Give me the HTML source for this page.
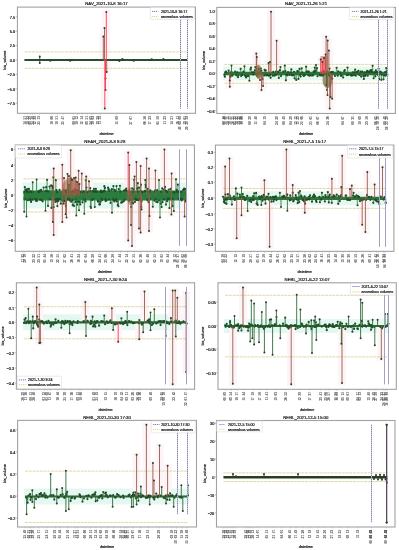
<!DOCTYPE html>
<html><head><meta charset="utf-8"><style>
html,body{margin:0;padding:0;background:#fff;width:399px;height:550px;overflow:hidden}
svg text{font-family:"Liberation Sans", sans-serif}
svg{will-change:transform}
.t{fill:#111;stroke:#111;stroke-width:0.18}
.k{font-size:3.0px;font-weight:bold;fill:#5a5a5a;stroke:#5a5a5a;stroke-width:0.05}
</style></head><body>
<svg xmlns="http://www.w3.org/2000/svg" width="399" height="550" viewBox="0 0 399 550" style="display:block">
<rect width="399" height="550" fill="#fff"/>
<rect x="102.3" y="10" width="8" height="52" fill="#fdf4f7"/>
<rect x="100.5" y="26" width="8" height="36" fill="#fdf4f7"/>
<rect x="99.3" y="34.5" width="8" height="27.5" fill="#fdf4f7"/>
<rect x="102.7" y="58" width="8" height="16" fill="#fdf4f7"/>
<rect x="101.5" y="58" width="8" height="22.4" fill="#fdf4f7"/>
<rect x="101.5" y="58" width="8" height="34" fill="#fdf4f7"/>
<rect x="100.8" y="58" width="8" height="52.5" fill="#fdf4f7"/>
<rect x="66.5" y="58" width="8" height="4" fill="#fdf4f7"/>
<line x1="24.5" y1="51.9" x2="188" y2="51.9" stroke="#e0d8a6" stroke-width="1" stroke-dasharray="3,0.7"/>
<line x1="24.5" y1="68.3" x2="188" y2="68.3" stroke="#e0d8a6" stroke-width="1" stroke-dasharray="3,0.7"/>
<line x1="24.5" y1="60" x2="188" y2="60" stroke="#2a4d2c" stroke-width="2.2"/>
<polyline points="24.5,59.59 24.89,60.12 25.28,59.59 25.67,60.18 26.06,59.92 26.45,60.02 26.84,59.89 27.23,60.18 27.62,60.07 28.01,60.15 28.4,60.17 28.79,59.96 29.18,60.38 29.57,59.73 29.96,60.02 30.35,60.02 30.74,59.85 31.13,59.93 31.52,60.02 31.91,60.27 32.3,60.22 32.69,60.23 33.08,59.91 33.47,59.58 33.87,59.74 34.26,59.84 34.65,59.81 35.04,60.22 35.43,60.28 35.82,59.77 36.21,60.33 36.6,59.79 36.99,59.67 37.38,60.01 37.77,60.1 38.16,59.89 38.55,60.06 38.94,60.06 39.33,59.87 39.72,60.32 40.11,59.8 40.5,59.91 40.89,60.11 41.28,60.29 41.67,59.55 42.06,60.37 42.45,59.73 42.84,59.75 43.23,59.95 43.62,59.86 44.01,60.16 44.4,60.05 44.79,60.23 45.18,60.28 45.57,60.24 45.96,59.92 46.35,59.85 46.74,60.23 47.13,60 47.52,60.14 47.91,60.31 48.3,59.86 48.69,59.97 49.08,60.39 49.47,59.85 49.86,60.13 50.25,60.72 50.64,59.7 51.03,60.1 51.42,60.01 51.82,59.66 52.21,59.65 52.6,59.88 52.99,59.76 53.38,60.05 53.77,59.99 54.16,60.04 54.55,59.87 54.94,59.86 55.33,59.61 55.72,59.8 56.11,60.18 56.5,60.17 56.89,59.74 57.28,59.91 57.67,59.9 58.06,60.16 58.45,60.14 58.84,60.04 59.23,60.25 59.62,60.07 60.01,59.92 60.4,60.14 60.79,60.02 61.18,59.92 61.57,59.92 61.96,60.27 62.35,60.33 62.74,60.39 63.13,59.87 63.52,60.38 63.91,60.29 64.3,60.38 64.69,59.78 65.08,59.97 65.47,59.57 65.86,60.3 66.25,60.03 66.64,59.94 67.03,59.94 67.42,60.02 67.81,60.07 68.2,59.95 68.59,59.97 68.98,60.04 69.37,59.62 69.76,60.08 70.16,60.73 70.55,60.09 70.94,59.91 71.33,60.28 71.72,59.74 72.11,60.19 72.5,60.12 72.89,60.36 73.28,59.84 73.67,60.06 74.06,60.19 74.45,60 74.84,59.96 75.23,59.98 75.62,59.52 76.01,60.03 76.4,60 76.79,59.88 77.18,60.11 77.57,60.04 77.96,60.2 78.35,60 78.74,60.06 79.13,60.17 79.52,60.33 79.91,60.17 80.3,60.3 80.69,59.75 81.08,59.97 81.47,60.29 81.86,60.07 82.25,59.65 82.64,60.45 83.03,59.64 83.42,59.82 83.81,59.75 84.2,60.5 84.59,60.05 84.98,59.66 85.37,60.14 85.76,60.1 86.15,59.65 86.54,59.69 86.93,60.21 87.32,59.93 87.71,59.62 88.11,60.06 88.5,59.5 88.89,59.97 89.28,60.25 89.67,59.97 90.06,60.29 90.45,59.89 90.84,60.36 91.23,60.26 91.62,59.8 92.01,60.03 92.4,60.05 92.79,59.95 93.18,60.04 93.57,60.1 93.96,59.79 94.35,59.77 94.74,60.3 95.13,59.98 95.52,60.14 95.91,60.29 96.3,59.99 96.69,59.62 97.08,60.26 97.47,60 97.86,59.96 98.25,60.16 98.64,59.5 99.03,59.91 99.42,59.84 99.81,59.81 100.2,60.27 100.59,60.23 100.98,60.13 101.37,59.96 101.76,60.02 102.15,60.28 102.54,59.75 102.93,59.96 103.32,59.95 103.71,59.89 104.1,60.41 104.49,60.08 104.88,59.96 105.27,60.03 105.66,59.97 106.05,60.3 106.45,60.38 106.84,59.83 107.23,59.88 107.62,60.16 108.01,59.84 108.4,60.14 108.79,60.02 109.18,59.61 109.57,59.35 109.96,60.27 110.35,59.98 110.74,60.03 111.13,59.86 111.52,60.1 111.91,59.92 112.3,59.71 112.69,60.01 113.08,59.56 113.47,60.23 113.86,59.52 114.25,60.36 114.64,59.72 115.03,59.73 115.42,59.86 115.81,59.64 116.2,59.54 116.59,59.9 116.98,60.25 117.37,60.01 117.76,60.14 118.15,59.91 118.54,60.12 118.93,60.12 119.32,60.94 119.71,59.9 120.1,60.31 120.49,59.77 120.88,60.38 121.27,59.8 121.66,60.02 122.05,59.8 122.44,59.21 122.83,59.91 123.22,60.18 123.61,59.56 124,59.76 124.39,59.84 124.79,60.03 125.18,59.74 125.57,59.91 125.96,59.82 126.35,60.14 126.74,59.72 127.13,59.85 127.52,60.1 127.91,59.46 128.3,59.63 128.69,59.82 129.08,59.69 129.47,59.91 129.86,60.43 130.25,60.31 130.64,60.13 131.03,59.84 131.42,60 131.81,59.84 132.2,60.33 132.59,60.13 132.98,59.6 133.37,59.87 133.76,60.68 134.15,60.23 134.54,59.91 134.93,59.83 135.32,59.74 135.71,60.19 136.1,60 136.49,60 136.88,60.27 137.27,59.82 137.66,59.94 138.05,59.94 138.44,60.19 138.83,59.65 139.22,59.98 139.61,59.49 140,60.33 140.39,59.95 140.78,59.96 141.17,60.06 141.56,59.94 141.95,59.5 142.34,59.98 142.74,59.68 143.13,59.73 143.52,59.91 143.91,60.36 144.3,60.08 144.69,59.6 145.08,59.85 145.47,59.97 145.86,59.7 146.25,60.15 146.64,60.04 147.03,60.16 147.42,59.86 147.81,60.13 148.2,59.8 148.59,59.88 148.98,60.04 149.37,60.07 149.76,59.87 150.15,59.7 150.54,60.15 150.93,60.22 151.32,60.1 151.71,59.27 152.1,59.81 152.49,59.78 152.88,59.97 153.27,60.22 153.66,59.81 154.05,59.99 154.44,60.23 154.83,60.36 155.22,60.08 155.61,59.82 156,59.91 156.39,59.89 156.78,59.88 157.17,60.08 157.56,59.88 157.95,59.93 158.34,59.74 158.73,60.25 159.12,59.5 159.51,59.72 159.9,59.91 160.29,59.79 160.68,59.83 161.08,59.76 161.47,59.41 161.86,60.05 162.25,59.85 162.64,59.82 163.03,59.92 163.42,59.21 163.81,59.95 164.2,60.22 164.59,59.82 164.98,60.13 165.37,60.09 165.76,60.17 166.15,60.07 166.54,59.88 166.93,59.72 167.32,59.92 167.71,60.4 168.1,59.65 168.49,59.94 168.88,60.12 169.27,60.21 169.66,59.84 170.05,60.3 170.44,59.9 170.83,60.19 171.22,59.76 171.61,60.08 172,60.46 172.39,60.2 172.78,59.36 173.17,60.06 173.56,60.28 173.95,59.86 174.34,59.92 174.73,59.64 175.12,60.09 175.51,59.64 175.9,60.19 176.29,60.2 176.68,59.69 177.07,60.12 177.46,59.98 177.85,60.21 178.24,59.37 178.63,59.63 179.03,60.27 179.42,60.21 179.81,59.55 180.2,60.1 180.59,60.61 180.98,60.2 181.37,60.54 181.76,60.28 182.15,59.84 182.54,59.72 182.93,60.17 183.32,60.11 183.71,59.68 184.1,59.99 184.49,60.37 184.88,60.01 185.27,60.08 185.66,60.21 186.05,60.11 186.44,60.25 186.83,60.07 187.22,60.16 187.61,59.94 188,60.18" fill="none" stroke="#2a4d2c" stroke-width="0.5" stroke-linejoin="round"/>
<circle cx="50.25" cy="60.72" r="1.1" fill="#1f4d26"/>
<circle cx="70.16" cy="60.73" r="1.1" fill="#1f4d26"/>
<circle cx="119.32" cy="60.94" r="1.1" fill="#1f4d26"/>
<circle cx="122.44" cy="59.21" r="1.1" fill="#1f4d26"/>
<circle cx="133.76" cy="60.68" r="1.1" fill="#1f4d26"/>
<circle cx="151.71" cy="59.27" r="1.1" fill="#1f4d26"/>
<circle cx="163.42" cy="59.21" r="1.1" fill="#1f4d26"/>
<line x1="106.3" y1="60" x2="106.3" y2="12" stroke="#ff3b52" stroke-width="0.9"/>
<circle cx="106.3" cy="12" r="1.0" fill="#2b3d2b"/>
<line x1="104.5" y1="60" x2="104.5" y2="28" stroke="#9a5a48" stroke-width="0.9"/>
<circle cx="104.5" cy="28" r="1.0" fill="#2b3d2b"/>
<line x1="103.3" y1="60" x2="103.3" y2="36.5" stroke="#9a5a48" stroke-width="0.9"/>
<circle cx="103.3" cy="36.5" r="1.0" fill="#2b3d2b"/>
<line x1="106.7" y1="60" x2="106.7" y2="72" stroke="#9a5a48" stroke-width="0.9"/>
<circle cx="106.7" cy="72" r="1.0" fill="#2b3d2b"/>
<line x1="105.5" y1="60" x2="105.5" y2="78.4" stroke="#ff3b52" stroke-width="0.9"/>
<circle cx="105.5" cy="78.4" r="1.0" fill="#2b3d2b"/>
<line x1="105.5" y1="60" x2="105.5" y2="90" stroke="#ff3b52" stroke-width="0.9"/>
<circle cx="105.5" cy="90" r="1.0" fill="#2b3d2b"/>
<line x1="104.8" y1="60" x2="104.8" y2="108.5" stroke="#ff3b52" stroke-width="0.9"/>
<circle cx="104.8" cy="108.5" r="1.0" fill="#2b3d2b"/>
<line x1="39.75" y1="60" x2="39.75" y2="56.5" stroke="#2a4d2c" stroke-width="0.9"/>
<circle cx="39.75" cy="56.5" r="1.0" fill="#2b3d2b"/>
<line x1="39.75" y1="60" x2="39.75" y2="63.1" stroke="#2a4d2c" stroke-width="0.9"/>
<circle cx="39.75" cy="63.1" r="1.0" fill="#2b3d2b"/>
<line x1="70.5" y1="60" x2="70.5" y2="60" stroke="#ff3b52" stroke-width="0.9"/>
<circle cx="70.5" cy="60" r="1.0" fill="#2b3d2b"/>
<line x1="180.5" y1="12" x2="180.5" y2="108.5" stroke="#c8c8da" stroke-width="1"/>
<line x1="180.5" y1="12" x2="180.5" y2="108.5" stroke="#7c7ca8" stroke-width="1" stroke-dasharray="1,1"/>
<line x1="187.5" y1="12" x2="187.5" y2="108.5" stroke="#c8c8da" stroke-width="1"/>
<line x1="187.5" y1="12" x2="187.5" y2="108.5" stroke="#7c7ca8" stroke-width="1" stroke-dasharray="1,1"/>
<rect x="17.45" y="7.1" width="178.05" height="106.2" fill="none" stroke="#a2a2a2" stroke-width="1.1"/>
<rect x="150.4" y="7.5" width="44" height="11.8" fill="#fff" fill-opacity="0.85" stroke="#dcdcdc" stroke-width="0.6" rx="0.6"/>
<line x1="151.9" y1="11.4" x2="158.3" y2="11.4" stroke="#6668b4" stroke-width="0.9" stroke-dasharray="1.2,0.8"/>
<line x1="151.9" y1="16.5" x2="158.3" y2="16.5" stroke="#dccf78" stroke-width="0.9" stroke-dasharray="1.2,0.8"/>
<text x="160.9" y="12.7" class="t" font-size="3.6">2021-10-8 16:17</text>
<text x="160.9" y="17.8" class="t" font-size="3.58">anomalous volumes</text>
<text x="106.47" y="4.85" class="t" font-size="4.3" text-anchor="middle">NAV_2021-10-8 16:17</text>
<line x1="15.65" y1="16.75" x2="17.45" y2="16.75" stroke="#a2a2a2" stroke-width="0.7"/>
<text x="15.25" y="18.65" class="t" font-size="3.9" text-anchor="end">7.5</text>
<line x1="15.65" y1="31.25" x2="17.45" y2="31.25" stroke="#a2a2a2" stroke-width="0.7"/>
<text x="15.25" y="33.15" class="t" font-size="3.9" text-anchor="end">5.0</text>
<line x1="15.65" y1="45.5" x2="17.45" y2="45.5" stroke="#a2a2a2" stroke-width="0.7"/>
<text x="15.25" y="47.4" class="t" font-size="3.9" text-anchor="end">2.5</text>
<line x1="15.65" y1="60" x2="17.45" y2="60" stroke="#a2a2a2" stroke-width="0.7"/>
<text x="15.25" y="61.9" class="t" font-size="3.9" text-anchor="end">0.0</text>
<line x1="15.65" y1="74.4" x2="17.45" y2="74.4" stroke="#a2a2a2" stroke-width="0.7"/>
<text x="15.25" y="76.3" class="t" font-size="3.9" text-anchor="end">−2.5</text>
<line x1="15.65" y1="88.8" x2="17.45" y2="88.8" stroke="#a2a2a2" stroke-width="0.7"/>
<text x="15.25" y="90.7" class="t" font-size="3.9" text-anchor="end">−5.0</text>
<line x1="15.65" y1="103.25" x2="17.45" y2="103.25" stroke="#a2a2a2" stroke-width="0.7"/>
<text x="15.25" y="105.15" class="t" font-size="3.9" text-anchor="end">−7.5</text>
<text x="0" y="0" class="t" font-size="3.75" text-anchor="middle" transform="translate(5.9,60.2) rotate(-90)">bis_volume</text>
<line x1="25" y1="113.3" x2="25" y2="114.7" stroke="#a2a2a2" stroke-width="0.5"/>
<text class="k" transform="translate(25.95,116.1) rotate(-90)" text-anchor="end">51</text>
<text class="k" transform="translate(25.95,121.2) rotate(-90)" text-anchor="end">14</text>
<line x1="27.6" y1="113.3" x2="27.6" y2="114.7" stroke="#a2a2a2" stroke-width="0.5"/>
<text class="k" transform="translate(28.55,116.1) rotate(-90)" text-anchor="end">33</text>
<text class="k" transform="translate(28.55,121.2) rotate(-90)" text-anchor="end">18</text>
<line x1="30.1" y1="113.3" x2="30.1" y2="114.7" stroke="#a2a2a2" stroke-width="0.5"/>
<text class="k" transform="translate(31.05,116.1) rotate(-90)" text-anchor="end">29</text>
<text class="k" transform="translate(31.05,121.2) rotate(-90)" text-anchor="end">08</text>
<line x1="32.6" y1="113.3" x2="32.6" y2="114.7" stroke="#a2a2a2" stroke-width="0.5"/>
<text class="k" transform="translate(33.55,116.1) rotate(-90)" text-anchor="end">40</text>
<text class="k" transform="translate(33.55,121.2) rotate(-90)" text-anchor="end">24</text>
<line x1="34.8" y1="113.3" x2="34.8" y2="114.7" stroke="#a2a2a2" stroke-width="0.5"/>
<text class="k" transform="translate(35.75,116.1) rotate(-90)" text-anchor="end">44</text>
<text class="k" transform="translate(35.75,121.2) rotate(-90)" text-anchor="end">12</text>
<line x1="39" y1="113.3" x2="39" y2="114.7" stroke="#a2a2a2" stroke-width="0.5"/>
<text class="k" transform="translate(39.95,116.1) rotate(-90)" text-anchor="end">13</text>
<text class="k" transform="translate(39.95,121.2) rotate(-90)" text-anchor="end">25</text>
<line x1="51.6" y1="113.3" x2="51.6" y2="114.7" stroke="#a2a2a2" stroke-width="0.5"/>
<text class="k" transform="translate(52.55,116.1) rotate(-90)" text-anchor="end">06</text>
<text class="k" transform="translate(52.55,121.2) rotate(-90)" text-anchor="end">10</text>
<line x1="57.3" y1="113.3" x2="57.3" y2="114.7" stroke="#a2a2a2" stroke-width="0.5"/>
<text class="k" transform="translate(58.25,116.1) rotate(-90)" text-anchor="end">51</text>
<text class="k" transform="translate(58.25,121.2) rotate(-90)" text-anchor="end">18</text>
<line x1="63.2" y1="113.3" x2="63.2" y2="114.7" stroke="#a2a2a2" stroke-width="0.5"/>
<text class="k" transform="translate(64.15,116.1) rotate(-90)" text-anchor="end">47</text>
<text class="k" transform="translate(64.15,121.2) rotate(-90)" text-anchor="end">25</text>
<line x1="73.6" y1="113.3" x2="73.6" y2="114.7" stroke="#a2a2a2" stroke-width="0.5"/>
<text class="k" transform="translate(74.55,116.1) rotate(-90)" text-anchor="end">05</text>
<text class="k" transform="translate(74.55,121.2) rotate(-90)" text-anchor="end">00</text>
<line x1="77.4" y1="113.3" x2="77.4" y2="114.7" stroke="#a2a2a2" stroke-width="0.5"/>
<text class="k" transform="translate(78.35,116.1) rotate(-90)" text-anchor="end">12</text>
<text class="k" transform="translate(78.35,121.2) rotate(-90)" text-anchor="end">10</text>
<line x1="82.4" y1="113.3" x2="82.4" y2="114.7" stroke="#a2a2a2" stroke-width="0.5"/>
<text class="k" transform="translate(83.35,116.1) rotate(-90)" text-anchor="end">14</text>
<text class="k" transform="translate(83.35,121.2) rotate(-90)" text-anchor="end">12</text>
<line x1="87.4" y1="113.3" x2="87.4" y2="114.7" stroke="#a2a2a2" stroke-width="0.5"/>
<text class="k" transform="translate(88.35,116.1) rotate(-90)" text-anchor="end">51</text>
<text class="k" transform="translate(88.35,121.2) rotate(-90)" text-anchor="end">09</text>
<line x1="91.4" y1="113.3" x2="91.4" y2="114.7" stroke="#a2a2a2" stroke-width="0.5"/>
<text class="k" transform="translate(92.35,116.1) rotate(-90)" text-anchor="end">03</text>
<text class="k" transform="translate(92.35,121.2) rotate(-90)" text-anchor="end">24</text>
<line x1="93" y1="113.3" x2="93" y2="114.7" stroke="#a2a2a2" stroke-width="0.5"/>
<text class="k" transform="translate(93.95,116.1) rotate(-90)" text-anchor="end">04</text>
<text class="k" transform="translate(93.95,121.2) rotate(-90)" text-anchor="end">10</text>
<line x1="98" y1="113.3" x2="98" y2="114.7" stroke="#a2a2a2" stroke-width="0.5"/>
<text class="k" transform="translate(98.95,116.1) rotate(-90)" text-anchor="end">28</text>
<text class="k" transform="translate(98.95,121.2) rotate(-90)" text-anchor="end">19</text>
<line x1="100.3" y1="113.3" x2="100.3" y2="114.7" stroke="#a2a2a2" stroke-width="0.5"/>
<text class="k" transform="translate(101.25,116.1) rotate(-90)" text-anchor="end">19</text>
<text class="k" transform="translate(101.25,121.2) rotate(-90)" text-anchor="end">11</text>
<line x1="116.9" y1="113.3" x2="116.9" y2="114.7" stroke="#a2a2a2" stroke-width="0.5"/>
<text class="k" transform="translate(117.85,116.1) rotate(-90)" text-anchor="end">08</text>
<text class="k" transform="translate(117.85,121.2) rotate(-90)" text-anchor="end">15</text>
<line x1="131.5" y1="113.3" x2="131.5" y2="114.7" stroke="#a2a2a2" stroke-width="0.5"/>
<text class="k" transform="translate(132.45,116.1) rotate(-90)" text-anchor="end">07</text>
<text class="k" transform="translate(132.45,121.2) rotate(-90)" text-anchor="end">27</text>
<line x1="145.3" y1="113.3" x2="145.3" y2="114.7" stroke="#a2a2a2" stroke-width="0.5"/>
<text class="k" transform="translate(146.25,116.1) rotate(-90)" text-anchor="end">56</text>
<text class="k" transform="translate(146.25,121.2) rotate(-90)" text-anchor="end">06</text>
<line x1="150.3" y1="113.3" x2="150.3" y2="114.7" stroke="#a2a2a2" stroke-width="0.5"/>
<text class="k" transform="translate(151.25,116.1) rotate(-90)" text-anchor="end">23</text>
<text class="k" transform="translate(151.25,121.2) rotate(-90)" text-anchor="end">17</text>
<line x1="157.8" y1="113.3" x2="157.8" y2="114.7" stroke="#a2a2a2" stroke-width="0.5"/>
<text class="k" transform="translate(158.75,116.1) rotate(-90)" text-anchor="end">58</text>
<text class="k" transform="translate(158.75,121.2) rotate(-90)" text-anchor="end">05</text>
<line x1="165" y1="113.3" x2="165" y2="114.7" stroke="#a2a2a2" stroke-width="0.5"/>
<text class="k" transform="translate(165.95,116.1) rotate(-90)" text-anchor="end">23</text>
<text class="k" transform="translate(165.95,121.2) rotate(-90)" text-anchor="end">11</text>
<line x1="171.8" y1="113.3" x2="171.8" y2="114.7" stroke="#a2a2a2" stroke-width="0.5"/>
<text class="k" transform="translate(172.75,116.1) rotate(-90)" text-anchor="end">21</text>
<text class="k" transform="translate(172.75,121.2) rotate(-90)" text-anchor="end">14</text>
<line x1="178" y1="113.3" x2="178" y2="114.7" stroke="#a2a2a2" stroke-width="0.5"/>
<text class="k" transform="translate(178.95,116.1) rotate(-90)" text-anchor="end">11</text>
<text class="k" transform="translate(178.95,121.2) rotate(-90)" text-anchor="end">16</text>
<line x1="185" y1="113.3" x2="185" y2="114.7" stroke="#a2a2a2" stroke-width="0.5"/>
<text class="k" transform="translate(185.95,116.1) rotate(-90)" text-anchor="end">05</text>
<text class="k" transform="translate(185.95,121.2) rotate(-90)" text-anchor="end">19</text>
<line x1="180.5" y1="113.3" x2="180.5" y2="114.7" stroke="#a2a2a2" stroke-width="0.5"/>
<text class="k" transform="translate(181.45,116.1) rotate(-90)" text-anchor="end">00</text>
<text class="k" transform="translate(181.45,121.2) rotate(-90)" text-anchor="end">04</text>
<text class="k" transform="translate(181.45,126.5) rotate(-90)" text-anchor="end">49</text>
<line x1="186.9" y1="113.3" x2="186.9" y2="114.7" stroke="#a2a2a2" stroke-width="0.5"/>
<text class="k" transform="translate(187.85,116.1) rotate(-90)" text-anchor="end">54</text>
<text class="k" transform="translate(187.85,121.2) rotate(-90)" text-anchor="end">28</text>
<text class="k" transform="translate(187.85,126.5) rotate(-90)" text-anchor="end">29</text>
<text x="106.47" y="134.7" class="t" font-size="3.7" text-anchor="middle">datetime</text>
<rect x="223.3" y="66.5" width="165" height="14" fill="#e4f7f1"/>
<rect x="267" y="9.8" width="8" height="65.7" fill="#fdf4f7"/>
<rect x="272.6" y="38.7" width="8" height="36.8" fill="#fdf4f7"/>
<rect x="252.3" y="51.5" width="8" height="24" fill="#fdf4f7"/>
<rect x="252.8" y="55" width="8" height="20.5" fill="#fdf4f7"/>
<rect x="225.8" y="71.5" width="8" height="17.2" fill="#fdf4f7"/>
<rect x="225.8" y="71.5" width="8" height="11" fill="#fdf4f7"/>
<rect x="256" y="71.5" width="8" height="10.5" fill="#fdf4f7"/>
<rect x="257.5" y="71.5" width="8" height="20.5" fill="#fdf4f7"/>
<rect x="259" y="71.5" width="8" height="16.5" fill="#fdf4f7"/>
<rect x="264.5" y="61" width="8" height="14.5" fill="#fdf4f7"/>
<rect x="266" y="60" width="8" height="15.5" fill="#fdf4f7"/>
<rect x="316.7" y="57.4" width="8" height="18.1" fill="#fdf4f7"/>
<rect x="318.5" y="60" width="8" height="15.5" fill="#fdf4f7"/>
<rect x="320" y="56" width="8" height="19.5" fill="#fdf4f7"/>
<rect x="322.1" y="34.8" width="8" height="40.7" fill="#fdf4f7"/>
<rect x="323.7" y="38.6" width="8" height="36.9" fill="#fdf4f7"/>
<rect x="324.9" y="48.4" width="8" height="27.1" fill="#fdf4f7"/>
<rect x="321.6" y="52.5" width="8" height="23" fill="#fdf4f7"/>
<rect x="325.7" y="71.5" width="8" height="39.1" fill="#fdf4f7"/>
<rect x="328.1" y="71.5" width="8" height="29.3" fill="#fdf4f7"/>
<rect x="326.5" y="71.5" width="8" height="27.6" fill="#fdf4f7"/>
<rect x="323.5" y="71.5" width="8" height="25.5" fill="#fdf4f7"/>
<line x1="224.3" y1="64.4" x2="387.3" y2="64.4" stroke="#e0d8a6" stroke-width="1" stroke-dasharray="3,0.7"/>
<line x1="224.3" y1="83.2" x2="387.3" y2="83.2" stroke="#e0d8a6" stroke-width="1" stroke-dasharray="3,0.7"/>
<line x1="224.3" y1="73.5" x2="387.3" y2="73.5" stroke="#2e7438" stroke-width="3.4"/>
<polyline points="224.3,74.65 224.85,76.67 225.39,72.28 225.94,71.48 226.48,72.67 227.03,72.66 227.57,74.01 228.12,74.03 228.66,70.53 229.21,73.7 229.75,74.43 230.3,76.98 230.84,75.78 231.39,71.74 231.93,72.5 232.48,75.54 233.02,73.31 233.57,73.16 234.11,73.35 234.66,73.73 235.2,71.7 235.75,72.73 236.29,75.28 236.84,73.8 237.38,72.27 237.93,77.25 238.47,75.59 239.02,72.71 239.56,73.44 240.11,73.16 240.65,68.85 241.2,76.09 241.74,74.99 242.29,74.88 242.84,73.69 243.38,71.7 243.93,73.3 244.47,66.34 245.02,75.59 245.56,76.01 246.11,77.41 246.65,74.18 247.2,76.07 247.74,73.87 248.29,75.88 248.83,72.51 249.38,80.76 249.92,72.63 250.47,69.44 251.01,67.66 251.56,74.4 252.1,72.37 252.65,73.57 253.19,74.54 253.74,72.36 254.28,73.24 254.83,70.39 255.37,67 255.92,73.73 256.46,74.74 257.01,71.71 257.55,76.23 258.1,72.62 258.64,68.86 259.19,72.85 259.73,73.29 260.28,71.01 260.83,68.55 261.37,70.76 261.92,74.3 262.46,79.07 263.01,73.25 263.55,73.26 264.1,75.53 264.64,69.86 265.19,74.31 265.73,70.33 266.28,75.46 266.82,74.84 267.37,75.19 267.91,72.55 268.46,72.54 269,75.8 269.55,72.61 270.09,74.74 270.64,77.79 271.18,73.67 271.73,74.41 272.27,73.75 272.82,75.71 273.36,71.86 273.91,72.5 274.45,75.64 275,73.7 275.54,74.86 276.09,71.51 276.63,74.57 277.18,73.03 277.72,72.18 278.27,71.69 278.82,78.02 279.36,73.95 279.91,70.19 280.45,66.99 281,76.11 281.54,73.89 282.09,73.22 282.63,74.41 283.18,71.68 283.72,73.23 284.27,73.6 284.81,65.54 285.36,71.04 285.9,80.33 286.45,74.68 286.99,75.16 287.54,75.13 288.08,72.04 288.63,73.92 289.17,72.59 289.72,74.89 290.26,73.07 290.81,72.28 291.35,69.45 291.9,75.17 292.44,72.82 292.99,75.32 293.53,75.23 294.08,71.74 294.62,78.33 295.17,73.93 295.71,73.81 296.26,79.93 296.81,73.29 297.35,71.19 297.9,71.36 298.44,78.9 298.99,73.12 299.53,68.92 300.08,74.82 300.62,76.61 301.17,72.84 301.71,68.23 302.26,72.48 302.8,73.09 303.35,75.28 303.89,75.88 304.44,72.62 304.98,74.95 305.53,73.74 306.07,66.66 306.62,71.68 307.16,73.88 307.71,71.72 308.25,75.2 308.8,71.61 309.34,75.56 309.89,72.94 310.43,75.51 310.98,74.22 311.52,73.32 312.07,75.56 312.61,73.11 313.16,75.14 313.7,71.51 314.25,71.72 314.79,67.58 315.34,71.18 315.89,70.6 316.43,73.5 316.98,68.13 317.52,76.25 318.07,74.38 318.61,73.95 319.16,72.64 319.7,75.27 320.25,74.62 320.79,75.25 321.34,75.44 321.88,72.63 322.43,71.9 322.97,75.69 323.52,70.96 324.06,72.24 324.61,74.25 325.15,73.38 325.7,74.12 326.24,73.61 326.79,74.19 327.33,71.66 327.88,73.65 328.42,75.05 328.97,75.35 329.51,68.51 330.06,76.67 330.6,76.8 331.15,72.16 331.69,72.31 332.24,78.84 332.78,71.92 333.33,73.7 333.88,74.49 334.42,74.3 334.97,76 335.51,72.76 336.06,73.57 336.6,67.77 337.15,73.56 337.69,75.67 338.24,71.44 338.78,73.21 339.33,73.15 339.87,74.52 340.42,72.32 340.96,75.65 341.51,75.66 342.05,73.13 342.6,74.4 343.14,77.48 343.69,72.54 344.23,71.14 344.78,70.05 345.32,74.32 345.87,73.88 346.41,72.6 346.96,75.15 347.5,67.58 348.05,73.18 348.59,74.74 349.14,73.69 349.68,72.49 350.23,74.2 350.77,74.91 351.32,75.57 351.87,74.46 352.41,75.49 352.96,72.26 353.5,72.82 354.05,75 354.59,72.36 355.14,69.67 355.68,75.76 356.23,73.57 356.77,72.18 357.32,71.86 357.86,73.54 358.41,70.77 358.95,73.33 359.5,74.9 360.04,73.13 360.59,71.63 361.13,76.62 361.68,73.56 362.22,71.52 362.77,73.06 363.31,75.93 363.86,78.9 364.4,72.32 364.95,75.93 365.49,75.17 366.04,74.15 366.58,71.96 367.13,70.75 367.67,75.77 368.22,71.72 368.76,71.97 369.31,72.17 369.86,73.38 370.4,70.25 370.95,71.28 371.49,70.05 372.04,72.03 372.58,65.8 373.13,74.44 373.67,78.23 374.22,72.46 374.76,72.37 375.31,76.35 375.85,70.29 376.4,72.2 376.94,71.94 377.49,73.27 378.03,74.82 378.58,68.83 379.12,79.16 379.67,74.22 380.21,71.62 380.76,72.12 381.3,79.82 381.85,74.61 382.39,72.55 382.94,72.61 383.48,79.28 384.03,75.55 384.57,73.13 385.12,72.17 385.66,75.57 386.21,67.98 386.75,71.49 387.3,74.67" fill="none" stroke="#2e7438" stroke-width="0.5" stroke-linejoin="round"/>
<circle cx="224.3" cy="74.65" r="1.1" fill="#1f4d26"/>
<circle cx="224.85" cy="76.67" r="1.1" fill="#1f4d26"/>
<circle cx="225.39" cy="72.28" r="1.1" fill="#1f4d26"/>
<circle cx="225.94" cy="71.48" r="1.1" fill="#1f4d26"/>
<circle cx="228.66" cy="70.53" r="1.1" fill="#1f4d26"/>
<circle cx="230.3" cy="76.98" r="1.1" fill="#1f4d26"/>
<circle cx="230.84" cy="75.78" r="1.1" fill="#1f4d26"/>
<circle cx="231.39" cy="71.74" r="1.1" fill="#1f4d26"/>
<circle cx="232.48" cy="75.54" r="1.1" fill="#1f4d26"/>
<circle cx="235.2" cy="71.7" r="1.1" fill="#1f4d26"/>
<circle cx="236.29" cy="75.28" r="1.1" fill="#1f4d26"/>
<circle cx="237.38" cy="72.27" r="1.1" fill="#1f4d26"/>
<circle cx="237.93" cy="77.25" r="1.1" fill="#1f4d26"/>
<circle cx="238.47" cy="75.59" r="1.1" fill="#1f4d26"/>
<circle cx="240.65" cy="68.85" r="1.1" fill="#1f4d26"/>
<circle cx="241.2" cy="76.09" r="1.1" fill="#1f4d26"/>
<circle cx="241.74" cy="74.99" r="1.1" fill="#1f4d26"/>
<circle cx="242.29" cy="74.88" r="1.1" fill="#1f4d26"/>
<circle cx="243.38" cy="71.7" r="1.1" fill="#1f4d26"/>
<circle cx="244.47" cy="66.34" r="1.1" fill="#1f4d26"/>
<circle cx="245.02" cy="75.59" r="1.1" fill="#1f4d26"/>
<circle cx="245.56" cy="76.01" r="1.1" fill="#1f4d26"/>
<circle cx="246.11" cy="77.41" r="1.1" fill="#1f4d26"/>
<circle cx="247.2" cy="76.07" r="1.1" fill="#1f4d26"/>
<circle cx="248.29" cy="75.88" r="1.1" fill="#1f4d26"/>
<circle cx="249.38" cy="80.76" r="1.1" fill="#1f4d26"/>
<circle cx="250.47" cy="69.44" r="1.1" fill="#1f4d26"/>
<circle cx="251.01" cy="67.66" r="1.1" fill="#1f4d26"/>
<circle cx="252.1" cy="72.37" r="1.1" fill="#1f4d26"/>
<circle cx="253.19" cy="74.54" r="1.1" fill="#1f4d26"/>
<circle cx="253.74" cy="72.36" r="1.1" fill="#1f4d26"/>
<circle cx="254.83" cy="70.39" r="1.1" fill="#1f4d26"/>
<circle cx="255.37" cy="67" r="1.1" fill="#1f4d26"/>
<circle cx="256.46" cy="74.74" r="1.1" fill="#1f4d26"/>
<circle cx="257.01" cy="71.71" r="1.1" fill="#1f4d26"/>
<circle cx="257.55" cy="76.23" r="1.1" fill="#1f4d26"/>
<circle cx="258.64" cy="68.86" r="1.1" fill="#1f4d26"/>
<circle cx="260.28" cy="71.01" r="1.1" fill="#1f4d26"/>
<circle cx="260.83" cy="68.55" r="1.1" fill="#1f4d26"/>
<circle cx="261.37" cy="70.76" r="1.1" fill="#1f4d26"/>
<circle cx="262.46" cy="79.07" r="1.1" fill="#1f4d26"/>
<circle cx="264.1" cy="75.53" r="1.1" fill="#1f4d26"/>
<circle cx="264.64" cy="69.86" r="1.1" fill="#1f4d26"/>
<circle cx="265.73" cy="70.33" r="1.1" fill="#1f4d26"/>
<circle cx="266.28" cy="75.46" r="1.1" fill="#1f4d26"/>
<circle cx="266.82" cy="74.84" r="1.1" fill="#1f4d26"/>
<circle cx="267.37" cy="75.19" r="1.1" fill="#1f4d26"/>
<circle cx="269" cy="75.8" r="1.1" fill="#1f4d26"/>
<circle cx="270.09" cy="74.74" r="1.1" fill="#1f4d26"/>
<circle cx="270.64" cy="77.79" r="1.1" fill="#1f4d26"/>
<circle cx="272.82" cy="75.71" r="1.1" fill="#1f4d26"/>
<circle cx="273.36" cy="71.86" r="1.1" fill="#1f4d26"/>
<circle cx="274.45" cy="75.64" r="1.1" fill="#1f4d26"/>
<circle cx="275.54" cy="74.86" r="1.1" fill="#1f4d26"/>
<circle cx="276.09" cy="71.51" r="1.1" fill="#1f4d26"/>
<circle cx="276.63" cy="74.57" r="1.1" fill="#1f4d26"/>
<circle cx="277.72" cy="72.18" r="1.1" fill="#1f4d26"/>
<circle cx="278.27" cy="71.69" r="1.1" fill="#1f4d26"/>
<circle cx="278.82" cy="78.02" r="1.1" fill="#1f4d26"/>
<circle cx="279.91" cy="70.19" r="1.1" fill="#1f4d26"/>
<circle cx="280.45" cy="66.99" r="1.1" fill="#1f4d26"/>
<circle cx="281" cy="76.11" r="1.1" fill="#1f4d26"/>
<circle cx="283.18" cy="71.68" r="1.1" fill="#1f4d26"/>
<circle cx="284.81" cy="65.54" r="1.1" fill="#1f4d26"/>
<circle cx="285.36" cy="71.04" r="1.1" fill="#1f4d26"/>
<circle cx="285.9" cy="80.33" r="1.1" fill="#1f4d26"/>
<circle cx="286.45" cy="74.68" r="1.1" fill="#1f4d26"/>
<circle cx="286.99" cy="75.16" r="1.1" fill="#1f4d26"/>
<circle cx="287.54" cy="75.13" r="1.1" fill="#1f4d26"/>
<circle cx="288.08" cy="72.04" r="1.1" fill="#1f4d26"/>
<circle cx="289.72" cy="74.89" r="1.1" fill="#1f4d26"/>
<circle cx="290.81" cy="72.28" r="1.1" fill="#1f4d26"/>
<circle cx="291.35" cy="69.45" r="1.1" fill="#1f4d26"/>
<circle cx="291.9" cy="75.17" r="1.1" fill="#1f4d26"/>
<circle cx="292.99" cy="75.32" r="1.1" fill="#1f4d26"/>
<circle cx="293.53" cy="75.23" r="1.1" fill="#1f4d26"/>
<circle cx="294.08" cy="71.74" r="1.1" fill="#1f4d26"/>
<circle cx="294.62" cy="78.33" r="1.1" fill="#1f4d26"/>
<circle cx="296.26" cy="79.93" r="1.1" fill="#1f4d26"/>
<circle cx="297.35" cy="71.19" r="1.1" fill="#1f4d26"/>
<circle cx="297.9" cy="71.36" r="1.1" fill="#1f4d26"/>
<circle cx="298.44" cy="78.9" r="1.1" fill="#1f4d26"/>
<circle cx="299.53" cy="68.92" r="1.1" fill="#1f4d26"/>
<circle cx="300.08" cy="74.82" r="1.1" fill="#1f4d26"/>
<circle cx="300.62" cy="76.61" r="1.1" fill="#1f4d26"/>
<circle cx="301.71" cy="68.23" r="1.1" fill="#1f4d26"/>
<circle cx="302.26" cy="72.48" r="1.1" fill="#1f4d26"/>
<circle cx="303.35" cy="75.28" r="1.1" fill="#1f4d26"/>
<circle cx="303.89" cy="75.88" r="1.1" fill="#1f4d26"/>
<circle cx="304.98" cy="74.95" r="1.1" fill="#1f4d26"/>
<circle cx="306.07" cy="66.66" r="1.1" fill="#1f4d26"/>
<circle cx="306.62" cy="71.68" r="1.1" fill="#1f4d26"/>
<circle cx="307.71" cy="71.72" r="1.1" fill="#1f4d26"/>
<circle cx="308.25" cy="75.2" r="1.1" fill="#1f4d26"/>
<circle cx="308.8" cy="71.61" r="1.1" fill="#1f4d26"/>
<circle cx="309.34" cy="75.56" r="1.1" fill="#1f4d26"/>
<circle cx="310.43" cy="75.51" r="1.1" fill="#1f4d26"/>
<circle cx="312.07" cy="75.56" r="1.1" fill="#1f4d26"/>
<circle cx="313.16" cy="75.14" r="1.1" fill="#1f4d26"/>
<circle cx="313.7" cy="71.51" r="1.1" fill="#1f4d26"/>
<circle cx="314.25" cy="71.72" r="1.1" fill="#1f4d26"/>
<circle cx="314.79" cy="67.58" r="1.1" fill="#1f4d26"/>
<circle cx="315.34" cy="71.18" r="1.1" fill="#1f4d26"/>
<circle cx="315.89" cy="70.6" r="1.1" fill="#1f4d26"/>
<circle cx="316.98" cy="68.13" r="1.1" fill="#1f4d26"/>
<circle cx="317.52" cy="76.25" r="1.1" fill="#1f4d26"/>
<circle cx="319.7" cy="75.27" r="1.1" fill="#1f4d26"/>
<circle cx="320.25" cy="74.62" r="1.1" fill="#1f4d26"/>
<circle cx="320.79" cy="75.25" r="1.1" fill="#1f4d26"/>
<circle cx="321.34" cy="75.44" r="1.1" fill="#1f4d26"/>
<circle cx="322.43" cy="71.9" r="1.1" fill="#1f4d26"/>
<circle cx="322.97" cy="75.69" r="1.1" fill="#1f4d26"/>
<circle cx="323.52" cy="70.96" r="1.1" fill="#1f4d26"/>
<circle cx="324.06" cy="72.24" r="1.1" fill="#1f4d26"/>
<circle cx="327.33" cy="71.66" r="1.1" fill="#1f4d26"/>
<circle cx="328.42" cy="75.05" r="1.1" fill="#1f4d26"/>
<circle cx="328.97" cy="75.35" r="1.1" fill="#1f4d26"/>
<circle cx="329.51" cy="68.51" r="1.1" fill="#1f4d26"/>
<circle cx="330.06" cy="76.67" r="1.1" fill="#1f4d26"/>
<circle cx="330.6" cy="76.8" r="1.1" fill="#1f4d26"/>
<circle cx="331.15" cy="72.16" r="1.1" fill="#1f4d26"/>
<circle cx="331.69" cy="72.31" r="1.1" fill="#1f4d26"/>
<circle cx="332.24" cy="78.84" r="1.1" fill="#1f4d26"/>
<circle cx="332.78" cy="71.92" r="1.1" fill="#1f4d26"/>
<circle cx="334.97" cy="76" r="1.1" fill="#1f4d26"/>
<circle cx="336.6" cy="67.77" r="1.1" fill="#1f4d26"/>
<circle cx="337.69" cy="75.67" r="1.1" fill="#1f4d26"/>
<circle cx="338.24" cy="71.44" r="1.1" fill="#1f4d26"/>
<circle cx="340.42" cy="72.32" r="1.1" fill="#1f4d26"/>
<circle cx="340.96" cy="75.65" r="1.1" fill="#1f4d26"/>
<circle cx="341.51" cy="75.66" r="1.1" fill="#1f4d26"/>
<circle cx="343.14" cy="77.48" r="1.1" fill="#1f4d26"/>
<circle cx="344.23" cy="71.14" r="1.1" fill="#1f4d26"/>
<circle cx="344.78" cy="70.05" r="1.1" fill="#1f4d26"/>
<circle cx="346.96" cy="75.15" r="1.1" fill="#1f4d26"/>
<circle cx="347.5" cy="67.58" r="1.1" fill="#1f4d26"/>
<circle cx="348.59" cy="74.74" r="1.1" fill="#1f4d26"/>
<circle cx="350.77" cy="74.91" r="1.1" fill="#1f4d26"/>
<circle cx="351.32" cy="75.57" r="1.1" fill="#1f4d26"/>
<circle cx="352.41" cy="75.49" r="1.1" fill="#1f4d26"/>
<circle cx="352.96" cy="72.26" r="1.1" fill="#1f4d26"/>
<circle cx="354.05" cy="75" r="1.1" fill="#1f4d26"/>
<circle cx="354.59" cy="72.36" r="1.1" fill="#1f4d26"/>
<circle cx="355.14" cy="69.67" r="1.1" fill="#1f4d26"/>
<circle cx="355.68" cy="75.76" r="1.1" fill="#1f4d26"/>
<circle cx="356.77" cy="72.18" r="1.1" fill="#1f4d26"/>
<circle cx="357.32" cy="71.86" r="1.1" fill="#1f4d26"/>
<circle cx="358.41" cy="70.77" r="1.1" fill="#1f4d26"/>
<circle cx="359.5" cy="74.9" r="1.1" fill="#1f4d26"/>
<circle cx="360.59" cy="71.63" r="1.1" fill="#1f4d26"/>
<circle cx="361.13" cy="76.62" r="1.1" fill="#1f4d26"/>
<circle cx="362.22" cy="71.52" r="1.1" fill="#1f4d26"/>
<circle cx="363.31" cy="75.93" r="1.1" fill="#1f4d26"/>
<circle cx="363.86" cy="78.9" r="1.1" fill="#1f4d26"/>
<circle cx="364.4" cy="72.32" r="1.1" fill="#1f4d26"/>
<circle cx="364.95" cy="75.93" r="1.1" fill="#1f4d26"/>
<circle cx="365.49" cy="75.17" r="1.1" fill="#1f4d26"/>
<circle cx="366.58" cy="71.96" r="1.1" fill="#1f4d26"/>
<circle cx="367.13" cy="70.75" r="1.1" fill="#1f4d26"/>
<circle cx="367.67" cy="75.77" r="1.1" fill="#1f4d26"/>
<circle cx="368.22" cy="71.72" r="1.1" fill="#1f4d26"/>
<circle cx="368.76" cy="71.97" r="1.1" fill="#1f4d26"/>
<circle cx="369.31" cy="72.17" r="1.1" fill="#1f4d26"/>
<circle cx="370.4" cy="70.25" r="1.1" fill="#1f4d26"/>
<circle cx="370.95" cy="71.28" r="1.1" fill="#1f4d26"/>
<circle cx="371.49" cy="70.05" r="1.1" fill="#1f4d26"/>
<circle cx="372.04" cy="72.03" r="1.1" fill="#1f4d26"/>
<circle cx="372.58" cy="65.8" r="1.1" fill="#1f4d26"/>
<circle cx="373.67" cy="78.23" r="1.1" fill="#1f4d26"/>
<circle cx="374.22" cy="72.46" r="1.1" fill="#1f4d26"/>
<circle cx="374.76" cy="72.37" r="1.1" fill="#1f4d26"/>
<circle cx="375.31" cy="76.35" r="1.1" fill="#1f4d26"/>
<circle cx="375.85" cy="70.29" r="1.1" fill="#1f4d26"/>
<circle cx="376.4" cy="72.2" r="1.1" fill="#1f4d26"/>
<circle cx="376.94" cy="71.94" r="1.1" fill="#1f4d26"/>
<circle cx="378.03" cy="74.82" r="1.1" fill="#1f4d26"/>
<circle cx="378.58" cy="68.83" r="1.1" fill="#1f4d26"/>
<circle cx="379.12" cy="79.16" r="1.1" fill="#1f4d26"/>
<circle cx="380.21" cy="71.62" r="1.1" fill="#1f4d26"/>
<circle cx="380.76" cy="72.12" r="1.1" fill="#1f4d26"/>
<circle cx="381.3" cy="79.82" r="1.1" fill="#1f4d26"/>
<circle cx="381.85" cy="74.61" r="1.1" fill="#1f4d26"/>
<circle cx="383.48" cy="79.28" r="1.1" fill="#1f4d26"/>
<circle cx="384.03" cy="75.55" r="1.1" fill="#1f4d26"/>
<circle cx="385.12" cy="72.17" r="1.1" fill="#1f4d26"/>
<circle cx="385.66" cy="75.57" r="1.1" fill="#1f4d26"/>
<circle cx="386.21" cy="67.98" r="1.1" fill="#1f4d26"/>
<circle cx="386.75" cy="71.49" r="1.1" fill="#1f4d26"/>
<circle cx="387.3" cy="74.67" r="1.1" fill="#1f4d26"/>
<ellipse cx="258.5" cy="72" rx="3.2" ry="7" fill="#7a6a3a" fill-opacity="0.75"/>
<ellipse cx="327.5" cy="80" rx="5" ry="8" fill="#6a5a30" fill-opacity="0.65"/>
<rect x="320.5" y="56" width="7" height="17" fill="#e05050" fill-opacity="0.55"/>
<line x1="271" y1="73.5" x2="271" y2="11.8" stroke="#9a5a48" stroke-width="0.9"/>
<circle cx="271" cy="11.8" r="1.0" fill="#2b3d2b"/>
<line x1="276.6" y1="73.5" x2="276.6" y2="40.7" stroke="#9a5a48" stroke-width="0.9"/>
<circle cx="276.6" cy="40.7" r="1.0" fill="#2b3d2b"/>
<line x1="256.3" y1="73.5" x2="256.3" y2="53.5" stroke="#9a5a48" stroke-width="0.9"/>
<circle cx="256.3" cy="53.5" r="1.0" fill="#2b3d2b"/>
<line x1="256.8" y1="73.5" x2="256.8" y2="57" stroke="#9a5a48" stroke-width="0.9"/>
<circle cx="256.8" cy="57" r="1.0" fill="#2b3d2b"/>
<line x1="229.8" y1="73.5" x2="229.8" y2="86.7" stroke="#9a5a48" stroke-width="0.9"/>
<circle cx="229.8" cy="86.7" r="1.0" fill="#2b3d2b"/>
<line x1="229.8" y1="73.5" x2="229.8" y2="80.5" stroke="#9a5a48" stroke-width="0.9"/>
<circle cx="229.8" cy="80.5" r="1.0" fill="#2b3d2b"/>
<line x1="231.5" y1="73.5" x2="231.5" y2="65.5" stroke="#2e7438" stroke-width="0.9"/>
<circle cx="231.5" cy="65.5" r="1.0" fill="#2b3d2b"/>
<line x1="260" y1="73.5" x2="260" y2="80" stroke="#9a5a48" stroke-width="0.9"/>
<circle cx="260" cy="80" r="1.0" fill="#2b3d2b"/>
<line x1="261.5" y1="73.5" x2="261.5" y2="90" stroke="#9a5a48" stroke-width="0.9"/>
<circle cx="261.5" cy="90" r="1.0" fill="#2b3d2b"/>
<line x1="263" y1="73.5" x2="263" y2="86" stroke="#9a5a48" stroke-width="0.9"/>
<circle cx="263" cy="86" r="1.0" fill="#2b3d2b"/>
<line x1="268.5" y1="73.5" x2="268.5" y2="63" stroke="#9a5a48" stroke-width="0.9"/>
<circle cx="268.5" cy="63" r="1.0" fill="#2b3d2b"/>
<line x1="270" y1="73.5" x2="270" y2="62" stroke="#9a5a48" stroke-width="0.9"/>
<circle cx="270" cy="62" r="1.0" fill="#2b3d2b"/>
<line x1="320.7" y1="73.5" x2="320.7" y2="59.4" stroke="#ff3b52" stroke-width="0.9"/>
<circle cx="320.7" cy="59.4" r="1.0" fill="#2b3d2b"/>
<line x1="322.5" y1="73.5" x2="322.5" y2="62" stroke="#ff3b52" stroke-width="0.9"/>
<circle cx="322.5" cy="62" r="1.0" fill="#2b3d2b"/>
<line x1="324" y1="73.5" x2="324" y2="58" stroke="#ff3b52" stroke-width="0.9"/>
<circle cx="324" cy="58" r="1.0" fill="#2b3d2b"/>
<line x1="326.1" y1="73.5" x2="326.1" y2="36.8" stroke="#9a5a48" stroke-width="0.9"/>
<circle cx="326.1" cy="36.8" r="1.0" fill="#2b3d2b"/>
<line x1="327.7" y1="73.5" x2="327.7" y2="40.6" stroke="#9a5a48" stroke-width="0.9"/>
<circle cx="327.7" cy="40.6" r="1.0" fill="#2b3d2b"/>
<line x1="328.9" y1="73.5" x2="328.9" y2="50.4" stroke="#9a5a48" stroke-width="0.9"/>
<circle cx="328.9" cy="50.4" r="1.0" fill="#2b3d2b"/>
<line x1="325.6" y1="73.5" x2="325.6" y2="54.5" stroke="#9a5a48" stroke-width="0.9"/>
<circle cx="325.6" cy="54.5" r="1.0" fill="#2b3d2b"/>
<line x1="329.7" y1="73.5" x2="329.7" y2="108.6" stroke="#9a5a48" stroke-width="0.9"/>
<circle cx="329.7" cy="108.6" r="1.0" fill="#2b3d2b"/>
<line x1="332.1" y1="73.5" x2="332.1" y2="98.8" stroke="#9a5a48" stroke-width="0.9"/>
<circle cx="332.1" cy="98.8" r="1.0" fill="#2b3d2b"/>
<line x1="330.5" y1="73.5" x2="330.5" y2="97.1" stroke="#9a5a48" stroke-width="0.9"/>
<circle cx="330.5" cy="97.1" r="1.0" fill="#2b3d2b"/>
<line x1="326.5" y1="73.5" x2="326.5" y2="85" stroke="#2e7438" stroke-width="0.9"/>
<circle cx="326.5" cy="85" r="1.0" fill="#2b3d2b"/>
<line x1="327" y1="73.5" x2="327" y2="90" stroke="#2e7438" stroke-width="0.9"/>
<circle cx="327" cy="90" r="1.0" fill="#2b3d2b"/>
<line x1="327.5" y1="73.5" x2="327.5" y2="95" stroke="#9a5a48" stroke-width="0.9"/>
<circle cx="327.5" cy="95" r="1.0" fill="#2b3d2b"/>
<line x1="316" y1="73.5" x2="316" y2="65" stroke="#2e7438" stroke-width="0.9"/>
<circle cx="316" cy="65" r="1.0" fill="#2b3d2b"/>
<line x1="378.5" y1="11.8" x2="378.5" y2="108.6" stroke="#c8c8da" stroke-width="1"/>
<line x1="378.5" y1="11.8" x2="378.5" y2="108.6" stroke="#7c7ca8" stroke-width="1" stroke-dasharray="1,1"/>
<line x1="387.5" y1="11.8" x2="387.5" y2="108.6" stroke="#c8c8da" stroke-width="1"/>
<line x1="387.5" y1="11.8" x2="387.5" y2="108.6" stroke="#7c7ca8" stroke-width="1" stroke-dasharray="1,1"/>
<rect x="216.8" y="7.4" width="178.6" height="106.05" fill="none" stroke="#a2a2a2" stroke-width="1.1"/>
<rect x="349.3" y="7.6" width="44.3" height="12" fill="#fff" fill-opacity="0.85" stroke="#dcdcdc" stroke-width="0.6" rx="0.6"/>
<line x1="351.8" y1="11.4" x2="358.5" y2="11.4" stroke="#6668b4" stroke-width="0.9" stroke-dasharray="1.2,0.8"/>
<line x1="351.8" y1="16.5" x2="358.5" y2="16.5" stroke="#dccf78" stroke-width="0.9" stroke-dasharray="1.2,0.8"/>
<text x="360.6" y="12.7" class="t" font-size="3.6">2021-11-26 1:21</text>
<text x="360.6" y="17.8" class="t" font-size="3.58">anomalous volumes</text>
<text x="306.1" y="4.85" class="t" font-size="4.3" text-anchor="middle">NAV_2021-11-26 1:21</text>
<line x1="215" y1="11" x2="216.8" y2="11" stroke="#a2a2a2" stroke-width="0.7"/>
<text x="214.6" y="12.9" class="t" font-size="3.9" text-anchor="end">1.0</text>
<line x1="215" y1="23.45" x2="216.8" y2="23.45" stroke="#a2a2a2" stroke-width="0.7"/>
<text x="214.6" y="25.35" class="t" font-size="3.9" text-anchor="end">0.8</text>
<line x1="215" y1="35.9" x2="216.8" y2="35.9" stroke="#a2a2a2" stroke-width="0.7"/>
<text x="214.6" y="37.8" class="t" font-size="3.9" text-anchor="end">0.6</text>
<line x1="215" y1="48.35" x2="216.8" y2="48.35" stroke="#a2a2a2" stroke-width="0.7"/>
<text x="214.6" y="50.25" class="t" font-size="3.9" text-anchor="end">0.4</text>
<line x1="215" y1="60.8" x2="216.8" y2="60.8" stroke="#a2a2a2" stroke-width="0.7"/>
<text x="214.6" y="62.7" class="t" font-size="3.9" text-anchor="end">0.2</text>
<line x1="215" y1="73.25" x2="216.8" y2="73.25" stroke="#a2a2a2" stroke-width="0.7"/>
<text x="214.6" y="75.15" class="t" font-size="3.9" text-anchor="end">0.0</text>
<line x1="215" y1="85.7" x2="216.8" y2="85.7" stroke="#a2a2a2" stroke-width="0.7"/>
<text x="214.6" y="87.6" class="t" font-size="3.9" text-anchor="end">−0.2</text>
<line x1="215" y1="98.15" x2="216.8" y2="98.15" stroke="#a2a2a2" stroke-width="0.7"/>
<text x="214.6" y="100.05" class="t" font-size="3.9" text-anchor="end">−0.4</text>
<line x1="215" y1="110.6" x2="216.8" y2="110.6" stroke="#a2a2a2" stroke-width="0.7"/>
<text x="214.6" y="112.5" class="t" font-size="3.9" text-anchor="end">−0.6</text>
<text x="0" y="0" class="t" font-size="3.75" text-anchor="middle" transform="translate(205.3,60.43) rotate(-90)">bis_volume</text>
<line x1="224" y1="113.45" x2="224" y2="114.85" stroke="#a2a2a2" stroke-width="0.5"/>
<text class="k" transform="translate(224.95,116.25) rotate(-90)" text-anchor="end">40</text>
<text class="k" transform="translate(224.95,121.35) rotate(-90)" text-anchor="end">09</text>
<line x1="225.5" y1="113.45" x2="225.5" y2="114.85" stroke="#a2a2a2" stroke-width="0.5"/>
<text class="k" transform="translate(226.45,116.25) rotate(-90)" text-anchor="end">40</text>
<text class="k" transform="translate(226.45,121.35) rotate(-90)" text-anchor="end">11</text>
<line x1="228.5" y1="113.45" x2="228.5" y2="114.85" stroke="#a2a2a2" stroke-width="0.5"/>
<text class="k" transform="translate(229.45,116.25) rotate(-90)" text-anchor="end">15</text>
<text class="k" transform="translate(229.45,121.35) rotate(-90)" text-anchor="end">20</text>
<line x1="230" y1="113.45" x2="230" y2="114.85" stroke="#a2a2a2" stroke-width="0.5"/>
<text class="k" transform="translate(230.95,116.25) rotate(-90)" text-anchor="end">51</text>
<text class="k" transform="translate(230.95,121.35) rotate(-90)" text-anchor="end">10</text>
<line x1="233" y1="113.45" x2="233" y2="114.85" stroke="#a2a2a2" stroke-width="0.5"/>
<text class="k" transform="translate(233.95,116.25) rotate(-90)" text-anchor="end">21</text>
<text class="k" transform="translate(233.95,121.35) rotate(-90)" text-anchor="end">16</text>
<line x1="234.9" y1="113.45" x2="234.9" y2="114.85" stroke="#a2a2a2" stroke-width="0.5"/>
<text class="k" transform="translate(235.85,116.25) rotate(-90)" text-anchor="end">23</text>
<text class="k" transform="translate(235.85,121.35) rotate(-90)" text-anchor="end">05</text>
<line x1="236.8" y1="113.45" x2="236.8" y2="114.85" stroke="#a2a2a2" stroke-width="0.5"/>
<text class="k" transform="translate(237.75,116.25) rotate(-90)" text-anchor="end">45</text>
<text class="k" transform="translate(237.75,121.35) rotate(-90)" text-anchor="end">10</text>
<line x1="238.7" y1="113.45" x2="238.7" y2="114.85" stroke="#a2a2a2" stroke-width="0.5"/>
<text class="k" transform="translate(239.65,116.25) rotate(-90)" text-anchor="end">22</text>
<text class="k" transform="translate(239.65,121.35) rotate(-90)" text-anchor="end">14</text>
<line x1="240.6" y1="113.45" x2="240.6" y2="114.85" stroke="#a2a2a2" stroke-width="0.5"/>
<text class="k" transform="translate(241.55,116.25) rotate(-90)" text-anchor="end">46</text>
<text class="k" transform="translate(241.55,121.35) rotate(-90)" text-anchor="end">14</text>
<line x1="242.4" y1="113.45" x2="242.4" y2="114.85" stroke="#a2a2a2" stroke-width="0.5"/>
<text class="k" transform="translate(243.35,116.25) rotate(-90)" text-anchor="end">00</text>
<text class="k" transform="translate(243.35,121.35) rotate(-90)" text-anchor="end">11</text>
<line x1="249.8" y1="113.45" x2="249.8" y2="114.85" stroke="#a2a2a2" stroke-width="0.5"/>
<text class="k" transform="translate(250.75,116.25) rotate(-90)" text-anchor="end">29</text>
<text class="k" transform="translate(250.75,121.35) rotate(-90)" text-anchor="end">00</text>
<line x1="256.2" y1="113.45" x2="256.2" y2="114.85" stroke="#a2a2a2" stroke-width="0.5"/>
<text class="k" transform="translate(257.15,116.25) rotate(-90)" text-anchor="end">48</text>
<text class="k" transform="translate(257.15,121.35) rotate(-90)" text-anchor="end">11</text>
<line x1="264.8" y1="113.45" x2="264.8" y2="114.85" stroke="#a2a2a2" stroke-width="0.5"/>
<text class="k" transform="translate(265.75,116.25) rotate(-90)" text-anchor="end">13</text>
<text class="k" transform="translate(265.75,121.35) rotate(-90)" text-anchor="end">04</text>
<line x1="276.8" y1="113.45" x2="276.8" y2="114.85" stroke="#a2a2a2" stroke-width="0.5"/>
<text class="k" transform="translate(277.75,116.25) rotate(-90)" text-anchor="end">29</text>
<text class="k" transform="translate(277.75,121.35) rotate(-90)" text-anchor="end">24</text>
<line x1="284.4" y1="113.45" x2="284.4" y2="114.85" stroke="#a2a2a2" stroke-width="0.5"/>
<text class="k" transform="translate(285.35,116.25) rotate(-90)" text-anchor="end">43</text>
<text class="k" transform="translate(285.35,121.35) rotate(-90)" text-anchor="end">00</text>
<line x1="291.1" y1="113.45" x2="291.1" y2="114.85" stroke="#a2a2a2" stroke-width="0.5"/>
<text class="k" transform="translate(292.05,116.25) rotate(-90)" text-anchor="end">29</text>
<text class="k" transform="translate(292.05,121.35) rotate(-90)" text-anchor="end">04</text>
<line x1="295.9" y1="113.45" x2="295.9" y2="114.85" stroke="#a2a2a2" stroke-width="0.5"/>
<text class="k" transform="translate(296.85,116.25) rotate(-90)" text-anchor="end">12</text>
<text class="k" transform="translate(296.85,121.35) rotate(-90)" text-anchor="end">12</text>
<line x1="298.4" y1="113.45" x2="298.4" y2="114.85" stroke="#a2a2a2" stroke-width="0.5"/>
<text class="k" transform="translate(299.35,116.25) rotate(-90)" text-anchor="end">23</text>
<text class="k" transform="translate(299.35,121.35) rotate(-90)" text-anchor="end">11</text>
<line x1="302.1" y1="113.45" x2="302.1" y2="114.85" stroke="#a2a2a2" stroke-width="0.5"/>
<text class="k" transform="translate(303.05,116.25) rotate(-90)" text-anchor="end">06</text>
<text class="k" transform="translate(303.05,121.35) rotate(-90)" text-anchor="end">25</text>
<line x1="311.5" y1="113.45" x2="311.5" y2="114.85" stroke="#a2a2a2" stroke-width="0.5"/>
<text class="k" transform="translate(312.45,116.25) rotate(-90)" text-anchor="end">01</text>
<text class="k" transform="translate(312.45,121.35) rotate(-90)" text-anchor="end">21</text>
<line x1="317.8" y1="113.45" x2="317.8" y2="114.85" stroke="#a2a2a2" stroke-width="0.5"/>
<text class="k" transform="translate(318.75,116.25) rotate(-90)" text-anchor="end">07</text>
<text class="k" transform="translate(318.75,121.35) rotate(-90)" text-anchor="end">06</text>
<line x1="327.8" y1="113.45" x2="327.8" y2="114.85" stroke="#a2a2a2" stroke-width="0.5"/>
<text class="k" transform="translate(328.75,116.25) rotate(-90)" text-anchor="end">36</text>
<text class="k" transform="translate(328.75,121.35) rotate(-90)" text-anchor="end">24</text>
<line x1="342.9" y1="113.45" x2="342.9" y2="114.85" stroke="#a2a2a2" stroke-width="0.5"/>
<text class="k" transform="translate(343.85,116.25) rotate(-90)" text-anchor="end">07</text>
<text class="k" transform="translate(343.85,121.35) rotate(-90)" text-anchor="end">04</text>
<line x1="353.4" y1="113.45" x2="353.4" y2="114.85" stroke="#a2a2a2" stroke-width="0.5"/>
<text class="k" transform="translate(354.35,116.25) rotate(-90)" text-anchor="end">31</text>
<text class="k" transform="translate(354.35,121.35) rotate(-90)" text-anchor="end">08</text>
<line x1="360" y1="113.45" x2="360" y2="114.85" stroke="#a2a2a2" stroke-width="0.5"/>
<text class="k" transform="translate(360.95,116.25) rotate(-90)" text-anchor="end">09</text>
<text class="k" transform="translate(360.95,121.35) rotate(-90)" text-anchor="end">18</text>
<line x1="367.2" y1="113.45" x2="367.2" y2="114.85" stroke="#a2a2a2" stroke-width="0.5"/>
<text class="k" transform="translate(368.15,116.25) rotate(-90)" text-anchor="end">50</text>
<text class="k" transform="translate(368.15,121.35) rotate(-90)" text-anchor="end">23</text>
<line x1="376.2" y1="113.45" x2="376.2" y2="114.85" stroke="#a2a2a2" stroke-width="0.5"/>
<text class="k" transform="translate(377.15,116.25) rotate(-90)" text-anchor="end">02</text>
<text class="k" transform="translate(377.15,121.35) rotate(-90)" text-anchor="end">06</text>
<line x1="384.8" y1="113.45" x2="384.8" y2="114.85" stroke="#a2a2a2" stroke-width="0.5"/>
<text class="k" transform="translate(385.75,116.25) rotate(-90)" text-anchor="end">49</text>
<text class="k" transform="translate(385.75,121.35) rotate(-90)" text-anchor="end">00</text>
<line x1="378" y1="113.45" x2="378" y2="114.85" stroke="#a2a2a2" stroke-width="0.5"/>
<text class="k" transform="translate(378.95,116.25) rotate(-90)" text-anchor="end">59</text>
<text class="k" transform="translate(378.95,121.35) rotate(-90)" text-anchor="end">10</text>
<text class="k" transform="translate(378.95,126.65) rotate(-90)" text-anchor="end">24</text>
<line x1="386.9" y1="113.45" x2="386.9" y2="114.85" stroke="#a2a2a2" stroke-width="0.5"/>
<text class="k" transform="translate(387.85,116.25) rotate(-90)" text-anchor="end">29</text>
<text class="k" transform="translate(387.85,121.35) rotate(-90)" text-anchor="end">25</text>
<text class="k" transform="translate(387.85,126.65) rotate(-90)" text-anchor="end">38</text>
<text x="306.1" y="134.85" class="t" font-size="3.7" text-anchor="middle">datetime</text>
<rect x="22.6" y="182.5" width="164.4" height="26" fill="#e4f7f1"/>
<rect x="49.7" y="193.5" width="8" height="43.5" fill="#fdf4f7"/>
<rect x="49.7" y="166.5" width="8" height="31" fill="#fdf4f7"/>
<rect x="48.8" y="193.5" width="8" height="30.4" fill="#fdf4f7"/>
<rect x="58.3" y="162.7" width="8" height="34.8" fill="#fdf4f7"/>
<rect x="58.3" y="193.5" width="8" height="30.4" fill="#fdf4f7"/>
<rect x="66.7" y="148.2" width="8" height="49.3" fill="#fdf4f7"/>
<rect x="61.6" y="193.5" width="8" height="22.8" fill="#fdf4f7"/>
<rect x="62.5" y="193.5" width="8" height="26" fill="#fdf4f7"/>
<rect x="63.5" y="172" width="8" height="25.5" fill="#fdf4f7"/>
<rect x="60" y="176" width="8" height="21.5" fill="#fdf4f7"/>
<rect x="65" y="174" width="8" height="23.5" fill="#fdf4f7"/>
<rect x="68" y="178" width="8" height="19.5" fill="#fdf4f7"/>
<rect x="70" y="176" width="8" height="21.5" fill="#fdf4f7"/>
<rect x="73" y="180" width="8" height="17.5" fill="#fdf4f7"/>
<rect x="75.5" y="182" width="8" height="15.5" fill="#fdf4f7"/>
<rect x="74.6" y="168.8" width="8" height="28.7" fill="#fdf4f7"/>
<rect x="77.8" y="171.6" width="8" height="25.9" fill="#fdf4f7"/>
<rect x="71.7" y="175.4" width="8" height="22.1" fill="#fdf4f7"/>
<rect x="82.2" y="174.5" width="8" height="23" fill="#fdf4f7"/>
<rect x="85" y="179.3" width="8" height="18.2" fill="#fdf4f7"/>
<rect x="124.2" y="150.6" width="8" height="46.9" fill="#fdf4f7"/>
<rect x="124.2" y="193.5" width="8" height="48.9" fill="#fdf4f7"/>
<rect x="125.4" y="163" width="8" height="34.5" fill="#fdf4f7"/>
<rect x="132.4" y="160" width="8" height="37.5" fill="#fdf4f7"/>
<rect x="136.6" y="164" width="8" height="33.5" fill="#fdf4f7"/>
<rect x="142.6" y="156.6" width="8" height="40.9" fill="#fdf4f7"/>
<rect x="145" y="166.6" width="8" height="30.9" fill="#fdf4f7"/>
<rect x="151.4" y="168.6" width="8" height="28.9" fill="#fdf4f7"/>
<rect x="160.4" y="147.6" width="8" height="49.9" fill="#fdf4f7"/>
<rect x="167.6" y="171.6" width="8" height="25.9" fill="#fdf4f7"/>
<rect x="130.6" y="174.6" width="8" height="22.9" fill="#fdf4f7"/>
<rect x="128" y="193.5" width="8" height="54.5" fill="#fdf4f7"/>
<rect x="127" y="193.5" width="8" height="33.5" fill="#fdf4f7"/>
<rect x="135" y="193.5" width="8" height="37.1" fill="#fdf4f7"/>
<rect x="136.6" y="193.5" width="8" height="41.1" fill="#fdf4f7"/>
<rect x="145" y="193.5" width="8" height="39.5" fill="#fdf4f7"/>
<rect x="145.5" y="193.5" width="8" height="24.5" fill="#fdf4f7"/>
<rect x="167.4" y="193.5" width="8" height="23.1" fill="#fdf4f7"/>
<rect x="137.6" y="193.5" width="8" height="17.9" fill="#fdf4f7"/>
<rect x="180.6" y="193.5" width="8" height="25.1" fill="#fdf4f7"/>
<line x1="23.6" y1="178.9" x2="186" y2="178.9" stroke="#e0d8a6" stroke-width="1" stroke-dasharray="3,0.7"/>
<line x1="23.6" y1="212" x2="186" y2="212" stroke="#e0d8a6" stroke-width="1" stroke-dasharray="3,0.7"/>
<line x1="23.6" y1="195.5" x2="186" y2="195.5" stroke="#2b7d3e" stroke-width="10"/>
<polyline points="23.6,192.68 23.91,194.12 24.23,191.98 24.54,198.63 24.85,187.03 25.16,194.61 25.48,195.2 25.79,189.49 26.1,199 26.42,190.67 26.73,191.11 27.04,195.48 27.35,189.17 27.67,192.19 27.98,200.17 28.29,197.17 28.61,195.45 28.92,188.92 29.23,196.65 29.55,197.51 29.86,191.54 30.17,198.75 30.48,200.36 30.8,191.42 31.11,201.89 31.42,194.3 31.74,194.12 32.05,192.41 32.36,199.59 32.67,193.08 32.99,192.12 33.3,194.91 33.61,196.12 33.93,196.66 34.24,193.55 34.55,197.23 34.86,196.35 35.18,199.11 35.49,192.54 35.8,197.26 36.12,200.88 36.43,198.49 36.74,199.27 37.06,200.73 37.37,193.32 37.68,197.87 37.99,195.33 38.31,191.34 38.62,197.32 38.93,192.18 39.25,195.72 39.56,198.21 39.87,190.51 40.18,199.64 40.5,195.09 40.81,195.65 41.12,189.78 41.44,191.24 41.75,200.19 42.06,193.28 42.37,194.61 42.69,201.34 43,197.54 43.31,196.31 43.63,187.48 43.94,198.04 44.25,198.49 44.56,193.93 44.88,193.04 45.19,196.85 45.5,191.13 45.82,194.13 46.13,187.12 46.44,197.01 46.76,195.75 47.07,179.85 47.38,191.19 47.69,192.6 48.01,205.92 48.32,191.5 48.63,194.19 48.95,195.04 49.26,195.55 49.57,186.53 49.88,199.03 50.2,196.37 50.51,197.99 50.82,193.28 51.14,185.42 51.45,207.94 51.76,196.33 52.07,197.07 52.39,186.01 52.7,196.27 53.01,187.94 53.33,177.25 53.64,207.22 53.95,195.28 54.27,196.64 54.58,195.13 54.89,192.67 55.2,199.74 55.52,201.91 55.83,180.14 56.14,198.9 56.46,190.21 56.77,201.15 57.08,192.16 57.39,206.08 57.71,198.94 58.02,194.98 58.33,201.04 58.65,199.29 58.96,196.07 59.27,198.22 59.58,189.84 59.9,199.1 60.21,194.87 60.52,195.64 60.84,203.72 61.15,195.84 61.46,195.06 61.77,195.03 62.09,196.72 62.4,200.64 62.71,197.48 63.03,196.07 63.34,192.98 63.65,203.68 63.97,189.89 64.28,190.28 64.59,201.16 64.9,195.14 65.22,191.51 65.53,192.24 65.84,205.98 66.16,190.44 66.47,195.46 66.78,199.38 67.09,197.26 67.41,199.44 67.72,189.64 68.03,189.81 68.35,190.2 68.66,187.66 68.97,184.88 69.28,198.72 69.6,200.46 69.91,192.02 70.22,193.03 70.54,193.76 70.85,178.28 71.16,201.7 71.48,194.38 71.79,198.13 72.1,192.85 72.41,200.05 72.73,205.15 73.04,190.92 73.35,192.11 73.67,196.08 73.98,206 74.29,197.58 74.6,188.99 74.92,191.9 75.23,192.83 75.54,202.01 75.86,190.29 76.17,199.11 76.48,201.95 76.79,198.41 77.11,204.7 77.42,195.54 77.73,189.9 78.05,201.68 78.36,184.55 78.67,191.45 78.98,210.25 79.3,191.87 79.61,202.02 79.92,192.82 80.24,204.46 80.55,193.23 80.86,191.94 81.18,193.02 81.49,197.44 81.8,198.39 82.11,192.2 82.43,202.34 82.74,192.12 83.05,194.26 83.37,196.54 83.68,191.39 83.99,199.15 84.3,199.98 84.62,199.41 84.93,199.64 85.24,193.92 85.56,201.48 85.87,180.23 86.18,195.52 86.49,187.48 86.81,192.46 87.12,196.05 87.43,197.57 87.75,196.59 88.06,196.13 88.37,193.22 88.69,195.8 89,191.51 89.31,196.79 89.62,194.72 89.94,191.15 90.25,188.06 90.56,206.55 90.88,196.03 91.19,199.48 91.5,193.96 91.81,199.87 92.13,199.87 92.44,194.78 92.75,190.83 93.07,195.07 93.38,191.72 93.69,198.77 94,188.85 94.32,196.94 94.63,191.6 94.94,198.46 95.26,193.81 95.57,191.11 95.88,188.78 96.19,191.9 96.51,197.17 96.82,192.74 97.13,191.6 97.45,195.44 97.76,200.79 98.07,201.75 98.39,195.32 98.7,192.75 99.01,196.29 99.32,204.46 99.64,197.91 99.95,204.45 100.26,192.01 100.58,201.86 100.89,190.64 101.2,196.12 101.51,198.8 101.83,192.04 102.14,200.04 102.45,191.8 102.77,194.54 103.08,196.44 103.39,191.21 103.7,194.92 104.02,190.93 104.33,186.15 104.64,191.26 104.96,187.89 105.27,199.01 105.58,200.88 105.9,197.82 106.21,195.46 106.52,200.41 106.83,195.24 107.15,196.9 107.46,194.92 107.77,197.9 108.09,187.68 108.4,196.61 108.71,189.17 109.02,199.55 109.34,191.07 109.65,197.44 109.96,193.48 110.28,195.75 110.59,202.9 110.9,195.49 111.21,196.43 111.53,189.78 111.84,189.13 112.15,193.8 112.47,192.88 112.78,199.48 113.09,198.95 113.41,186.06 113.72,193.7 114.03,200.3 114.34,201.49 114.66,189.74 114.97,197.06 115.28,191.07 115.6,200.22 115.91,195.84 116.22,199.16 116.53,186.03 116.85,201.5 117.16,195.84 117.47,192.56 117.79,204.9 118.1,197.99 118.41,206.24 118.72,188.99 119.04,194.98 119.35,196.45 119.66,194.67 119.98,185.77 120.29,191.65 120.6,195.7 120.91,195.23 121.23,202.63 121.54,196.72 121.85,194.8 122.17,195.05 122.48,202.08 122.79,193.07 123.11,194.38 123.42,196.18 123.73,201.26 124.04,190.72 124.36,194.26 124.67,199.71 124.98,195.34 125.3,189.73 125.61,193.69 125.92,194.59 126.23,188.57 126.55,190.65 126.86,197.91 127.17,194.02 127.49,192.76 127.8,196 128.11,194.14 128.42,195.46 128.74,194.64 129.05,200.64 129.36,191.63 129.68,197.53 129.99,196.12 130.3,194.15 130.62,195.99 130.93,197.03 131.24,207.08 131.55,197.34 131.87,199.35 132.18,188.24 132.49,202.92 132.81,192.02 133.12,203.5 133.43,193.88 133.74,189.52 134.06,179.76 134.37,197.39 134.68,196.73 135,202.01 135.31,198.21 135.62,198.79 135.93,195.79 136.25,199.88 136.56,197.47 136.87,200.01 137.19,188.47 137.5,191.8 137.81,183.17 138.12,199.99 138.44,200.21 138.75,197.77 139.06,187.6 139.38,198.89 139.69,198.7 140,196.43 140.32,194.01 140.63,191.07 140.94,184.71 141.25,206.88 141.57,201.14 141.88,192.82 142.19,196.85 142.51,192.2 142.82,193.8 143.13,197.84 143.44,196.01 143.76,192.71 144.07,195.54 144.38,194 144.7,191.18 145.01,191.26 145.32,180.11 145.63,184.73 145.95,186.93 146.26,193.36 146.57,191.5 146.89,193.4 147.2,199.9 147.51,195.72 147.83,188.84 148.14,197.06 148.45,202.07 148.76,194.37 149.08,193.09 149.39,198.74 149.7,191.87 150.02,198.84 150.33,190.23 150.64,196.79 150.95,196.09 151.27,198.35 151.58,198 151.89,197.83 152.21,195.95 152.52,193.06 152.83,206.76 153.14,196.49 153.46,197.32 153.77,193.54 154.08,197.13 154.4,200.55 154.71,195.96 155.02,191.73 155.33,190.39 155.65,199.11 155.96,196.15 156.27,201.86 156.59,193.1 156.9,193.53 157.21,190.01 157.53,202.22 157.84,193.18 158.15,196.29 158.46,197.86 158.78,196.19 159.09,200.38 159.4,197.55 159.72,197.52 160.03,197.08 160.34,195.26 160.65,203.7 160.97,191.66 161.28,197.85 161.59,207.08 161.91,196.71 162.22,188.4 162.53,202.05 162.84,195.74 163.16,197.38 163.47,195.2 163.78,189.6 164.1,199.44 164.41,197.72 164.72,194.45 165.04,186.95 165.35,190.57 165.66,194.43 165.97,204.6 166.29,196.24 166.6,191.09 166.91,192.03 167.23,201.14 167.54,199.15 167.85,198.72 168.16,192.93 168.48,195.36 168.79,189.51 169.1,198.67 169.42,208.11 169.73,193.02 170.04,194.45 170.35,193.36 170.67,188.76 170.98,193.92 171.29,193.33 171.61,197.98 171.92,195.93 172.23,196.06 172.54,206.13 172.86,198.89 173.17,193.02 173.48,192.29 173.8,210.99 174.11,196.76 174.42,192.45 174.74,195.21 175.05,196.99 175.36,195.31 175.67,196.05 175.99,179.3 176.3,197.6 176.61,189.83 176.93,191.28 177.24,195.28 177.55,192.05 177.86,184.67 178.18,191.58 178.49,197.06 178.8,198.9 179.12,194.81 179.43,195.35 179.74,196.38 180.05,193.01 180.37,195.5 180.68,198.89 180.99,198.75 181.31,191.87 181.62,200.4 181.93,199.36 182.25,197.7 182.56,193.79 182.87,196.47 183.18,189.81 183.5,196.35 183.81,192.97 184.12,188.62 184.44,195.17 184.75,189.45 185.06,189.11 185.37,201.5 185.69,200.54 186,197.29" fill="none" stroke="#2b7d3e" stroke-width="0.5" stroke-linejoin="round"/>
<circle cx="24.23" cy="191.98" r="1.1" fill="#1f4d26"/>
<circle cx="24.54" cy="198.63" r="1.1" fill="#1f4d26"/>
<circle cx="24.85" cy="187.03" r="1.1" fill="#1f4d26"/>
<circle cx="25.79" cy="189.49" r="1.1" fill="#1f4d26"/>
<circle cx="26.1" cy="199" r="1.1" fill="#1f4d26"/>
<circle cx="26.42" cy="190.67" r="1.1" fill="#1f4d26"/>
<circle cx="26.73" cy="191.11" r="1.1" fill="#1f4d26"/>
<circle cx="27.35" cy="189.17" r="1.1" fill="#1f4d26"/>
<circle cx="27.67" cy="192.19" r="1.1" fill="#1f4d26"/>
<circle cx="27.98" cy="200.17" r="1.1" fill="#1f4d26"/>
<circle cx="28.92" cy="188.92" r="1.1" fill="#1f4d26"/>
<circle cx="29.86" cy="191.54" r="1.1" fill="#1f4d26"/>
<circle cx="30.17" cy="198.75" r="1.1" fill="#1f4d26"/>
<circle cx="30.48" cy="200.36" r="1.1" fill="#1f4d26"/>
<circle cx="30.8" cy="191.42" r="1.1" fill="#1f4d26"/>
<circle cx="31.11" cy="201.89" r="1.1" fill="#1f4d26"/>
<circle cx="32.05" cy="192.41" r="1.1" fill="#1f4d26"/>
<circle cx="32.36" cy="199.59" r="1.1" fill="#1f4d26"/>
<circle cx="32.99" cy="192.12" r="1.1" fill="#1f4d26"/>
<circle cx="35.18" cy="199.11" r="1.1" fill="#1f4d26"/>
<circle cx="36.12" cy="200.88" r="1.1" fill="#1f4d26"/>
<circle cx="36.74" cy="199.27" r="1.1" fill="#1f4d26"/>
<circle cx="37.06" cy="200.73" r="1.1" fill="#1f4d26"/>
<circle cx="38.31" cy="191.34" r="1.1" fill="#1f4d26"/>
<circle cx="38.93" cy="192.18" r="1.1" fill="#1f4d26"/>
<circle cx="39.87" cy="190.51" r="1.1" fill="#1f4d26"/>
<circle cx="40.18" cy="199.64" r="1.1" fill="#1f4d26"/>
<circle cx="41.12" cy="189.78" r="1.1" fill="#1f4d26"/>
<circle cx="41.44" cy="191.24" r="1.1" fill="#1f4d26"/>
<circle cx="41.75" cy="200.19" r="1.1" fill="#1f4d26"/>
<circle cx="42.69" cy="201.34" r="1.1" fill="#1f4d26"/>
<circle cx="43.63" cy="187.48" r="1.1" fill="#1f4d26"/>
<circle cx="45.5" cy="191.13" r="1.1" fill="#1f4d26"/>
<circle cx="46.13" cy="187.12" r="1.1" fill="#1f4d26"/>
<circle cx="47.07" cy="179.85" r="1.1" fill="#1f4d26"/>
<circle cx="47.38" cy="191.19" r="1.1" fill="#1f4d26"/>
<circle cx="48.01" cy="205.92" r="1.1" fill="#1f4d26"/>
<circle cx="48.32" cy="191.5" r="1.1" fill="#1f4d26"/>
<circle cx="49.57" cy="186.53" r="1.1" fill="#1f4d26"/>
<circle cx="49.88" cy="199.03" r="1.1" fill="#1f4d26"/>
<circle cx="51.14" cy="185.42" r="1.1" fill="#1f4d26"/>
<circle cx="51.45" cy="207.94" r="1.1" fill="#1f4d26"/>
<circle cx="52.39" cy="186.01" r="1.1" fill="#1f4d26"/>
<circle cx="53.01" cy="187.94" r="1.1" fill="#1f4d26"/>
<circle cx="53.33" cy="177.25" r="1.1" fill="#1f4d26"/>
<circle cx="53.64" cy="207.22" r="1.1" fill="#1f4d26"/>
<circle cx="55.2" cy="199.74" r="1.1" fill="#1f4d26"/>
<circle cx="55.52" cy="201.91" r="1.1" fill="#1f4d26"/>
<circle cx="55.83" cy="180.14" r="1.1" fill="#1f4d26"/>
<circle cx="56.14" cy="198.9" r="1.1" fill="#1f4d26"/>
<circle cx="56.46" cy="190.21" r="1.1" fill="#1f4d26"/>
<circle cx="56.77" cy="201.15" r="1.1" fill="#1f4d26"/>
<circle cx="57.08" cy="192.16" r="1.1" fill="#1f4d26"/>
<circle cx="57.39" cy="206.08" r="1.1" fill="#1f4d26"/>
<circle cx="57.71" cy="198.94" r="1.1" fill="#1f4d26"/>
<circle cx="58.33" cy="201.04" r="1.1" fill="#1f4d26"/>
<circle cx="58.65" cy="199.29" r="1.1" fill="#1f4d26"/>
<circle cx="59.58" cy="189.84" r="1.1" fill="#1f4d26"/>
<circle cx="59.9" cy="199.1" r="1.1" fill="#1f4d26"/>
<circle cx="60.84" cy="203.72" r="1.1" fill="#1f4d26"/>
<circle cx="62.4" cy="200.64" r="1.1" fill="#1f4d26"/>
<circle cx="63.65" cy="203.68" r="1.1" fill="#1f4d26"/>
<circle cx="63.97" cy="189.89" r="1.1" fill="#1f4d26"/>
<circle cx="64.28" cy="190.28" r="1.1" fill="#1f4d26"/>
<circle cx="64.59" cy="201.16" r="1.1" fill="#1f4d26"/>
<circle cx="65.22" cy="191.51" r="1.1" fill="#1f4d26"/>
<circle cx="65.53" cy="192.24" r="1.1" fill="#1f4d26"/>
<circle cx="65.84" cy="205.98" r="1.1" fill="#1f4d26"/>
<circle cx="66.16" cy="190.44" r="1.1" fill="#1f4d26"/>
<circle cx="66.78" cy="199.38" r="1.1" fill="#1f4d26"/>
<circle cx="67.41" cy="199.44" r="1.1" fill="#1f4d26"/>
<circle cx="67.72" cy="189.64" r="1.1" fill="#1f4d26"/>
<circle cx="68.03" cy="189.81" r="1.1" fill="#1f4d26"/>
<circle cx="68.35" cy="190.2" r="1.1" fill="#1f4d26"/>
<circle cx="68.66" cy="187.66" r="1.1" fill="#1f4d26"/>
<circle cx="68.97" cy="184.88" r="1.1" fill="#1f4d26"/>
<circle cx="69.28" cy="198.72" r="1.1" fill="#1f4d26"/>
<circle cx="69.6" cy="200.46" r="1.1" fill="#1f4d26"/>
<circle cx="69.91" cy="192.02" r="1.1" fill="#1f4d26"/>
<circle cx="70.85" cy="178.28" r="1.1" fill="#1f4d26"/>
<circle cx="71.16" cy="201.7" r="1.1" fill="#1f4d26"/>
<circle cx="72.41" cy="200.05" r="1.1" fill="#1f4d26"/>
<circle cx="72.73" cy="205.15" r="1.1" fill="#1f4d26"/>
<circle cx="73.04" cy="190.92" r="1.1" fill="#1f4d26"/>
<circle cx="73.35" cy="192.11" r="1.1" fill="#1f4d26"/>
<circle cx="73.98" cy="206" r="1.1" fill="#1f4d26"/>
<circle cx="74.6" cy="188.99" r="1.1" fill="#1f4d26"/>
<circle cx="74.92" cy="191.9" r="1.1" fill="#1f4d26"/>
<circle cx="75.54" cy="202.01" r="1.1" fill="#1f4d26"/>
<circle cx="75.86" cy="190.29" r="1.1" fill="#1f4d26"/>
<circle cx="76.17" cy="199.11" r="1.1" fill="#1f4d26"/>
<circle cx="76.48" cy="201.95" r="1.1" fill="#1f4d26"/>
<circle cx="77.11" cy="204.7" r="1.1" fill="#1f4d26"/>
<circle cx="77.73" cy="189.9" r="1.1" fill="#1f4d26"/>
<circle cx="78.05" cy="201.68" r="1.1" fill="#1f4d26"/>
<circle cx="78.36" cy="184.55" r="1.1" fill="#1f4d26"/>
<circle cx="78.67" cy="191.45" r="1.1" fill="#1f4d26"/>
<circle cx="78.98" cy="210.25" r="1.1" fill="#1f4d26"/>
<circle cx="79.3" cy="191.87" r="1.1" fill="#1f4d26"/>
<circle cx="79.61" cy="202.02" r="1.1" fill="#1f4d26"/>
<circle cx="80.24" cy="204.46" r="1.1" fill="#1f4d26"/>
<circle cx="80.86" cy="191.94" r="1.1" fill="#1f4d26"/>
<circle cx="82.11" cy="192.2" r="1.1" fill="#1f4d26"/>
<circle cx="82.43" cy="202.34" r="1.1" fill="#1f4d26"/>
<circle cx="82.74" cy="192.12" r="1.1" fill="#1f4d26"/>
<circle cx="83.68" cy="191.39" r="1.1" fill="#1f4d26"/>
<circle cx="83.99" cy="199.15" r="1.1" fill="#1f4d26"/>
<circle cx="84.3" cy="199.98" r="1.1" fill="#1f4d26"/>
<circle cx="84.62" cy="199.41" r="1.1" fill="#1f4d26"/>
<circle cx="84.93" cy="199.64" r="1.1" fill="#1f4d26"/>
<circle cx="85.56" cy="201.48" r="1.1" fill="#1f4d26"/>
<circle cx="85.87" cy="180.23" r="1.1" fill="#1f4d26"/>
<circle cx="86.49" cy="187.48" r="1.1" fill="#1f4d26"/>
<circle cx="86.81" cy="192.46" r="1.1" fill="#1f4d26"/>
<circle cx="89" cy="191.51" r="1.1" fill="#1f4d26"/>
<circle cx="89.94" cy="191.15" r="1.1" fill="#1f4d26"/>
<circle cx="90.25" cy="188.06" r="1.1" fill="#1f4d26"/>
<circle cx="90.56" cy="206.55" r="1.1" fill="#1f4d26"/>
<circle cx="91.19" cy="199.48" r="1.1" fill="#1f4d26"/>
<circle cx="91.81" cy="199.87" r="1.1" fill="#1f4d26"/>
<circle cx="92.13" cy="199.87" r="1.1" fill="#1f4d26"/>
<circle cx="92.75" cy="190.83" r="1.1" fill="#1f4d26"/>
<circle cx="93.38" cy="191.72" r="1.1" fill="#1f4d26"/>
<circle cx="93.69" cy="198.77" r="1.1" fill="#1f4d26"/>
<circle cx="94" cy="188.85" r="1.1" fill="#1f4d26"/>
<circle cx="94.63" cy="191.6" r="1.1" fill="#1f4d26"/>
<circle cx="95.57" cy="191.11" r="1.1" fill="#1f4d26"/>
<circle cx="95.88" cy="188.78" r="1.1" fill="#1f4d26"/>
<circle cx="96.19" cy="191.9" r="1.1" fill="#1f4d26"/>
<circle cx="97.13" cy="191.6" r="1.1" fill="#1f4d26"/>
<circle cx="97.76" cy="200.79" r="1.1" fill="#1f4d26"/>
<circle cx="98.07" cy="201.75" r="1.1" fill="#1f4d26"/>
<circle cx="99.32" cy="204.46" r="1.1" fill="#1f4d26"/>
<circle cx="99.95" cy="204.45" r="1.1" fill="#1f4d26"/>
<circle cx="100.26" cy="192.01" r="1.1" fill="#1f4d26"/>
<circle cx="100.58" cy="201.86" r="1.1" fill="#1f4d26"/>
<circle cx="100.89" cy="190.64" r="1.1" fill="#1f4d26"/>
<circle cx="101.51" cy="198.8" r="1.1" fill="#1f4d26"/>
<circle cx="101.83" cy="192.04" r="1.1" fill="#1f4d26"/>
<circle cx="102.14" cy="200.04" r="1.1" fill="#1f4d26"/>
<circle cx="102.45" cy="191.8" r="1.1" fill="#1f4d26"/>
<circle cx="103.39" cy="191.21" r="1.1" fill="#1f4d26"/>
<circle cx="104.02" cy="190.93" r="1.1" fill="#1f4d26"/>
<circle cx="104.33" cy="186.15" r="1.1" fill="#1f4d26"/>
<circle cx="104.64" cy="191.26" r="1.1" fill="#1f4d26"/>
<circle cx="104.96" cy="187.89" r="1.1" fill="#1f4d26"/>
<circle cx="105.27" cy="199.01" r="1.1" fill="#1f4d26"/>
<circle cx="105.58" cy="200.88" r="1.1" fill="#1f4d26"/>
<circle cx="106.52" cy="200.41" r="1.1" fill="#1f4d26"/>
<circle cx="108.09" cy="187.68" r="1.1" fill="#1f4d26"/>
<circle cx="108.71" cy="189.17" r="1.1" fill="#1f4d26"/>
<circle cx="109.02" cy="199.55" r="1.1" fill="#1f4d26"/>
<circle cx="109.34" cy="191.07" r="1.1" fill="#1f4d26"/>
<circle cx="110.59" cy="202.9" r="1.1" fill="#1f4d26"/>
<circle cx="111.53" cy="189.78" r="1.1" fill="#1f4d26"/>
<circle cx="111.84" cy="189.13" r="1.1" fill="#1f4d26"/>
<circle cx="112.78" cy="199.48" r="1.1" fill="#1f4d26"/>
<circle cx="113.09" cy="198.95" r="1.1" fill="#1f4d26"/>
<circle cx="113.41" cy="186.06" r="1.1" fill="#1f4d26"/>
<circle cx="114.03" cy="200.3" r="1.1" fill="#1f4d26"/>
<circle cx="114.34" cy="201.49" r="1.1" fill="#1f4d26"/>
<circle cx="114.66" cy="189.74" r="1.1" fill="#1f4d26"/>
<circle cx="115.28" cy="191.07" r="1.1" fill="#1f4d26"/>
<circle cx="115.6" cy="200.22" r="1.1" fill="#1f4d26"/>
<circle cx="116.22" cy="199.16" r="1.1" fill="#1f4d26"/>
<circle cx="116.53" cy="186.03" r="1.1" fill="#1f4d26"/>
<circle cx="116.85" cy="201.5" r="1.1" fill="#1f4d26"/>
<circle cx="117.79" cy="204.9" r="1.1" fill="#1f4d26"/>
<circle cx="118.41" cy="206.24" r="1.1" fill="#1f4d26"/>
<circle cx="118.72" cy="188.99" r="1.1" fill="#1f4d26"/>
<circle cx="119.98" cy="185.77" r="1.1" fill="#1f4d26"/>
<circle cx="120.29" cy="191.65" r="1.1" fill="#1f4d26"/>
<circle cx="121.23" cy="202.63" r="1.1" fill="#1f4d26"/>
<circle cx="122.48" cy="202.08" r="1.1" fill="#1f4d26"/>
<circle cx="123.73" cy="201.26" r="1.1" fill="#1f4d26"/>
<circle cx="124.04" cy="190.72" r="1.1" fill="#1f4d26"/>
<circle cx="124.67" cy="199.71" r="1.1" fill="#1f4d26"/>
<circle cx="125.3" cy="189.73" r="1.1" fill="#1f4d26"/>
<circle cx="126.23" cy="188.57" r="1.1" fill="#1f4d26"/>
<circle cx="126.55" cy="190.65" r="1.1" fill="#1f4d26"/>
<circle cx="129.05" cy="200.64" r="1.1" fill="#1f4d26"/>
<circle cx="129.36" cy="191.63" r="1.1" fill="#1f4d26"/>
<circle cx="131.24" cy="207.08" r="1.1" fill="#1f4d26"/>
<circle cx="131.87" cy="199.35" r="1.1" fill="#1f4d26"/>
<circle cx="132.18" cy="188.24" r="1.1" fill="#1f4d26"/>
<circle cx="132.49" cy="202.92" r="1.1" fill="#1f4d26"/>
<circle cx="132.81" cy="192.02" r="1.1" fill="#1f4d26"/>
<circle cx="133.12" cy="203.5" r="1.1" fill="#1f4d26"/>
<circle cx="133.74" cy="189.52" r="1.1" fill="#1f4d26"/>
<circle cx="134.06" cy="179.76" r="1.1" fill="#1f4d26"/>
<circle cx="135" cy="202.01" r="1.1" fill="#1f4d26"/>
<circle cx="135.62" cy="198.79" r="1.1" fill="#1f4d26"/>
<circle cx="136.25" cy="199.88" r="1.1" fill="#1f4d26"/>
<circle cx="136.87" cy="200.01" r="1.1" fill="#1f4d26"/>
<circle cx="137.19" cy="188.47" r="1.1" fill="#1f4d26"/>
<circle cx="137.5" cy="191.8" r="1.1" fill="#1f4d26"/>
<circle cx="137.81" cy="183.17" r="1.1" fill="#1f4d26"/>
<circle cx="138.12" cy="199.99" r="1.1" fill="#1f4d26"/>
<circle cx="138.44" cy="200.21" r="1.1" fill="#1f4d26"/>
<circle cx="139.06" cy="187.6" r="1.1" fill="#1f4d26"/>
<circle cx="139.38" cy="198.89" r="1.1" fill="#1f4d26"/>
<circle cx="139.69" cy="198.7" r="1.1" fill="#1f4d26"/>
<circle cx="140.63" cy="191.07" r="1.1" fill="#1f4d26"/>
<circle cx="140.94" cy="184.71" r="1.1" fill="#1f4d26"/>
<circle cx="141.25" cy="206.88" r="1.1" fill="#1f4d26"/>
<circle cx="141.57" cy="201.14" r="1.1" fill="#1f4d26"/>
<circle cx="142.51" cy="192.2" r="1.1" fill="#1f4d26"/>
<circle cx="144.7" cy="191.18" r="1.1" fill="#1f4d26"/>
<circle cx="145.01" cy="191.26" r="1.1" fill="#1f4d26"/>
<circle cx="145.32" cy="180.11" r="1.1" fill="#1f4d26"/>
<circle cx="145.63" cy="184.73" r="1.1" fill="#1f4d26"/>
<circle cx="145.95" cy="186.93" r="1.1" fill="#1f4d26"/>
<circle cx="146.57" cy="191.5" r="1.1" fill="#1f4d26"/>
<circle cx="147.2" cy="199.9" r="1.1" fill="#1f4d26"/>
<circle cx="147.83" cy="188.84" r="1.1" fill="#1f4d26"/>
<circle cx="148.45" cy="202.07" r="1.1" fill="#1f4d26"/>
<circle cx="149.39" cy="198.74" r="1.1" fill="#1f4d26"/>
<circle cx="149.7" cy="191.87" r="1.1" fill="#1f4d26"/>
<circle cx="150.02" cy="198.84" r="1.1" fill="#1f4d26"/>
<circle cx="150.33" cy="190.23" r="1.1" fill="#1f4d26"/>
<circle cx="152.83" cy="206.76" r="1.1" fill="#1f4d26"/>
<circle cx="154.4" cy="200.55" r="1.1" fill="#1f4d26"/>
<circle cx="155.02" cy="191.73" r="1.1" fill="#1f4d26"/>
<circle cx="155.33" cy="190.39" r="1.1" fill="#1f4d26"/>
<circle cx="155.65" cy="199.11" r="1.1" fill="#1f4d26"/>
<circle cx="156.27" cy="201.86" r="1.1" fill="#1f4d26"/>
<circle cx="157.21" cy="190.01" r="1.1" fill="#1f4d26"/>
<circle cx="157.53" cy="202.22" r="1.1" fill="#1f4d26"/>
<circle cx="159.09" cy="200.38" r="1.1" fill="#1f4d26"/>
<circle cx="160.65" cy="203.7" r="1.1" fill="#1f4d26"/>
<circle cx="160.97" cy="191.66" r="1.1" fill="#1f4d26"/>
<circle cx="161.59" cy="207.08" r="1.1" fill="#1f4d26"/>
<circle cx="162.22" cy="188.4" r="1.1" fill="#1f4d26"/>
<circle cx="162.53" cy="202.05" r="1.1" fill="#1f4d26"/>
<circle cx="163.78" cy="189.6" r="1.1" fill="#1f4d26"/>
<circle cx="164.1" cy="199.44" r="1.1" fill="#1f4d26"/>
<circle cx="165.04" cy="186.95" r="1.1" fill="#1f4d26"/>
<circle cx="165.35" cy="190.57" r="1.1" fill="#1f4d26"/>
<circle cx="165.97" cy="204.6" r="1.1" fill="#1f4d26"/>
<circle cx="166.6" cy="191.09" r="1.1" fill="#1f4d26"/>
<circle cx="166.91" cy="192.03" r="1.1" fill="#1f4d26"/>
<circle cx="167.23" cy="201.14" r="1.1" fill="#1f4d26"/>
<circle cx="167.54" cy="199.15" r="1.1" fill="#1f4d26"/>
<circle cx="167.85" cy="198.72" r="1.1" fill="#1f4d26"/>
<circle cx="168.79" cy="189.51" r="1.1" fill="#1f4d26"/>
<circle cx="169.1" cy="198.67" r="1.1" fill="#1f4d26"/>
<circle cx="169.42" cy="208.11" r="1.1" fill="#1f4d26"/>
<circle cx="170.67" cy="188.76" r="1.1" fill="#1f4d26"/>
<circle cx="172.54" cy="206.13" r="1.1" fill="#1f4d26"/>
<circle cx="172.86" cy="198.89" r="1.1" fill="#1f4d26"/>
<circle cx="173.48" cy="192.29" r="1.1" fill="#1f4d26"/>
<circle cx="173.8" cy="210.99" r="1.1" fill="#1f4d26"/>
<circle cx="174.42" cy="192.45" r="1.1" fill="#1f4d26"/>
<circle cx="175.99" cy="179.3" r="1.1" fill="#1f4d26"/>
<circle cx="176.61" cy="189.83" r="1.1" fill="#1f4d26"/>
<circle cx="176.93" cy="191.28" r="1.1" fill="#1f4d26"/>
<circle cx="177.55" cy="192.05" r="1.1" fill="#1f4d26"/>
<circle cx="177.86" cy="184.67" r="1.1" fill="#1f4d26"/>
<circle cx="178.18" cy="191.58" r="1.1" fill="#1f4d26"/>
<circle cx="178.8" cy="198.9" r="1.1" fill="#1f4d26"/>
<circle cx="180.68" cy="198.89" r="1.1" fill="#1f4d26"/>
<circle cx="180.99" cy="198.75" r="1.1" fill="#1f4d26"/>
<circle cx="181.31" cy="191.87" r="1.1" fill="#1f4d26"/>
<circle cx="181.62" cy="200.4" r="1.1" fill="#1f4d26"/>
<circle cx="181.93" cy="199.36" r="1.1" fill="#1f4d26"/>
<circle cx="183.18" cy="189.81" r="1.1" fill="#1f4d26"/>
<circle cx="184.12" cy="188.62" r="1.1" fill="#1f4d26"/>
<circle cx="184.75" cy="189.45" r="1.1" fill="#1f4d26"/>
<circle cx="185.06" cy="189.11" r="1.1" fill="#1f4d26"/>
<circle cx="185.37" cy="201.5" r="1.1" fill="#1f4d26"/>
<circle cx="185.69" cy="200.54" r="1.1" fill="#1f4d26"/>
<ellipse cx="71" cy="188" rx="9" ry="10" fill="#7a6a40" fill-opacity="0.6"/>
<ellipse cx="130" cy="196" rx="3" ry="9" fill="#7a6a40" fill-opacity="0.5"/>
<line x1="24.2" y1="195.5" x2="24.2" y2="211.8" stroke="#2b7d3e" stroke-width="0.9"/>
<circle cx="24.2" cy="211.8" r="1.0" fill="#2b3d2b"/>
<line x1="26.5" y1="195.5" x2="26.5" y2="216.6" stroke="#2b7d3e" stroke-width="0.9"/>
<circle cx="26.5" cy="216.6" r="1.0" fill="#2b3d2b"/>
<line x1="32.7" y1="195.5" x2="32.7" y2="182.2" stroke="#2b7d3e" stroke-width="0.9"/>
<circle cx="32.7" cy="182.2" r="1.0" fill="#2b3d2b"/>
<line x1="36.6" y1="195.5" x2="36.6" y2="179.4" stroke="#2b7d3e" stroke-width="0.9"/>
<circle cx="36.6" cy="179.4" r="1.0" fill="#2b3d2b"/>
<line x1="45.5" y1="195.5" x2="45.5" y2="210.8" stroke="#2b7d3e" stroke-width="0.9"/>
<circle cx="45.5" cy="210.8" r="1.0" fill="#2b3d2b"/>
<line x1="53.7" y1="195.5" x2="53.7" y2="235" stroke="#9a5a48" stroke-width="0.9"/>
<circle cx="53.7" cy="235" r="1.0" fill="#2b3d2b"/>
<line x1="53.7" y1="195.5" x2="53.7" y2="168.5" stroke="#9a5a48" stroke-width="0.9"/>
<circle cx="53.7" cy="168.5" r="1.0" fill="#2b3d2b"/>
<line x1="52.8" y1="195.5" x2="52.8" y2="221.9" stroke="#9a5a48" stroke-width="0.9"/>
<circle cx="52.8" cy="221.9" r="1.0" fill="#2b3d2b"/>
<line x1="62.3" y1="195.5" x2="62.3" y2="164.7" stroke="#9a5a48" stroke-width="0.9"/>
<circle cx="62.3" cy="164.7" r="1.0" fill="#2b3d2b"/>
<line x1="62.3" y1="195.5" x2="62.3" y2="221.9" stroke="#9a5a48" stroke-width="0.9"/>
<circle cx="62.3" cy="221.9" r="1.0" fill="#2b3d2b"/>
<line x1="70.7" y1="195.5" x2="70.7" y2="150.2" stroke="#9a5a48" stroke-width="0.9"/>
<circle cx="70.7" cy="150.2" r="1.0" fill="#2b3d2b"/>
<line x1="65.6" y1="195.5" x2="65.6" y2="214.3" stroke="#9a5a48" stroke-width="0.9"/>
<circle cx="65.6" cy="214.3" r="1.0" fill="#2b3d2b"/>
<line x1="66.5" y1="195.5" x2="66.5" y2="217.5" stroke="#9a5a48" stroke-width="0.9"/>
<circle cx="66.5" cy="217.5" r="1.0" fill="#2b3d2b"/>
<line x1="67.5" y1="195.5" x2="67.5" y2="174" stroke="#9a5a48" stroke-width="0.9"/>
<circle cx="67.5" cy="174" r="1.0" fill="#2b3d2b"/>
<line x1="64" y1="195.5" x2="64" y2="178" stroke="#ff3b52" stroke-width="0.9"/>
<circle cx="64" cy="178" r="1.0" fill="#2b3d2b"/>
<line x1="69" y1="195.5" x2="69" y2="176" stroke="#9a5a48" stroke-width="0.9"/>
<circle cx="69" cy="176" r="1.0" fill="#2b3d2b"/>
<line x1="72" y1="195.5" x2="72" y2="180" stroke="#9a5a48" stroke-width="0.9"/>
<circle cx="72" cy="180" r="1.0" fill="#2b3d2b"/>
<line x1="74" y1="195.5" x2="74" y2="178" stroke="#ff3b52" stroke-width="0.9"/>
<circle cx="74" cy="178" r="1.0" fill="#2b3d2b"/>
<line x1="77" y1="195.5" x2="77" y2="182" stroke="#9a5a48" stroke-width="0.9"/>
<circle cx="77" cy="182" r="1.0" fill="#2b3d2b"/>
<line x1="79.5" y1="195.5" x2="79.5" y2="184" stroke="#9a5a48" stroke-width="0.9"/>
<circle cx="79.5" cy="184" r="1.0" fill="#2b3d2b"/>
<line x1="78.6" y1="195.5" x2="78.6" y2="170.8" stroke="#9a5a48" stroke-width="0.9"/>
<circle cx="78.6" cy="170.8" r="1.0" fill="#2b3d2b"/>
<line x1="81.8" y1="195.5" x2="81.8" y2="173.6" stroke="#9a5a48" stroke-width="0.9"/>
<circle cx="81.8" cy="173.6" r="1.0" fill="#2b3d2b"/>
<line x1="75.7" y1="195.5" x2="75.7" y2="177.4" stroke="#9a5a48" stroke-width="0.9"/>
<circle cx="75.7" cy="177.4" r="1.0" fill="#2b3d2b"/>
<line x1="86.2" y1="195.5" x2="86.2" y2="176.5" stroke="#9a5a48" stroke-width="0.9"/>
<circle cx="86.2" cy="176.5" r="1.0" fill="#2b3d2b"/>
<line x1="89" y1="195.5" x2="89" y2="181.3" stroke="#9a5a48" stroke-width="0.9"/>
<circle cx="89" cy="181.3" r="1.0" fill="#2b3d2b"/>
<line x1="76.3" y1="195.5" x2="76.3" y2="215.6" stroke="#2b7d3e" stroke-width="0.9"/>
<circle cx="76.3" cy="215.6" r="1.0" fill="#2b3d2b"/>
<line x1="84.3" y1="195.5" x2="84.3" y2="213.7" stroke="#2b7d3e" stroke-width="0.9"/>
<circle cx="84.3" cy="213.7" r="1.0" fill="#2b3d2b"/>
<line x1="91" y1="195.5" x2="91" y2="208" stroke="#2b7d3e" stroke-width="0.9"/>
<circle cx="91" cy="208" r="1.0" fill="#2b3d2b"/>
<line x1="94.8" y1="195.5" x2="94.8" y2="207" stroke="#2b7d3e" stroke-width="0.9"/>
<circle cx="94.8" cy="207" r="1.0" fill="#2b3d2b"/>
<line x1="112" y1="195.5" x2="112" y2="212.7" stroke="#2b7d3e" stroke-width="0.9"/>
<circle cx="112" cy="212.7" r="1.0" fill="#2b3d2b"/>
<line x1="128.2" y1="195.5" x2="128.2" y2="152.6" stroke="#ff3b52" stroke-width="0.9"/>
<circle cx="128.2" cy="152.6" r="1.0" fill="#2b3d2b"/>
<line x1="128.2" y1="195.5" x2="128.2" y2="240.4" stroke="#9a5a48" stroke-width="0.9"/>
<circle cx="128.2" cy="240.4" r="1.0" fill="#2b3d2b"/>
<line x1="129.4" y1="195.5" x2="129.4" y2="165" stroke="#9a5a48" stroke-width="0.9"/>
<circle cx="129.4" cy="165" r="1.0" fill="#2b3d2b"/>
<line x1="136.4" y1="195.5" x2="136.4" y2="162" stroke="#9a5a48" stroke-width="0.9"/>
<circle cx="136.4" cy="162" r="1.0" fill="#2b3d2b"/>
<line x1="140.6" y1="195.5" x2="140.6" y2="166" stroke="#9a5a48" stroke-width="0.9"/>
<circle cx="140.6" cy="166" r="1.0" fill="#2b3d2b"/>
<line x1="146.6" y1="195.5" x2="146.6" y2="158.6" stroke="#9a5a48" stroke-width="0.9"/>
<circle cx="146.6" cy="158.6" r="1.0" fill="#2b3d2b"/>
<line x1="149" y1="195.5" x2="149" y2="168.6" stroke="#9a5a48" stroke-width="0.9"/>
<circle cx="149" cy="168.6" r="1.0" fill="#2b3d2b"/>
<line x1="155.4" y1="195.5" x2="155.4" y2="170.6" stroke="#9a5a48" stroke-width="0.9"/>
<circle cx="155.4" cy="170.6" r="1.0" fill="#2b3d2b"/>
<line x1="164.4" y1="195.5" x2="164.4" y2="149.6" stroke="#9a5a48" stroke-width="0.9"/>
<circle cx="164.4" cy="149.6" r="1.0" fill="#2b3d2b"/>
<line x1="171.6" y1="195.5" x2="171.6" y2="173.6" stroke="#9a5a48" stroke-width="0.9"/>
<circle cx="171.6" cy="173.6" r="1.0" fill="#2b3d2b"/>
<line x1="134.6" y1="195.5" x2="134.6" y2="176.6" stroke="#9a5a48" stroke-width="0.9"/>
<circle cx="134.6" cy="176.6" r="1.0" fill="#2b3d2b"/>
<line x1="159" y1="195.5" x2="159" y2="180" stroke="#2b7d3e" stroke-width="0.9"/>
<circle cx="159" cy="180" r="1.0" fill="#2b3d2b"/>
<line x1="132" y1="195.5" x2="132" y2="246" stroke="#9a5a48" stroke-width="0.9"/>
<circle cx="132" cy="246" r="1.0" fill="#2b3d2b"/>
<line x1="131" y1="195.5" x2="131" y2="225" stroke="#9a5a48" stroke-width="0.9"/>
<circle cx="131" cy="225" r="1.0" fill="#2b3d2b"/>
<line x1="139" y1="195.5" x2="139" y2="228.6" stroke="#9a5a48" stroke-width="0.9"/>
<circle cx="139" cy="228.6" r="1.0" fill="#2b3d2b"/>
<line x1="140.6" y1="195.5" x2="140.6" y2="232.6" stroke="#9a5a48" stroke-width="0.9"/>
<circle cx="140.6" cy="232.6" r="1.0" fill="#2b3d2b"/>
<line x1="149" y1="195.5" x2="149" y2="231" stroke="#9a5a48" stroke-width="0.9"/>
<circle cx="149" cy="231" r="1.0" fill="#2b3d2b"/>
<line x1="149.5" y1="195.5" x2="149.5" y2="216" stroke="#9a5a48" stroke-width="0.9"/>
<circle cx="149.5" cy="216" r="1.0" fill="#2b3d2b"/>
<line x1="160" y1="195.5" x2="160" y2="217.4" stroke="#2b7d3e" stroke-width="0.9"/>
<circle cx="160" cy="217.4" r="1.0" fill="#2b3d2b"/>
<line x1="171.4" y1="195.5" x2="171.4" y2="214.6" stroke="#9a5a48" stroke-width="0.9"/>
<circle cx="171.4" cy="214.6" r="1.0" fill="#2b3d2b"/>
<line x1="141.6" y1="195.5" x2="141.6" y2="209.4" stroke="#9a5a48" stroke-width="0.9"/>
<circle cx="141.6" cy="209.4" r="1.0" fill="#2b3d2b"/>
<line x1="184.6" y1="195.5" x2="184.6" y2="216.6" stroke="#9a5a48" stroke-width="0.9"/>
<circle cx="184.6" cy="216.6" r="1.0" fill="#2b3d2b"/>
<line x1="179.5" y1="149.6" x2="179.5" y2="246" stroke="#c8c8da" stroke-width="1"/>
<line x1="179.5" y1="149.6" x2="179.5" y2="246" stroke="#7c7ca8" stroke-width="1" stroke-dasharray="1,1"/>
<line x1="186.5" y1="149.6" x2="186.5" y2="246" stroke="#c8c8da" stroke-width="1"/>
<line x1="186.5" y1="149.6" x2="186.5" y2="246" stroke="#7c7ca8" stroke-width="1" stroke-dasharray="1,1"/>
<rect x="15.25" y="145" width="179.2" height="106.3" fill="none" stroke="#a2a2a2" stroke-width="1.1"/>
<rect x="15.5" y="145.3" width="45.9" height="12.7" fill="#fff" fill-opacity="0.85" stroke="#dcdcdc" stroke-width="0.6" rx="0.6"/>
<line x1="18.1" y1="148.8" x2="24.9" y2="148.8" stroke="#6668b4" stroke-width="0.9" stroke-dasharray="1.2,0.8"/>
<line x1="18.1" y1="153.9" x2="24.9" y2="153.9" stroke="#dccf78" stroke-width="0.9" stroke-dasharray="1.2,0.8"/>
<text x="27.6" y="150.1" class="t" font-size="3.6">2021-8-8 8:28</text>
<text x="27.6" y="155.2" class="t" font-size="3.58">anomalous volumes</text>
<text x="104.85" y="142.85" class="t" font-size="4.3" text-anchor="middle">NEAR_2021-8-8 8:28</text>
<line x1="13.45" y1="149.4" x2="15.25" y2="149.4" stroke="#a2a2a2" stroke-width="0.7"/>
<text x="13.05" y="151.3" class="t" font-size="3.9" text-anchor="end">6</text>
<line x1="13.45" y1="165.1" x2="15.25" y2="165.1" stroke="#a2a2a2" stroke-width="0.7"/>
<text x="13.05" y="167" class="t" font-size="3.9" text-anchor="end">4</text>
<line x1="13.45" y1="180" x2="15.25" y2="180" stroke="#a2a2a2" stroke-width="0.7"/>
<text x="13.05" y="181.9" class="t" font-size="3.9" text-anchor="end">2</text>
<line x1="13.45" y1="194.8" x2="15.25" y2="194.8" stroke="#a2a2a2" stroke-width="0.7"/>
<text x="13.05" y="196.7" class="t" font-size="3.9" text-anchor="end">0</text>
<line x1="13.45" y1="209.9" x2="15.25" y2="209.9" stroke="#a2a2a2" stroke-width="0.7"/>
<text x="13.05" y="211.8" class="t" font-size="3.9" text-anchor="end">−2</text>
<line x1="13.45" y1="225.2" x2="15.25" y2="225.2" stroke="#a2a2a2" stroke-width="0.7"/>
<text x="13.05" y="227.1" class="t" font-size="3.9" text-anchor="end">−4</text>
<line x1="13.45" y1="240.5" x2="15.25" y2="240.5" stroke="#a2a2a2" stroke-width="0.7"/>
<text x="13.05" y="242.4" class="t" font-size="3.9" text-anchor="end">−6</text>
<text x="0" y="0" class="t" font-size="3.75" text-anchor="middle" transform="translate(7.3,198.15) rotate(-90)">bis_volume</text>
<line x1="23" y1="251.3" x2="23" y2="252.7" stroke="#a2a2a2" stroke-width="0.5"/>
<text class="k" transform="translate(23.95,254.1) rotate(-90)" text-anchor="end">32</text>
<text class="k" transform="translate(23.95,259.2) rotate(-90)" text-anchor="end">11</text>
<line x1="24.6" y1="251.3" x2="24.6" y2="252.7" stroke="#a2a2a2" stroke-width="0.5"/>
<text class="k" transform="translate(25.55,254.1) rotate(-90)" text-anchor="end">10</text>
<text class="k" transform="translate(25.55,259.2) rotate(-90)" text-anchor="end">20</text>
<line x1="33.7" y1="251.3" x2="33.7" y2="252.7" stroke="#a2a2a2" stroke-width="0.5"/>
<text class="k" transform="translate(34.65,254.1) rotate(-90)" text-anchor="end">22</text>
<text class="k" transform="translate(34.65,259.2) rotate(-90)" text-anchor="end">23</text>
<line x1="39.3" y1="251.3" x2="39.3" y2="252.7" stroke="#a2a2a2" stroke-width="0.5"/>
<text class="k" transform="translate(40.25,254.1) rotate(-90)" text-anchor="end">51</text>
<text class="k" transform="translate(40.25,259.2) rotate(-90)" text-anchor="end">23</text>
<line x1="44.6" y1="251.3" x2="44.6" y2="252.7" stroke="#a2a2a2" stroke-width="0.5"/>
<text class="k" transform="translate(45.55,254.1) rotate(-90)" text-anchor="end">44</text>
<text class="k" transform="translate(45.55,259.2) rotate(-90)" text-anchor="end">05</text>
<line x1="51.6" y1="251.3" x2="51.6" y2="252.7" stroke="#a2a2a2" stroke-width="0.5"/>
<text class="k" transform="translate(52.55,254.1) rotate(-90)" text-anchor="end">56</text>
<text class="k" transform="translate(52.55,259.2) rotate(-90)" text-anchor="end">13</text>
<line x1="58.4" y1="251.3" x2="58.4" y2="252.7" stroke="#a2a2a2" stroke-width="0.5"/>
<text class="k" transform="translate(59.35,254.1) rotate(-90)" text-anchor="end">55</text>
<text class="k" transform="translate(59.35,259.2) rotate(-90)" text-anchor="end">22</text>
<line x1="65" y1="251.3" x2="65" y2="252.7" stroke="#a2a2a2" stroke-width="0.5"/>
<text class="k" transform="translate(65.95,254.1) rotate(-90)" text-anchor="end">02</text>
<text class="k" transform="translate(65.95,259.2) rotate(-90)" text-anchor="end">27</text>
<line x1="72.5" y1="251.3" x2="72.5" y2="252.7" stroke="#a2a2a2" stroke-width="0.5"/>
<text class="k" transform="translate(73.45,254.1) rotate(-90)" text-anchor="end">41</text>
<text class="k" transform="translate(73.45,259.2) rotate(-90)" text-anchor="end">26</text>
<line x1="79.2" y1="251.3" x2="79.2" y2="252.7" stroke="#a2a2a2" stroke-width="0.5"/>
<text class="k" transform="translate(80.15,254.1) rotate(-90)" text-anchor="end">24</text>
<text class="k" transform="translate(80.15,259.2) rotate(-90)" text-anchor="end">16</text>
<line x1="86" y1="251.3" x2="86" y2="252.7" stroke="#a2a2a2" stroke-width="0.5"/>
<text class="k" transform="translate(86.95,254.1) rotate(-90)" text-anchor="end">04</text>
<text class="k" transform="translate(86.95,259.2) rotate(-90)" text-anchor="end">07</text>
<line x1="92.9" y1="251.3" x2="92.9" y2="252.7" stroke="#a2a2a2" stroke-width="0.5"/>
<text class="k" transform="translate(93.85,254.1) rotate(-90)" text-anchor="end">20</text>
<text class="k" transform="translate(93.85,259.2) rotate(-90)" text-anchor="end">06</text>
<line x1="99.6" y1="251.3" x2="99.6" y2="252.7" stroke="#a2a2a2" stroke-width="0.5"/>
<text class="k" transform="translate(100.55,254.1) rotate(-90)" text-anchor="end">41</text>
<text class="k" transform="translate(100.55,259.2) rotate(-90)" text-anchor="end">24</text>
<line x1="106.4" y1="251.3" x2="106.4" y2="252.7" stroke="#a2a2a2" stroke-width="0.5"/>
<text class="k" transform="translate(107.35,254.1) rotate(-90)" text-anchor="end">06</text>
<text class="k" transform="translate(107.35,259.2) rotate(-90)" text-anchor="end">21</text>
<line x1="113" y1="251.3" x2="113" y2="252.7" stroke="#a2a2a2" stroke-width="0.5"/>
<text class="k" transform="translate(113.95,254.1) rotate(-90)" text-anchor="end">20</text>
<text class="k" transform="translate(113.95,259.2) rotate(-90)" text-anchor="end">24</text>
<line x1="120.5" y1="251.3" x2="120.5" y2="252.7" stroke="#a2a2a2" stroke-width="0.5"/>
<text class="k" transform="translate(121.45,254.1) rotate(-90)" text-anchor="end">44</text>
<text class="k" transform="translate(121.45,259.2) rotate(-90)" text-anchor="end">17</text>
<line x1="127.5" y1="251.3" x2="127.5" y2="252.7" stroke="#a2a2a2" stroke-width="0.5"/>
<text class="k" transform="translate(128.45,254.1) rotate(-90)" text-anchor="end">14</text>
<text class="k" transform="translate(128.45,259.2) rotate(-90)" text-anchor="end">22</text>
<line x1="134.3" y1="251.3" x2="134.3" y2="252.7" stroke="#a2a2a2" stroke-width="0.5"/>
<text class="k" transform="translate(135.25,254.1) rotate(-90)" text-anchor="end">55</text>
<text class="k" transform="translate(135.25,259.2) rotate(-90)" text-anchor="end">07</text>
<line x1="140.9" y1="251.3" x2="140.9" y2="252.7" stroke="#a2a2a2" stroke-width="0.5"/>
<text class="k" transform="translate(141.85,254.1) rotate(-90)" text-anchor="end">36</text>
<text class="k" transform="translate(141.85,259.2) rotate(-90)" text-anchor="end">02</text>
<line x1="147.8" y1="251.3" x2="147.8" y2="252.7" stroke="#a2a2a2" stroke-width="0.5"/>
<text class="k" transform="translate(148.75,254.1) rotate(-90)" text-anchor="end">40</text>
<text class="k" transform="translate(148.75,259.2) rotate(-90)" text-anchor="end">01</text>
<line x1="154.7" y1="251.3" x2="154.7" y2="252.7" stroke="#a2a2a2" stroke-width="0.5"/>
<text class="k" transform="translate(155.65,254.1) rotate(-90)" text-anchor="end">55</text>
<text class="k" transform="translate(155.65,259.2) rotate(-90)" text-anchor="end">02</text>
<line x1="161.6" y1="251.3" x2="161.6" y2="252.7" stroke="#a2a2a2" stroke-width="0.5"/>
<text class="k" transform="translate(162.55,254.1) rotate(-90)" text-anchor="end">05</text>
<text class="k" transform="translate(162.55,259.2) rotate(-90)" text-anchor="end">19</text>
<line x1="168.5" y1="251.3" x2="168.5" y2="252.7" stroke="#a2a2a2" stroke-width="0.5"/>
<text class="k" transform="translate(169.45,254.1) rotate(-90)" text-anchor="end">44</text>
<text class="k" transform="translate(169.45,259.2) rotate(-90)" text-anchor="end">05</text>
<line x1="175.5" y1="251.3" x2="175.5" y2="252.7" stroke="#a2a2a2" stroke-width="0.5"/>
<text class="k" transform="translate(176.45,254.1) rotate(-90)" text-anchor="end">12</text>
<text class="k" transform="translate(176.45,259.2) rotate(-90)" text-anchor="end">16</text>
<line x1="182.6" y1="251.3" x2="182.6" y2="252.7" stroke="#a2a2a2" stroke-width="0.5"/>
<text class="k" transform="translate(183.55,254.1) rotate(-90)" text-anchor="end">02</text>
<text class="k" transform="translate(183.55,259.2) rotate(-90)" text-anchor="end">28</text>
<line x1="178.5" y1="251.3" x2="178.5" y2="252.7" stroke="#a2a2a2" stroke-width="0.5"/>
<text class="k" transform="translate(179.45,254.1) rotate(-90)" text-anchor="end">37</text>
<text class="k" transform="translate(179.45,259.2) rotate(-90)" text-anchor="end">01</text>
<text class="k" transform="translate(179.45,264.5) rotate(-90)" text-anchor="end">28</text>
<line x1="185.6" y1="251.3" x2="185.6" y2="252.7" stroke="#a2a2a2" stroke-width="0.5"/>
<text class="k" transform="translate(186.55,254.1) rotate(-90)" text-anchor="end">06</text>
<text class="k" transform="translate(186.55,259.2) rotate(-90)" text-anchor="end">07</text>
<text class="k" transform="translate(186.55,264.5) rotate(-90)" text-anchor="end">08</text>
<text x="104.85" y="272.7" class="t" font-size="3.7" text-anchor="middle">datetime</text>
<rect x="222" y="191.3" width="164.7" height="14" fill="#e4f7f1"/>
<rect x="221.1" y="164.6" width="8" height="35.7" fill="#fdf4f7"/>
<rect x="225.5" y="156.6" width="8" height="43.7" fill="#fdf4f7"/>
<rect x="232.7" y="196.3" width="8" height="44" fill="#fdf4f7"/>
<rect x="237.5" y="196.3" width="8" height="21" fill="#fdf4f7"/>
<rect x="260.4" y="178.2" width="8" height="22.1" fill="#fdf4f7"/>
<rect x="265.6" y="196.3" width="8" height="52.4" fill="#fdf4f7"/>
<rect x="282.4" y="147.4" width="8" height="52.9" fill="#fdf4f7"/>
<rect x="288.7" y="183" width="8" height="17.3" fill="#fdf4f7"/>
<rect x="300.8" y="196.3" width="8" height="18.5" fill="#fdf4f7"/>
<rect x="327.9" y="176.7" width="8" height="23.6" fill="#fdf4f7"/>
<rect x="338.2" y="153.7" width="8" height="46.6" fill="#fdf4f7"/>
<rect x="337.3" y="185" width="8" height="15.3" fill="#fdf4f7"/>
<rect x="347.8" y="183.6" width="8" height="16.7" fill="#fdf4f7"/>
<rect x="346" y="187" width="8" height="13.3" fill="#fdf4f7"/>
<rect x="358.2" y="196.3" width="8" height="30.4" fill="#fdf4f7"/>
<rect x="361.4" y="196.3" width="8" height="37.7" fill="#fdf4f7"/>
<rect x="363.3" y="170" width="8" height="30.3" fill="#fdf4f7"/>
<rect x="370.6" y="182.6" width="8" height="17.7" fill="#fdf4f7"/>
<rect x="378.5" y="165.2" width="8" height="35.1" fill="#fdf4f7"/>
<line x1="223" y1="188.5" x2="385.7" y2="188.5" stroke="#e0d8a6" stroke-width="1" stroke-dasharray="3,0.7"/>
<line x1="223" y1="208.3" x2="385.7" y2="208.3" stroke="#e0d8a6" stroke-width="1" stroke-dasharray="3,0.7"/>
<line x1="223" y1="198.3" x2="385.7" y2="198.3" stroke="#2e7438" stroke-width="3.2"/>
<polyline points="223,196.77 223.49,198.73 223.99,201.9 224.48,200.22 224.98,202.98 225.47,194.41 225.97,199.27 226.46,203.85 226.96,199.53 227.45,198.63 227.95,194.19 228.44,199.18 228.93,198.59 229.43,197.03 229.92,195.61 230.42,199.27 230.91,197.55 231.41,198.66 231.9,204.54 232.4,198.12 232.89,198.08 233.39,197.49 233.88,196.29 234.37,199.4 234.87,199.8 235.36,199.35 235.86,188.4 236.35,198.61 236.85,198.51 237.34,193.63 237.84,197.48 238.33,197.73 238.82,198.3 239.32,197.93 239.81,194.62 240.31,196.68 240.8,197.78 241.3,196.79 241.79,197.71 242.29,197.52 242.78,194.06 243.28,196.79 243.77,199.02 244.26,197.29 244.76,199.96 245.25,197.38 245.75,199.65 246.24,198.58 246.74,197.92 247.23,195.78 247.73,198.52 248.22,198.4 248.72,198.85 249.21,201.01 249.7,197.94 250.2,199.86 250.69,198.25 251.19,201.94 251.68,197.46 252.18,199.87 252.67,199.28 253.17,196.2 253.66,199.91 254.16,193.26 254.65,199.19 255.14,198.62 255.64,197.42 256.13,192.95 256.63,203.54 257.12,198.29 257.62,204.92 258.11,199.05 258.61,198.65 259.1,196.67 259.6,198.38 260.09,199.37 260.58,198.36 261.08,196.99 261.57,196.12 262.07,197.04 262.56,200.68 263.06,197.37 263.55,194.82 264.05,195.31 264.54,196.65 265.03,199.54 265.53,203.56 266.02,198.55 266.52,197.61 267.01,196.65 267.51,198.76 268,198.75 268.5,193.78 268.99,199.65 269.49,197.91 269.98,199.09 270.47,197.13 270.97,198.58 271.46,201.66 271.96,198.05 272.45,198.96 272.95,196.89 273.44,201.44 273.94,199.6 274.43,197.07 274.93,196.9 275.42,197.01 275.91,196.33 276.41,200.06 276.9,198.79 277.4,198.53 277.89,198.36 278.39,198.17 278.88,198.76 279.38,198.01 279.87,192.82 280.37,198.58 280.86,199.1 281.35,197.75 281.85,198.98 282.34,196.66 282.84,197.25 283.33,198.44 283.83,195.81 284.32,196.63 284.82,198.89 285.31,197.68 285.81,197.83 286.3,197.27 286.79,194.71 287.29,194.49 287.78,198.73 288.28,197.89 288.77,197.95 289.27,197.36 289.76,200.33 290.26,195.4 290.75,199.89 291.24,198.29 291.74,197.85 292.23,197.64 292.73,192.71 293.22,201.29 293.72,200.42 294.21,198.45 294.71,198.82 295.2,197.55 295.7,195.1 296.19,197.34 296.68,199.33 297.18,198.05 297.67,203.09 298.17,200.01 298.66,192.68 299.16,202.2 299.65,197.33 300.15,197.53 300.64,197.96 301.14,195.56 301.63,196.85 302.12,197.66 302.62,200.07 303.11,199.43 303.61,199.94 304.1,201.31 304.6,196.43 305.09,203.7 305.59,198.27 306.08,199.8 306.58,198.66 307.07,199.66 307.56,197.41 308.06,199.27 308.55,197.87 309.05,196.77 309.54,199.35 310.04,195.35 310.53,197.7 311.03,197.39 311.52,197.34 312.02,201.63 312.51,198.44 313,196.31 313.5,196.73 313.99,194.69 314.49,199.13 314.98,196.03 315.48,197.76 315.97,200.56 316.47,201.92 316.96,197.37 317.46,198.18 317.95,197.53 318.44,198.25 318.94,198.52 319.43,196.8 319.93,202.24 320.42,197.36 320.92,199.28 321.41,199.41 321.91,192.84 322.4,198.89 322.89,198.55 323.39,196.94 323.88,199.13 324.38,199.18 324.87,201.5 325.37,195.1 325.86,196.71 326.36,198.53 326.85,197.87 327.35,198.29 327.84,192.03 328.33,197.28 328.83,202.43 329.32,196.09 329.82,194.7 330.31,199.14 330.81,197.67 331.3,197.51 331.8,202.87 332.29,197.04 332.79,196.96 333.28,198.45 333.77,195.25 334.27,197.91 334.76,196.28 335.26,197.86 335.75,198.22 336.25,197.71 336.74,194.72 337.24,198.33 337.73,197.64 338.23,203.84 338.72,196.21 339.21,197.82 339.71,201.13 340.2,198.87 340.7,196.25 341.19,195.06 341.69,199.22 342.18,198.36 342.68,197.61 343.17,198.75 343.67,197.94 344.16,198.56 344.65,199.11 345.15,198.95 345.64,195.5 346.14,195.57 346.63,198.51 347.13,199.63 347.62,199.61 348.12,198.75 348.61,199.89 349.1,197.98 349.6,198.11 350.09,200.03 350.59,197.73 351.08,198.86 351.58,198.73 352.07,198.49 352.57,198.52 353.06,195.62 353.56,192.83 354.05,199.22 354.54,196.86 355.04,196.62 355.53,198.99 356.03,197.72 356.52,195.39 357.02,199.18 357.51,205.26 358.01,196 358.5,197.3 359,196.96 359.49,198.76 359.98,201.1 360.48,197.92 360.97,198.94 361.47,199.62 361.96,200.4 362.46,197.77 362.95,199.14 363.45,199.58 363.94,197.52 364.44,197.49 364.93,197.98 365.42,198.39 365.92,200.11 366.41,198.96 366.91,195.09 367.4,197.63 367.9,197.95 368.39,196.99 368.89,196.75 369.38,198.08 369.88,198.97 370.37,199.82 370.86,198.56 371.36,196.8 371.85,198.53 372.35,198.22 372.84,199 373.34,202.8 373.83,198.49 374.33,198.69 374.82,198.26 375.31,199.91 375.81,200.14 376.3,200.59 376.8,201.37 377.29,199 377.79,198.33 378.28,201.88 378.78,198.3 379.27,203.98 379.77,198.34 380.26,198.38 380.75,196.64 381.25,197.94 381.74,197.9 382.24,197.53 382.73,197.72 383.23,197.78 383.72,199.54 384.22,199.21 384.71,197.15 385.21,198.73 385.7,202.78" fill="none" stroke="#2e7438" stroke-width="0.5" stroke-linejoin="round"/>
<circle cx="223" cy="196.77" r="1.1" fill="#1f4d26"/>
<circle cx="223.99" cy="201.9" r="1.1" fill="#1f4d26"/>
<circle cx="224.48" cy="200.22" r="1.1" fill="#1f4d26"/>
<circle cx="224.98" cy="202.98" r="1.1" fill="#1f4d26"/>
<circle cx="225.47" cy="194.41" r="1.1" fill="#1f4d26"/>
<circle cx="225.97" cy="199.27" r="1.1" fill="#1f4d26"/>
<circle cx="226.46" cy="203.85" r="1.1" fill="#1f4d26"/>
<circle cx="226.96" cy="199.53" r="1.1" fill="#1f4d26"/>
<circle cx="227.95" cy="194.19" r="1.1" fill="#1f4d26"/>
<circle cx="229.43" cy="197.03" r="1.1" fill="#1f4d26"/>
<circle cx="229.92" cy="195.61" r="1.1" fill="#1f4d26"/>
<circle cx="230.42" cy="199.27" r="1.1" fill="#1f4d26"/>
<circle cx="231.9" cy="204.54" r="1.1" fill="#1f4d26"/>
<circle cx="233.88" cy="196.29" r="1.1" fill="#1f4d26"/>
<circle cx="234.37" cy="199.4" r="1.1" fill="#1f4d26"/>
<circle cx="234.87" cy="199.8" r="1.1" fill="#1f4d26"/>
<circle cx="235.36" cy="199.35" r="1.1" fill="#1f4d26"/>
<circle cx="235.86" cy="188.4" r="1.1" fill="#1f4d26"/>
<circle cx="237.34" cy="193.63" r="1.1" fill="#1f4d26"/>
<circle cx="239.81" cy="194.62" r="1.1" fill="#1f4d26"/>
<circle cx="240.31" cy="196.68" r="1.1" fill="#1f4d26"/>
<circle cx="241.3" cy="196.79" r="1.1" fill="#1f4d26"/>
<circle cx="242.78" cy="194.06" r="1.1" fill="#1f4d26"/>
<circle cx="243.28" cy="196.79" r="1.1" fill="#1f4d26"/>
<circle cx="244.26" cy="197.29" r="1.1" fill="#1f4d26"/>
<circle cx="244.76" cy="199.96" r="1.1" fill="#1f4d26"/>
<circle cx="245.75" cy="199.65" r="1.1" fill="#1f4d26"/>
<circle cx="247.23" cy="195.78" r="1.1" fill="#1f4d26"/>
<circle cx="249.21" cy="201.01" r="1.1" fill="#1f4d26"/>
<circle cx="250.2" cy="199.86" r="1.1" fill="#1f4d26"/>
<circle cx="251.19" cy="201.94" r="1.1" fill="#1f4d26"/>
<circle cx="252.18" cy="199.87" r="1.1" fill="#1f4d26"/>
<circle cx="252.67" cy="199.28" r="1.1" fill="#1f4d26"/>
<circle cx="253.17" cy="196.2" r="1.1" fill="#1f4d26"/>
<circle cx="253.66" cy="199.91" r="1.1" fill="#1f4d26"/>
<circle cx="254.16" cy="193.26" r="1.1" fill="#1f4d26"/>
<circle cx="256.13" cy="192.95" r="1.1" fill="#1f4d26"/>
<circle cx="256.63" cy="203.54" r="1.1" fill="#1f4d26"/>
<circle cx="257.62" cy="204.92" r="1.1" fill="#1f4d26"/>
<circle cx="259.1" cy="196.67" r="1.1" fill="#1f4d26"/>
<circle cx="260.09" cy="199.37" r="1.1" fill="#1f4d26"/>
<circle cx="261.08" cy="196.99" r="1.1" fill="#1f4d26"/>
<circle cx="261.57" cy="196.12" r="1.1" fill="#1f4d26"/>
<circle cx="262.07" cy="197.04" r="1.1" fill="#1f4d26"/>
<circle cx="262.56" cy="200.68" r="1.1" fill="#1f4d26"/>
<circle cx="263.55" cy="194.82" r="1.1" fill="#1f4d26"/>
<circle cx="264.05" cy="195.31" r="1.1" fill="#1f4d26"/>
<circle cx="264.54" cy="196.65" r="1.1" fill="#1f4d26"/>
<circle cx="265.03" cy="199.54" r="1.1" fill="#1f4d26"/>
<circle cx="265.53" cy="203.56" r="1.1" fill="#1f4d26"/>
<circle cx="267.01" cy="196.65" r="1.1" fill="#1f4d26"/>
<circle cx="268.5" cy="193.78" r="1.1" fill="#1f4d26"/>
<circle cx="268.99" cy="199.65" r="1.1" fill="#1f4d26"/>
<circle cx="270.47" cy="197.13" r="1.1" fill="#1f4d26"/>
<circle cx="271.46" cy="201.66" r="1.1" fill="#1f4d26"/>
<circle cx="272.95" cy="196.89" r="1.1" fill="#1f4d26"/>
<circle cx="273.44" cy="201.44" r="1.1" fill="#1f4d26"/>
<circle cx="273.94" cy="199.6" r="1.1" fill="#1f4d26"/>
<circle cx="274.43" cy="197.07" r="1.1" fill="#1f4d26"/>
<circle cx="274.93" cy="196.9" r="1.1" fill="#1f4d26"/>
<circle cx="275.42" cy="197.01" r="1.1" fill="#1f4d26"/>
<circle cx="275.91" cy="196.33" r="1.1" fill="#1f4d26"/>
<circle cx="276.41" cy="200.06" r="1.1" fill="#1f4d26"/>
<circle cx="279.87" cy="192.82" r="1.1" fill="#1f4d26"/>
<circle cx="282.34" cy="196.66" r="1.1" fill="#1f4d26"/>
<circle cx="282.84" cy="197.25" r="1.1" fill="#1f4d26"/>
<circle cx="283.83" cy="195.81" r="1.1" fill="#1f4d26"/>
<circle cx="284.32" cy="196.63" r="1.1" fill="#1f4d26"/>
<circle cx="286.3" cy="197.27" r="1.1" fill="#1f4d26"/>
<circle cx="286.79" cy="194.71" r="1.1" fill="#1f4d26"/>
<circle cx="287.29" cy="194.49" r="1.1" fill="#1f4d26"/>
<circle cx="289.76" cy="200.33" r="1.1" fill="#1f4d26"/>
<circle cx="290.26" cy="195.4" r="1.1" fill="#1f4d26"/>
<circle cx="290.75" cy="199.89" r="1.1" fill="#1f4d26"/>
<circle cx="292.73" cy="192.71" r="1.1" fill="#1f4d26"/>
<circle cx="293.22" cy="201.29" r="1.1" fill="#1f4d26"/>
<circle cx="293.72" cy="200.42" r="1.1" fill="#1f4d26"/>
<circle cx="295.7" cy="195.1" r="1.1" fill="#1f4d26"/>
<circle cx="296.19" cy="197.34" r="1.1" fill="#1f4d26"/>
<circle cx="296.68" cy="199.33" r="1.1" fill="#1f4d26"/>
<circle cx="297.67" cy="203.09" r="1.1" fill="#1f4d26"/>
<circle cx="298.17" cy="200.01" r="1.1" fill="#1f4d26"/>
<circle cx="298.66" cy="192.68" r="1.1" fill="#1f4d26"/>
<circle cx="299.16" cy="202.2" r="1.1" fill="#1f4d26"/>
<circle cx="299.65" cy="197.33" r="1.1" fill="#1f4d26"/>
<circle cx="301.14" cy="195.56" r="1.1" fill="#1f4d26"/>
<circle cx="301.63" cy="196.85" r="1.1" fill="#1f4d26"/>
<circle cx="302.62" cy="200.07" r="1.1" fill="#1f4d26"/>
<circle cx="303.11" cy="199.43" r="1.1" fill="#1f4d26"/>
<circle cx="303.61" cy="199.94" r="1.1" fill="#1f4d26"/>
<circle cx="304.1" cy="201.31" r="1.1" fill="#1f4d26"/>
<circle cx="304.6" cy="196.43" r="1.1" fill="#1f4d26"/>
<circle cx="305.09" cy="203.7" r="1.1" fill="#1f4d26"/>
<circle cx="306.08" cy="199.8" r="1.1" fill="#1f4d26"/>
<circle cx="307.07" cy="199.66" r="1.1" fill="#1f4d26"/>
<circle cx="308.06" cy="199.27" r="1.1" fill="#1f4d26"/>
<circle cx="309.05" cy="196.77" r="1.1" fill="#1f4d26"/>
<circle cx="309.54" cy="199.35" r="1.1" fill="#1f4d26"/>
<circle cx="310.04" cy="195.35" r="1.1" fill="#1f4d26"/>
<circle cx="312.02" cy="201.63" r="1.1" fill="#1f4d26"/>
<circle cx="313" cy="196.31" r="1.1" fill="#1f4d26"/>
<circle cx="313.5" cy="196.73" r="1.1" fill="#1f4d26"/>
<circle cx="313.99" cy="194.69" r="1.1" fill="#1f4d26"/>
<circle cx="314.98" cy="196.03" r="1.1" fill="#1f4d26"/>
<circle cx="315.97" cy="200.56" r="1.1" fill="#1f4d26"/>
<circle cx="316.47" cy="201.92" r="1.1" fill="#1f4d26"/>
<circle cx="319.43" cy="196.8" r="1.1" fill="#1f4d26"/>
<circle cx="319.93" cy="202.24" r="1.1" fill="#1f4d26"/>
<circle cx="320.92" cy="199.28" r="1.1" fill="#1f4d26"/>
<circle cx="321.41" cy="199.41" r="1.1" fill="#1f4d26"/>
<circle cx="321.91" cy="192.84" r="1.1" fill="#1f4d26"/>
<circle cx="323.39" cy="196.94" r="1.1" fill="#1f4d26"/>
<circle cx="324.87" cy="201.5" r="1.1" fill="#1f4d26"/>
<circle cx="325.37" cy="195.1" r="1.1" fill="#1f4d26"/>
<circle cx="325.86" cy="196.71" r="1.1" fill="#1f4d26"/>
<circle cx="327.84" cy="192.03" r="1.1" fill="#1f4d26"/>
<circle cx="328.33" cy="197.28" r="1.1" fill="#1f4d26"/>
<circle cx="328.83" cy="202.43" r="1.1" fill="#1f4d26"/>
<circle cx="329.32" cy="196.09" r="1.1" fill="#1f4d26"/>
<circle cx="329.82" cy="194.7" r="1.1" fill="#1f4d26"/>
<circle cx="331.8" cy="202.87" r="1.1" fill="#1f4d26"/>
<circle cx="332.29" cy="197.04" r="1.1" fill="#1f4d26"/>
<circle cx="332.79" cy="196.96" r="1.1" fill="#1f4d26"/>
<circle cx="333.77" cy="195.25" r="1.1" fill="#1f4d26"/>
<circle cx="334.76" cy="196.28" r="1.1" fill="#1f4d26"/>
<circle cx="336.74" cy="194.72" r="1.1" fill="#1f4d26"/>
<circle cx="338.23" cy="203.84" r="1.1" fill="#1f4d26"/>
<circle cx="338.72" cy="196.21" r="1.1" fill="#1f4d26"/>
<circle cx="339.71" cy="201.13" r="1.1" fill="#1f4d26"/>
<circle cx="340.7" cy="196.25" r="1.1" fill="#1f4d26"/>
<circle cx="341.19" cy="195.06" r="1.1" fill="#1f4d26"/>
<circle cx="345.64" cy="195.5" r="1.1" fill="#1f4d26"/>
<circle cx="346.14" cy="195.57" r="1.1" fill="#1f4d26"/>
<circle cx="347.13" cy="199.63" r="1.1" fill="#1f4d26"/>
<circle cx="347.62" cy="199.61" r="1.1" fill="#1f4d26"/>
<circle cx="348.61" cy="199.89" r="1.1" fill="#1f4d26"/>
<circle cx="350.09" cy="200.03" r="1.1" fill="#1f4d26"/>
<circle cx="353.06" cy="195.62" r="1.1" fill="#1f4d26"/>
<circle cx="353.56" cy="192.83" r="1.1" fill="#1f4d26"/>
<circle cx="354.54" cy="196.86" r="1.1" fill="#1f4d26"/>
<circle cx="355.04" cy="196.62" r="1.1" fill="#1f4d26"/>
<circle cx="356.52" cy="195.39" r="1.1" fill="#1f4d26"/>
<circle cx="357.51" cy="205.26" r="1.1" fill="#1f4d26"/>
<circle cx="358.01" cy="196" r="1.1" fill="#1f4d26"/>
<circle cx="358.5" cy="197.3" r="1.1" fill="#1f4d26"/>
<circle cx="359" cy="196.96" r="1.1" fill="#1f4d26"/>
<circle cx="359.98" cy="201.1" r="1.1" fill="#1f4d26"/>
<circle cx="361.47" cy="199.62" r="1.1" fill="#1f4d26"/>
<circle cx="361.96" cy="200.4" r="1.1" fill="#1f4d26"/>
<circle cx="363.45" cy="199.58" r="1.1" fill="#1f4d26"/>
<circle cx="365.92" cy="200.11" r="1.1" fill="#1f4d26"/>
<circle cx="366.91" cy="195.09" r="1.1" fill="#1f4d26"/>
<circle cx="368.39" cy="196.99" r="1.1" fill="#1f4d26"/>
<circle cx="368.89" cy="196.75" r="1.1" fill="#1f4d26"/>
<circle cx="370.37" cy="199.82" r="1.1" fill="#1f4d26"/>
<circle cx="371.36" cy="196.8" r="1.1" fill="#1f4d26"/>
<circle cx="373.34" cy="202.8" r="1.1" fill="#1f4d26"/>
<circle cx="375.31" cy="199.91" r="1.1" fill="#1f4d26"/>
<circle cx="375.81" cy="200.14" r="1.1" fill="#1f4d26"/>
<circle cx="376.3" cy="200.59" r="1.1" fill="#1f4d26"/>
<circle cx="376.8" cy="201.37" r="1.1" fill="#1f4d26"/>
<circle cx="378.28" cy="201.88" r="1.1" fill="#1f4d26"/>
<circle cx="379.27" cy="203.98" r="1.1" fill="#1f4d26"/>
<circle cx="380.75" cy="196.64" r="1.1" fill="#1f4d26"/>
<circle cx="383.72" cy="199.54" r="1.1" fill="#1f4d26"/>
<circle cx="384.71" cy="197.15" r="1.1" fill="#1f4d26"/>
<circle cx="385.7" cy="202.78" r="1.1" fill="#1f4d26"/>
<line x1="225.1" y1="198.3" x2="225.1" y2="166.6" stroke="#9a5a48" stroke-width="0.9"/>
<circle cx="225.1" cy="166.6" r="1.0" fill="#2b3d2b"/>
<line x1="229.5" y1="198.3" x2="229.5" y2="158.6" stroke="#9a5a48" stroke-width="0.9"/>
<circle cx="229.5" cy="158.6" r="1.0" fill="#2b3d2b"/>
<line x1="236.7" y1="198.3" x2="236.7" y2="238.3" stroke="#9a5a48" stroke-width="0.9"/>
<circle cx="236.7" cy="238.3" r="1.0" fill="#2b3d2b"/>
<line x1="241.5" y1="198.3" x2="241.5" y2="215.3" stroke="#9a5a48" stroke-width="0.9"/>
<circle cx="241.5" cy="215.3" r="1.0" fill="#2b3d2b"/>
<line x1="241.5" y1="198.3" x2="241.5" y2="187.6" stroke="#2e7438" stroke-width="0.9"/>
<circle cx="241.5" cy="187.6" r="1.0" fill="#2b3d2b"/>
<line x1="247.6" y1="198.3" x2="247.6" y2="211" stroke="#2e7438" stroke-width="0.9"/>
<circle cx="247.6" cy="211" r="1.0" fill="#2b3d2b"/>
<line x1="264.4" y1="198.3" x2="264.4" y2="180.2" stroke="#9a5a48" stroke-width="0.9"/>
<circle cx="264.4" cy="180.2" r="1.0" fill="#2b3d2b"/>
<line x1="269.6" y1="198.3" x2="269.6" y2="246.7" stroke="#9a5a48" stroke-width="0.9"/>
<circle cx="269.6" cy="246.7" r="1.0" fill="#2b3d2b"/>
<line x1="286.4" y1="198.3" x2="286.4" y2="149.4" stroke="#9a5a48" stroke-width="0.9"/>
<circle cx="286.4" cy="149.4" r="1.0" fill="#2b3d2b"/>
<line x1="292.7" y1="198.3" x2="292.7" y2="185" stroke="#9a5a48" stroke-width="0.9"/>
<circle cx="292.7" cy="185" r="1.0" fill="#2b3d2b"/>
<line x1="287.4" y1="198.3" x2="287.4" y2="210.7" stroke="#2e7438" stroke-width="0.9"/>
<circle cx="287.4" cy="210.7" r="1.0" fill="#2b3d2b"/>
<line x1="304.8" y1="198.3" x2="304.8" y2="212.8" stroke="#9a5a48" stroke-width="0.9"/>
<circle cx="304.8" cy="212.8" r="1.0" fill="#2b3d2b"/>
<line x1="281" y1="198.3" x2="281" y2="207" stroke="#2e7438" stroke-width="0.9"/>
<circle cx="281" cy="207" r="1.0" fill="#2b3d2b"/>
<line x1="261.3" y1="198.3" x2="261.3" y2="204.9" stroke="#2e7438" stroke-width="0.9"/>
<circle cx="261.3" cy="204.9" r="1.0" fill="#2b3d2b"/>
<line x1="300" y1="198.3" x2="300" y2="191" stroke="#2e7438" stroke-width="0.9"/>
<circle cx="300" cy="191" r="1.0" fill="#2b3d2b"/>
<line x1="331.9" y1="198.3" x2="331.9" y2="178.7" stroke="#9a5a48" stroke-width="0.9"/>
<circle cx="331.9" cy="178.7" r="1.0" fill="#2b3d2b"/>
<line x1="342.2" y1="198.3" x2="342.2" y2="155.7" stroke="#9a5a48" stroke-width="0.9"/>
<circle cx="342.2" cy="155.7" r="1.0" fill="#2b3d2b"/>
<line x1="341.3" y1="198.3" x2="341.3" y2="187" stroke="#9a5a48" stroke-width="0.9"/>
<circle cx="341.3" cy="187" r="1.0" fill="#2b3d2b"/>
<line x1="351.8" y1="198.3" x2="351.8" y2="185.6" stroke="#9a5a48" stroke-width="0.9"/>
<circle cx="351.8" cy="185.6" r="1.0" fill="#2b3d2b"/>
<line x1="350" y1="198.3" x2="350" y2="189" stroke="#9a5a48" stroke-width="0.9"/>
<circle cx="350" cy="189" r="1.0" fill="#2b3d2b"/>
<line x1="362.2" y1="198.3" x2="362.2" y2="224.7" stroke="#9a5a48" stroke-width="0.9"/>
<circle cx="362.2" cy="224.7" r="1.0" fill="#2b3d2b"/>
<line x1="365.4" y1="198.3" x2="365.4" y2="232" stroke="#9a5a48" stroke-width="0.9"/>
<circle cx="365.4" cy="232" r="1.0" fill="#2b3d2b"/>
<line x1="367.3" y1="198.3" x2="367.3" y2="172" stroke="#9a5a48" stroke-width="0.9"/>
<circle cx="367.3" cy="172" r="1.0" fill="#2b3d2b"/>
<line x1="374.6" y1="198.3" x2="374.6" y2="184.6" stroke="#9a5a48" stroke-width="0.9"/>
<circle cx="374.6" cy="184.6" r="1.0" fill="#2b3d2b"/>
<line x1="382.5" y1="198.3" x2="382.5" y2="167.2" stroke="#9a5a48" stroke-width="0.9"/>
<circle cx="382.5" cy="167.2" r="1.0" fill="#2b3d2b"/>
<line x1="385.7" y1="198.3" x2="385.7" y2="202.8" stroke="#2e7438" stroke-width="0.9"/>
<circle cx="385.7" cy="202.8" r="1.0" fill="#2b3d2b"/>
<line x1="379.5" y1="149.4" x2="379.5" y2="246.7" stroke="#c8c8da" stroke-width="1"/>
<line x1="379.5" y1="149.4" x2="379.5" y2="246.7" stroke="#7c7ca8" stroke-width="1" stroke-dasharray="1,1"/>
<line x1="385.5" y1="149.4" x2="385.5" y2="246.7" stroke="#c8c8da" stroke-width="1"/>
<line x1="385.5" y1="149.4" x2="385.5" y2="246.7" stroke="#7c7ca8" stroke-width="1" stroke-dasharray="1,1"/>
<rect x="215.4" y="145.1" width="178.5" height="106.25" fill="none" stroke="#a2a2a2" stroke-width="1.1"/>
<rect x="347.5" y="145.5" width="45.3" height="12.5" fill="#fff" fill-opacity="0.85" stroke="#dcdcdc" stroke-width="0.6" rx="0.6"/>
<line x1="349.1" y1="148.8" x2="357.2" y2="148.8" stroke="#6668b4" stroke-width="0.9" stroke-dasharray="1.2,0.8"/>
<line x1="349.1" y1="154.2" x2="357.2" y2="154.2" stroke="#dccf78" stroke-width="0.9" stroke-dasharray="1.2,0.8"/>
<text x="359" y="150.1" class="t" font-size="3.6">2021-7-5 15:17</text>
<text x="359" y="155.5" class="t" font-size="3.58">anomalous volumes</text>
<text x="304.65" y="142.85" class="t" font-size="4.3" text-anchor="middle">NEBL_2021-7-5 15:17</text>
<line x1="213.6" y1="152.4" x2="215.4" y2="152.4" stroke="#a2a2a2" stroke-width="0.7"/>
<text x="213.2" y="154.3" class="t" font-size="3.9" text-anchor="end">0.3</text>
<line x1="213.6" y1="167" x2="215.4" y2="167" stroke="#a2a2a2" stroke-width="0.7"/>
<text x="213.2" y="168.9" class="t" font-size="3.9" text-anchor="end">0.2</text>
<line x1="213.6" y1="182.3" x2="215.4" y2="182.3" stroke="#a2a2a2" stroke-width="0.7"/>
<text x="213.2" y="184.2" class="t" font-size="3.9" text-anchor="end">0.1</text>
<line x1="213.6" y1="198" x2="215.4" y2="198" stroke="#a2a2a2" stroke-width="0.7"/>
<text x="213.2" y="199.9" class="t" font-size="3.9" text-anchor="end">0.0</text>
<line x1="213.6" y1="213.9" x2="215.4" y2="213.9" stroke="#a2a2a2" stroke-width="0.7"/>
<text x="213.2" y="215.8" class="t" font-size="3.9" text-anchor="end">−0.1</text>
<line x1="213.6" y1="228.8" x2="215.4" y2="228.8" stroke="#a2a2a2" stroke-width="0.7"/>
<text x="213.2" y="230.7" class="t" font-size="3.9" text-anchor="end">−0.2</text>
<line x1="213.6" y1="244.1" x2="215.4" y2="244.1" stroke="#a2a2a2" stroke-width="0.7"/>
<text x="213.2" y="246" class="t" font-size="3.9" text-anchor="end">−0.3</text>
<text x="0" y="0" class="t" font-size="3.75" text-anchor="middle" transform="translate(203.6,198.22) rotate(-90)">bis_volume</text>
<line x1="223.1" y1="251.35" x2="223.1" y2="252.75" stroke="#a2a2a2" stroke-width="0.5"/>
<text class="k" transform="translate(224.05,254.15) rotate(-90)" text-anchor="end">10</text>
<text class="k" transform="translate(224.05,259.25) rotate(-90)" text-anchor="end">04</text>
<line x1="226.3" y1="251.35" x2="226.3" y2="252.75" stroke="#a2a2a2" stroke-width="0.5"/>
<text class="k" transform="translate(227.25,254.15) rotate(-90)" text-anchor="end">22</text>
<text class="k" transform="translate(227.25,259.25) rotate(-90)" text-anchor="end">23</text>
<line x1="235.7" y1="251.35" x2="235.7" y2="252.75" stroke="#a2a2a2" stroke-width="0.5"/>
<text class="k" transform="translate(236.65,254.15) rotate(-90)" text-anchor="end">12</text>
<text class="k" transform="translate(236.65,259.25) rotate(-90)" text-anchor="end">12</text>
<line x1="243.8" y1="251.35" x2="243.8" y2="252.75" stroke="#a2a2a2" stroke-width="0.5"/>
<text class="k" transform="translate(244.75,254.15) rotate(-90)" text-anchor="end">19</text>
<text class="k" transform="translate(244.75,259.25) rotate(-90)" text-anchor="end">04</text>
<line x1="250.7" y1="251.35" x2="250.7" y2="252.75" stroke="#a2a2a2" stroke-width="0.5"/>
<text class="k" transform="translate(251.65,254.15) rotate(-90)" text-anchor="end">57</text>
<text class="k" transform="translate(251.65,259.25) rotate(-90)" text-anchor="end">20</text>
<line x1="257.6" y1="251.35" x2="257.6" y2="252.75" stroke="#a2a2a2" stroke-width="0.5"/>
<text class="k" transform="translate(258.55,254.15) rotate(-90)" text-anchor="end">01</text>
<text class="k" transform="translate(258.55,259.25) rotate(-90)" text-anchor="end">01</text>
<line x1="264.5" y1="251.35" x2="264.5" y2="252.75" stroke="#a2a2a2" stroke-width="0.5"/>
<text class="k" transform="translate(265.45,254.15) rotate(-90)" text-anchor="end">50</text>
<text class="k" transform="translate(265.45,259.25) rotate(-90)" text-anchor="end">13</text>
<line x1="271.4" y1="251.35" x2="271.4" y2="252.75" stroke="#a2a2a2" stroke-width="0.5"/>
<text class="k" transform="translate(272.35,254.15) rotate(-90)" text-anchor="end">44</text>
<text class="k" transform="translate(272.35,259.25) rotate(-90)" text-anchor="end">03</text>
<line x1="278" y1="251.35" x2="278" y2="252.75" stroke="#a2a2a2" stroke-width="0.5"/>
<text class="k" transform="translate(278.95,254.15) rotate(-90)" text-anchor="end">01</text>
<text class="k" transform="translate(278.95,259.25) rotate(-90)" text-anchor="end">26</text>
<line x1="284.8" y1="251.35" x2="284.8" y2="252.75" stroke="#a2a2a2" stroke-width="0.5"/>
<text class="k" transform="translate(285.75,254.15) rotate(-90)" text-anchor="end">02</text>
<text class="k" transform="translate(285.75,259.25) rotate(-90)" text-anchor="end">23</text>
<line x1="291.8" y1="251.35" x2="291.8" y2="252.75" stroke="#a2a2a2" stroke-width="0.5"/>
<text class="k" transform="translate(292.75,254.15) rotate(-90)" text-anchor="end">35</text>
<text class="k" transform="translate(292.75,259.25) rotate(-90)" text-anchor="end">23</text>
<line x1="298.3" y1="251.35" x2="298.3" y2="252.75" stroke="#a2a2a2" stroke-width="0.5"/>
<text class="k" transform="translate(299.25,254.15) rotate(-90)" text-anchor="end">57</text>
<text class="k" transform="translate(299.25,259.25) rotate(-90)" text-anchor="end">14</text>
<line x1="304.6" y1="251.35" x2="304.6" y2="252.75" stroke="#a2a2a2" stroke-width="0.5"/>
<text class="k" transform="translate(305.55,254.15) rotate(-90)" text-anchor="end">26</text>
<text class="k" transform="translate(305.55,259.25) rotate(-90)" text-anchor="end">23</text>
<line x1="310.2" y1="251.35" x2="310.2" y2="252.75" stroke="#a2a2a2" stroke-width="0.5"/>
<text class="k" transform="translate(311.15,254.15) rotate(-90)" text-anchor="end">02</text>
<text class="k" transform="translate(311.15,259.25) rotate(-90)" text-anchor="end">26</text>
<line x1="316.1" y1="251.35" x2="316.1" y2="252.75" stroke="#a2a2a2" stroke-width="0.5"/>
<text class="k" transform="translate(317.05,254.15) rotate(-90)" text-anchor="end">05</text>
<text class="k" transform="translate(317.05,259.25) rotate(-90)" text-anchor="end">24</text>
<line x1="322.4" y1="251.35" x2="322.4" y2="252.75" stroke="#a2a2a2" stroke-width="0.5"/>
<text class="k" transform="translate(323.35,254.15) rotate(-90)" text-anchor="end">41</text>
<text class="k" transform="translate(323.35,259.25) rotate(-90)" text-anchor="end">16</text>
<line x1="329.3" y1="251.35" x2="329.3" y2="252.75" stroke="#a2a2a2" stroke-width="0.5"/>
<text class="k" transform="translate(330.25,254.15) rotate(-90)" text-anchor="end">23</text>
<text class="k" transform="translate(330.25,259.25) rotate(-90)" text-anchor="end">26</text>
<line x1="336.2" y1="251.35" x2="336.2" y2="252.75" stroke="#a2a2a2" stroke-width="0.5"/>
<text class="k" transform="translate(337.15,254.15) rotate(-90)" text-anchor="end">48</text>
<text class="k" transform="translate(337.15,259.25) rotate(-90)" text-anchor="end">14</text>
<line x1="343.1" y1="251.35" x2="343.1" y2="252.75" stroke="#a2a2a2" stroke-width="0.5"/>
<text class="k" transform="translate(344.05,254.15) rotate(-90)" text-anchor="end">38</text>
<text class="k" transform="translate(344.05,259.25) rotate(-90)" text-anchor="end">13</text>
<line x1="349.4" y1="251.35" x2="349.4" y2="252.75" stroke="#a2a2a2" stroke-width="0.5"/>
<text class="k" transform="translate(350.35,254.15) rotate(-90)" text-anchor="end">30</text>
<text class="k" transform="translate(350.35,259.25) rotate(-90)" text-anchor="end">22</text>
<line x1="356.3" y1="251.35" x2="356.3" y2="252.75" stroke="#a2a2a2" stroke-width="0.5"/>
<text class="k" transform="translate(357.25,254.15) rotate(-90)" text-anchor="end">53</text>
<text class="k" transform="translate(357.25,259.25) rotate(-90)" text-anchor="end">08</text>
<line x1="363.2" y1="251.35" x2="363.2" y2="252.75" stroke="#a2a2a2" stroke-width="0.5"/>
<text class="k" transform="translate(364.15,254.15) rotate(-90)" text-anchor="end">26</text>
<text class="k" transform="translate(364.15,259.25) rotate(-90)" text-anchor="end">26</text>
<line x1="370" y1="251.35" x2="370" y2="252.75" stroke="#a2a2a2" stroke-width="0.5"/>
<text class="k" transform="translate(370.95,254.15) rotate(-90)" text-anchor="end">41</text>
<text class="k" transform="translate(370.95,259.25) rotate(-90)" text-anchor="end">09</text>
<line x1="376.5" y1="251.35" x2="376.5" y2="252.75" stroke="#a2a2a2" stroke-width="0.5"/>
<text class="k" transform="translate(377.45,254.15) rotate(-90)" text-anchor="end">45</text>
<text class="k" transform="translate(377.45,259.25) rotate(-90)" text-anchor="end">28</text>
<line x1="383.6" y1="251.35" x2="383.6" y2="252.75" stroke="#a2a2a2" stroke-width="0.5"/>
<text class="k" transform="translate(384.55,254.15) rotate(-90)" text-anchor="end">31</text>
<text class="k" transform="translate(384.55,259.25) rotate(-90)" text-anchor="end">04</text>
<line x1="378.3" y1="251.35" x2="378.3" y2="252.75" stroke="#a2a2a2" stroke-width="0.5"/>
<text class="k" transform="translate(379.25,254.15) rotate(-90)" text-anchor="end">16</text>
<text class="k" transform="translate(379.25,259.25) rotate(-90)" text-anchor="end">26</text>
<text class="k" transform="translate(379.25,264.55) rotate(-90)" text-anchor="end">54</text>
<line x1="385.1" y1="251.35" x2="385.1" y2="252.75" stroke="#a2a2a2" stroke-width="0.5"/>
<text class="k" transform="translate(386.05,254.15) rotate(-90)" text-anchor="end">58</text>
<text class="k" transform="translate(386.05,259.25) rotate(-90)" text-anchor="end">10</text>
<text class="k" transform="translate(386.05,264.55) rotate(-90)" text-anchor="end">04</text>
<text x="304.65" y="272.75" class="t" font-size="3.7" text-anchor="middle">datetime</text>
<rect x="23" y="314.3" width="164.7" height="16" fill="#e4f7f1"/>
<rect x="32.7" y="285.4" width="8" height="38.9" fill="#fdf4f7"/>
<rect x="35.3" y="302.5" width="8" height="21.8" fill="#fdf4f7"/>
<rect x="35.3" y="320.3" width="8" height="24.8" fill="#fdf4f7"/>
<rect x="36.4" y="320.3" width="8" height="24.4" fill="#fdf4f7"/>
<rect x="81.3" y="300" width="8" height="24.3" fill="#fdf4f7"/>
<rect x="107.9" y="306.2" width="8" height="18.1" fill="#fdf4f7"/>
<rect x="114.2" y="320.3" width="8" height="23.4" fill="#fdf4f7"/>
<rect x="140.5" y="289.5" width="8" height="34.8" fill="#fdf4f7"/>
<rect x="135.2" y="320.3" width="8" height="20.9" fill="#fdf4f7"/>
<rect x="168.7" y="288.5" width="8" height="35.8" fill="#fdf4f7"/>
<rect x="168.7" y="320.3" width="8" height="65.9" fill="#fdf4f7"/>
<rect x="171.2" y="288.5" width="8" height="35.8" fill="#fdf4f7"/>
<rect x="173.3" y="295.8" width="8" height="28.5" fill="#fdf4f7"/>
<rect x="182.1" y="291" width="8" height="33.3" fill="#fdf4f7"/>
<rect x="182.1" y="320.3" width="8" height="53.7" fill="#fdf4f7"/>
<line x1="24" y1="306.7" x2="186.7" y2="306.7" stroke="#e0d8a6" stroke-width="1" stroke-dasharray="3,0.7"/>
<line x1="24" y1="338.8" x2="186.7" y2="338.8" stroke="#e0d8a6" stroke-width="1" stroke-dasharray="3,0.7"/>
<line x1="24" y1="322.3" x2="186.7" y2="322.3" stroke="#2e6a36" stroke-width="2.2"/>
<polyline points="24,322.97 24.54,319.49 25.09,322.05 25.63,318.06 26.18,323.25 26.72,322.12 27.26,321.57 27.81,321.35 28.35,321.93 28.9,323.05 29.44,321.57 29.99,322.46 30.53,321.3 31.07,322.18 31.62,322.52 32.16,321.9 32.71,321.21 33.25,328.3 33.79,323.16 34.34,322.53 34.88,321.41 35.43,321.32 35.97,321.62 36.52,322.28 37.06,324.1 37.6,325.14 38.15,326.69 38.69,322.57 39.24,319.53 39.78,321.64 40.32,321.37 40.87,322.09 41.41,321.89 41.96,321.19 42.5,321.58 43.05,322.21 43.59,323.62 44.13,323.23 44.68,322.05 45.22,322.38 45.77,322.62 46.31,321.54 46.85,323.13 47.4,322.08 47.94,321.69 48.49,320.76 49.03,322.41 49.57,323.21 50.12,322.32 50.66,326.6 51.21,324.98 51.75,323.26 52.3,322.33 52.84,322.7 53.38,324.61 53.93,321.79 54.47,322.96 55.02,322.07 55.56,319.28 56.1,323.01 56.65,322.56 57.19,322.11 57.74,322.87 58.28,320.95 58.83,322.17 59.37,322.36 59.91,322.67 60.46,322.65 61,321.98 61.55,323.15 62.09,321.18 62.63,322.41 63.18,321.56 63.72,323.11 64.27,324.05 64.81,322.6 65.36,320.86 65.9,323.01 66.44,321.98 66.99,322 67.53,321.15 68.08,322.13 68.62,322.63 69.16,321.26 69.71,324.31 70.25,321.29 70.8,322.57 71.34,323.71 71.88,322.96 72.43,325.04 72.97,322 73.52,321.38 74.06,322.28 74.61,322.37 75.15,322.15 75.69,322.26 76.24,322.32 76.78,322.92 77.33,323.02 77.87,321.02 78.41,322.84 78.96,322.79 79.5,321.67 80.05,322.42 80.59,322.91 81.14,322.53 81.68,322.38 82.22,322.13 82.77,322.68 83.31,321.32 83.86,322.94 84.4,321.4 84.94,322.41 85.49,322.77 86.03,316.53 86.58,322.21 87.12,322.34 87.67,320.86 88.21,322.78 88.75,322.06 89.3,322.53 89.84,322.63 90.39,323.96 90.93,320.78 91.47,323.32 92.02,322.34 92.56,316.68 93.11,326.51 93.65,322.65 94.19,325.19 94.74,321.33 95.28,326.72 95.83,323.01 96.37,322.42 96.92,321.38 97.46,321.09 98,322.83 98.55,322.09 99.09,325.63 99.64,322.11 100.18,322.68 100.72,322.51 101.27,321.01 101.81,321.85 102.36,322.38 102.9,321.31 103.45,321.92 103.99,322.1 104.53,322.46 105.08,324.2 105.62,322.58 106.17,322.5 106.71,321.42 107.25,322.77 107.8,323.12 108.34,322.71 108.89,322.24 109.43,321.48 109.98,322.22 110.52,320.26 111.06,321.93 111.61,323 112.15,322.91 112.7,322.75 113.24,322.92 113.78,322.92 114.33,324.07 114.87,322.56 115.42,324.46 115.96,322.62 116.51,322.05 117.05,323.79 117.59,322.67 118.14,322.39 118.68,323.04 119.23,321.94 119.77,322.1 120.31,323.47 120.86,323.27 121.4,318.25 121.95,322.27 122.49,323.46 123.03,324.08 123.58,323.43 124.12,323.05 124.67,322.62 125.21,321.3 125.76,321.19 126.3,323.05 126.84,322.17 127.39,325.06 127.93,321.73 128.48,321.88 129.02,321.2 129.56,321.52 130.11,322.75 130.65,322.49 131.2,321.51 131.74,322.49 132.29,321.86 132.83,323.22 133.37,323.03 133.92,321.78 134.46,323.01 135.01,322.73 135.55,321.96 136.09,322.27 136.64,321.71 137.18,321.93 137.73,321.66 138.27,322.69 138.82,323.22 139.36,320.11 139.9,321.76 140.45,322 140.99,322.77 141.54,323.65 142.08,324.53 142.62,322.75 143.17,323 143.71,322.31 144.26,322.16 144.8,322.7 145.34,321.83 145.89,321.74 146.43,322.06 146.98,321.68 147.52,320.63 148.07,322.12 148.61,321.08 149.15,319.26 149.7,323.43 150.24,321.51 150.79,322.35 151.33,321.87 151.87,325.03 152.42,322.71 152.96,323.85 153.51,321.96 154.05,321.9 154.6,321.68 155.14,321.76 155.68,322.47 156.23,323.52 156.77,322.99 157.32,322.27 157.86,321.76 158.4,321.26 158.95,322.53 159.49,322.16 160.04,320.98 160.58,325.12 161.13,321.76 161.67,321.41 162.21,322.27 162.76,321.55 163.3,321.89 163.85,321.2 164.39,322.9 164.93,321.09 165.48,322.59 166.02,323.11 166.57,321.53 167.11,322.92 167.65,323.08 168.2,322.06 168.74,322.19 169.29,323.89 169.83,322.72 170.38,322.48 170.92,318.09 171.46,321.49 172.01,322.18 172.55,322.89 173.1,322.51 173.64,322.36 174.18,322.73 174.73,322.75 175.27,321.15 175.82,320.53 176.36,322.85 176.91,323.05 177.45,322 177.99,323.08 178.54,322.33 179.08,321.32 179.63,322.43 180.17,323.71 180.71,323.15 181.26,322.94 181.8,321.88 182.35,322.4 182.89,322.41 183.44,321.44 183.98,322.69 184.52,322.84 185.07,322.44 185.61,321.97 186.16,321.92 186.7,323.54" fill="none" stroke="#2e6a36" stroke-width="0.5" stroke-linejoin="round"/>
<circle cx="24" cy="322.97" r="1.1" fill="#1f4d26"/>
<circle cx="24.54" cy="319.49" r="1.1" fill="#1f4d26"/>
<circle cx="25.63" cy="318.06" r="1.1" fill="#1f4d26"/>
<circle cx="26.18" cy="323.25" r="1.1" fill="#1f4d26"/>
<circle cx="27.26" cy="321.57" r="1.1" fill="#1f4d26"/>
<circle cx="27.81" cy="321.35" r="1.1" fill="#1f4d26"/>
<circle cx="28.9" cy="323.05" r="1.1" fill="#1f4d26"/>
<circle cx="29.44" cy="321.57" r="1.1" fill="#1f4d26"/>
<circle cx="30.53" cy="321.3" r="1.1" fill="#1f4d26"/>
<circle cx="32.71" cy="321.21" r="1.1" fill="#1f4d26"/>
<circle cx="33.25" cy="328.3" r="1.1" fill="#1f4d26"/>
<circle cx="33.79" cy="323.16" r="1.1" fill="#1f4d26"/>
<circle cx="34.88" cy="321.41" r="1.1" fill="#1f4d26"/>
<circle cx="35.43" cy="321.32" r="1.1" fill="#1f4d26"/>
<circle cx="35.97" cy="321.62" r="1.1" fill="#1f4d26"/>
<circle cx="37.06" cy="324.1" r="1.1" fill="#1f4d26"/>
<circle cx="37.6" cy="325.14" r="1.1" fill="#1f4d26"/>
<circle cx="38.15" cy="326.69" r="1.1" fill="#1f4d26"/>
<circle cx="39.24" cy="319.53" r="1.1" fill="#1f4d26"/>
<circle cx="40.32" cy="321.37" r="1.1" fill="#1f4d26"/>
<circle cx="41.96" cy="321.19" r="1.1" fill="#1f4d26"/>
<circle cx="42.5" cy="321.58" r="1.1" fill="#1f4d26"/>
<circle cx="43.59" cy="323.62" r="1.1" fill="#1f4d26"/>
<circle cx="44.13" cy="323.23" r="1.1" fill="#1f4d26"/>
<circle cx="46.31" cy="321.54" r="1.1" fill="#1f4d26"/>
<circle cx="46.85" cy="323.13" r="1.1" fill="#1f4d26"/>
<circle cx="48.49" cy="320.76" r="1.1" fill="#1f4d26"/>
<circle cx="49.57" cy="323.21" r="1.1" fill="#1f4d26"/>
<circle cx="50.66" cy="326.6" r="1.1" fill="#1f4d26"/>
<circle cx="51.21" cy="324.98" r="1.1" fill="#1f4d26"/>
<circle cx="51.75" cy="323.26" r="1.1" fill="#1f4d26"/>
<circle cx="53.38" cy="324.61" r="1.1" fill="#1f4d26"/>
<circle cx="54.47" cy="322.96" r="1.1" fill="#1f4d26"/>
<circle cx="55.56" cy="319.28" r="1.1" fill="#1f4d26"/>
<circle cx="56.1" cy="323.01" r="1.1" fill="#1f4d26"/>
<circle cx="58.28" cy="320.95" r="1.1" fill="#1f4d26"/>
<circle cx="61.55" cy="323.15" r="1.1" fill="#1f4d26"/>
<circle cx="62.09" cy="321.18" r="1.1" fill="#1f4d26"/>
<circle cx="63.18" cy="321.56" r="1.1" fill="#1f4d26"/>
<circle cx="63.72" cy="323.11" r="1.1" fill="#1f4d26"/>
<circle cx="64.27" cy="324.05" r="1.1" fill="#1f4d26"/>
<circle cx="65.36" cy="320.86" r="1.1" fill="#1f4d26"/>
<circle cx="65.9" cy="323.01" r="1.1" fill="#1f4d26"/>
<circle cx="67.53" cy="321.15" r="1.1" fill="#1f4d26"/>
<circle cx="69.16" cy="321.26" r="1.1" fill="#1f4d26"/>
<circle cx="69.71" cy="324.31" r="1.1" fill="#1f4d26"/>
<circle cx="70.25" cy="321.29" r="1.1" fill="#1f4d26"/>
<circle cx="71.34" cy="323.71" r="1.1" fill="#1f4d26"/>
<circle cx="71.88" cy="322.96" r="1.1" fill="#1f4d26"/>
<circle cx="72.43" cy="325.04" r="1.1" fill="#1f4d26"/>
<circle cx="73.52" cy="321.38" r="1.1" fill="#1f4d26"/>
<circle cx="77.33" cy="323.02" r="1.1" fill="#1f4d26"/>
<circle cx="77.87" cy="321.02" r="1.1" fill="#1f4d26"/>
<circle cx="83.31" cy="321.32" r="1.1" fill="#1f4d26"/>
<circle cx="84.4" cy="321.4" r="1.1" fill="#1f4d26"/>
<circle cx="86.03" cy="316.53" r="1.1" fill="#1f4d26"/>
<circle cx="87.67" cy="320.86" r="1.1" fill="#1f4d26"/>
<circle cx="90.39" cy="323.96" r="1.1" fill="#1f4d26"/>
<circle cx="90.93" cy="320.78" r="1.1" fill="#1f4d26"/>
<circle cx="91.47" cy="323.32" r="1.1" fill="#1f4d26"/>
<circle cx="92.56" cy="316.68" r="1.1" fill="#1f4d26"/>
<circle cx="93.11" cy="326.51" r="1.1" fill="#1f4d26"/>
<circle cx="94.19" cy="325.19" r="1.1" fill="#1f4d26"/>
<circle cx="94.74" cy="321.33" r="1.1" fill="#1f4d26"/>
<circle cx="95.28" cy="326.72" r="1.1" fill="#1f4d26"/>
<circle cx="95.83" cy="323.01" r="1.1" fill="#1f4d26"/>
<circle cx="96.92" cy="321.38" r="1.1" fill="#1f4d26"/>
<circle cx="97.46" cy="321.09" r="1.1" fill="#1f4d26"/>
<circle cx="99.09" cy="325.63" r="1.1" fill="#1f4d26"/>
<circle cx="101.27" cy="321.01" r="1.1" fill="#1f4d26"/>
<circle cx="102.9" cy="321.31" r="1.1" fill="#1f4d26"/>
<circle cx="105.08" cy="324.2" r="1.1" fill="#1f4d26"/>
<circle cx="106.71" cy="321.42" r="1.1" fill="#1f4d26"/>
<circle cx="107.8" cy="323.12" r="1.1" fill="#1f4d26"/>
<circle cx="109.43" cy="321.48" r="1.1" fill="#1f4d26"/>
<circle cx="110.52" cy="320.26" r="1.1" fill="#1f4d26"/>
<circle cx="111.61" cy="323" r="1.1" fill="#1f4d26"/>
<circle cx="114.33" cy="324.07" r="1.1" fill="#1f4d26"/>
<circle cx="115.42" cy="324.46" r="1.1" fill="#1f4d26"/>
<circle cx="117.05" cy="323.79" r="1.1" fill="#1f4d26"/>
<circle cx="118.68" cy="323.04" r="1.1" fill="#1f4d26"/>
<circle cx="120.31" cy="323.47" r="1.1" fill="#1f4d26"/>
<circle cx="120.86" cy="323.27" r="1.1" fill="#1f4d26"/>
<circle cx="121.4" cy="318.25" r="1.1" fill="#1f4d26"/>
<circle cx="122.49" cy="323.46" r="1.1" fill="#1f4d26"/>
<circle cx="123.03" cy="324.08" r="1.1" fill="#1f4d26"/>
<circle cx="123.58" cy="323.43" r="1.1" fill="#1f4d26"/>
<circle cx="124.12" cy="323.05" r="1.1" fill="#1f4d26"/>
<circle cx="125.21" cy="321.3" r="1.1" fill="#1f4d26"/>
<circle cx="125.76" cy="321.19" r="1.1" fill="#1f4d26"/>
<circle cx="126.3" cy="323.05" r="1.1" fill="#1f4d26"/>
<circle cx="127.39" cy="325.06" r="1.1" fill="#1f4d26"/>
<circle cx="129.02" cy="321.2" r="1.1" fill="#1f4d26"/>
<circle cx="129.56" cy="321.52" r="1.1" fill="#1f4d26"/>
<circle cx="131.2" cy="321.51" r="1.1" fill="#1f4d26"/>
<circle cx="132.83" cy="323.22" r="1.1" fill="#1f4d26"/>
<circle cx="133.37" cy="323.03" r="1.1" fill="#1f4d26"/>
<circle cx="134.46" cy="323.01" r="1.1" fill="#1f4d26"/>
<circle cx="138.82" cy="323.22" r="1.1" fill="#1f4d26"/>
<circle cx="139.36" cy="320.11" r="1.1" fill="#1f4d26"/>
<circle cx="141.54" cy="323.65" r="1.1" fill="#1f4d26"/>
<circle cx="142.08" cy="324.53" r="1.1" fill="#1f4d26"/>
<circle cx="143.17" cy="323" r="1.1" fill="#1f4d26"/>
<circle cx="147.52" cy="320.63" r="1.1" fill="#1f4d26"/>
<circle cx="148.61" cy="321.08" r="1.1" fill="#1f4d26"/>
<circle cx="149.15" cy="319.26" r="1.1" fill="#1f4d26"/>
<circle cx="149.7" cy="323.43" r="1.1" fill="#1f4d26"/>
<circle cx="150.24" cy="321.51" r="1.1" fill="#1f4d26"/>
<circle cx="151.87" cy="325.03" r="1.1" fill="#1f4d26"/>
<circle cx="152.96" cy="323.85" r="1.1" fill="#1f4d26"/>
<circle cx="156.23" cy="323.52" r="1.1" fill="#1f4d26"/>
<circle cx="156.77" cy="322.99" r="1.1" fill="#1f4d26"/>
<circle cx="158.4" cy="321.26" r="1.1" fill="#1f4d26"/>
<circle cx="160.04" cy="320.98" r="1.1" fill="#1f4d26"/>
<circle cx="160.58" cy="325.12" r="1.1" fill="#1f4d26"/>
<circle cx="161.67" cy="321.41" r="1.1" fill="#1f4d26"/>
<circle cx="162.76" cy="321.55" r="1.1" fill="#1f4d26"/>
<circle cx="163.85" cy="321.2" r="1.1" fill="#1f4d26"/>
<circle cx="164.93" cy="321.09" r="1.1" fill="#1f4d26"/>
<circle cx="166.02" cy="323.11" r="1.1" fill="#1f4d26"/>
<circle cx="166.57" cy="321.53" r="1.1" fill="#1f4d26"/>
<circle cx="167.65" cy="323.08" r="1.1" fill="#1f4d26"/>
<circle cx="169.29" cy="323.89" r="1.1" fill="#1f4d26"/>
<circle cx="170.92" cy="318.09" r="1.1" fill="#1f4d26"/>
<circle cx="171.46" cy="321.49" r="1.1" fill="#1f4d26"/>
<circle cx="175.27" cy="321.15" r="1.1" fill="#1f4d26"/>
<circle cx="175.82" cy="320.53" r="1.1" fill="#1f4d26"/>
<circle cx="176.91" cy="323.05" r="1.1" fill="#1f4d26"/>
<circle cx="177.99" cy="323.08" r="1.1" fill="#1f4d26"/>
<circle cx="179.08" cy="321.32" r="1.1" fill="#1f4d26"/>
<circle cx="180.17" cy="323.71" r="1.1" fill="#1f4d26"/>
<circle cx="180.71" cy="323.15" r="1.1" fill="#1f4d26"/>
<circle cx="183.44" cy="321.44" r="1.1" fill="#1f4d26"/>
<circle cx="186.7" cy="323.54" r="1.1" fill="#1f4d26"/>
<line x1="28.4" y1="322.3" x2="28.4" y2="308.8" stroke="#2e6a36" stroke-width="0.9"/>
<circle cx="28.4" cy="308.8" r="1.0" fill="#2b3d2b"/>
<line x1="31.2" y1="322.3" x2="31.2" y2="338.3" stroke="#2e6a36" stroke-width="0.9"/>
<circle cx="31.2" cy="338.3" r="1.0" fill="#2b3d2b"/>
<line x1="36.7" y1="322.3" x2="36.7" y2="287.4" stroke="#9a5a48" stroke-width="0.9"/>
<circle cx="36.7" cy="287.4" r="1.0" fill="#2b3d2b"/>
<line x1="39.3" y1="322.3" x2="39.3" y2="304.5" stroke="#9a5a48" stroke-width="0.9"/>
<circle cx="39.3" cy="304.5" r="1.0" fill="#2b3d2b"/>
<line x1="39.3" y1="322.3" x2="39.3" y2="343.1" stroke="#9a5a48" stroke-width="0.9"/>
<circle cx="39.3" cy="343.1" r="1.0" fill="#2b3d2b"/>
<line x1="40.4" y1="322.3" x2="40.4" y2="342.7" stroke="#9a5a48" stroke-width="0.9"/>
<circle cx="40.4" cy="342.7" r="1.0" fill="#2b3d2b"/>
<line x1="32.8" y1="322.3" x2="32.8" y2="316.5" stroke="#2e6a36" stroke-width="0.9"/>
<circle cx="32.8" cy="316.5" r="1.0" fill="#2b3d2b"/>
<line x1="37.1" y1="322.3" x2="37.1" y2="316.5" stroke="#2e6a36" stroke-width="0.9"/>
<circle cx="37.1" cy="316.5" r="1.0" fill="#2b3d2b"/>
<line x1="69.6" y1="322.3" x2="69.6" y2="333.3" stroke="#2e6a36" stroke-width="0.9"/>
<circle cx="69.6" cy="333.3" r="1.0" fill="#2b3d2b"/>
<line x1="85.3" y1="322.3" x2="85.3" y2="302" stroke="#9a5a48" stroke-width="0.9"/>
<circle cx="85.3" cy="302" r="1.0" fill="#2b3d2b"/>
<line x1="86" y1="322.3" x2="86" y2="336" stroke="#2e6a36" stroke-width="0.9"/>
<circle cx="86" cy="336" r="1.0" fill="#2b3d2b"/>
<line x1="61.3" y1="322.3" x2="61.3" y2="327.7" stroke="#2e6a36" stroke-width="0.9"/>
<circle cx="61.3" cy="327.7" r="1.0" fill="#2b3d2b"/>
<line x1="104.2" y1="322.3" x2="104.2" y2="315.6" stroke="#2e6a36" stroke-width="0.9"/>
<circle cx="104.2" cy="315.6" r="1.0" fill="#2b3d2b"/>
<line x1="111.9" y1="322.3" x2="111.9" y2="308.2" stroke="#9a5a48" stroke-width="0.9"/>
<circle cx="111.9" cy="308.2" r="1.0" fill="#2b3d2b"/>
<line x1="118.2" y1="322.3" x2="118.2" y2="341.7" stroke="#ff3b52" stroke-width="0.9"/>
<circle cx="118.2" cy="341.7" r="1.0" fill="#2b3d2b"/>
<line x1="113.2" y1="322.3" x2="113.2" y2="330" stroke="#2e6a36" stroke-width="0.9"/>
<circle cx="113.2" cy="330" r="1.0" fill="#2b3d2b"/>
<line x1="127.2" y1="322.3" x2="127.2" y2="311.8" stroke="#2e6a36" stroke-width="0.9"/>
<circle cx="127.2" cy="311.8" r="1.0" fill="#2b3d2b"/>
<line x1="144.5" y1="322.3" x2="144.5" y2="291.5" stroke="#9a5a48" stroke-width="0.9"/>
<circle cx="144.5" cy="291.5" r="1.0" fill="#2b3d2b"/>
<line x1="139.2" y1="322.3" x2="139.2" y2="339.2" stroke="#9a5a48" stroke-width="0.9"/>
<circle cx="139.2" cy="339.2" r="1.0" fill="#2b3d2b"/>
<line x1="143.2" y1="322.3" x2="143.2" y2="332.3" stroke="#2e6a36" stroke-width="0.9"/>
<circle cx="143.2" cy="332.3" r="1.0" fill="#2b3d2b"/>
<line x1="150.5" y1="322.3" x2="150.5" y2="312.4" stroke="#2e6a36" stroke-width="0.9"/>
<circle cx="150.5" cy="312.4" r="1.0" fill="#2b3d2b"/>
<line x1="150.5" y1="322.3" x2="150.5" y2="330.2" stroke="#2e6a36" stroke-width="0.9"/>
<circle cx="150.5" cy="330.2" r="1.0" fill="#2b3d2b"/>
<line x1="154.3" y1="322.3" x2="154.3" y2="309.3" stroke="#2e6a36" stroke-width="0.9"/>
<circle cx="154.3" cy="309.3" r="1.0" fill="#2b3d2b"/>
<line x1="165.8" y1="322.3" x2="165.8" y2="336" stroke="#2e6a36" stroke-width="0.9"/>
<circle cx="165.8" cy="336" r="1.0" fill="#2b3d2b"/>
<line x1="172.7" y1="322.3" x2="172.7" y2="290.5" stroke="#9a5a48" stroke-width="0.9"/>
<circle cx="172.7" cy="290.5" r="1.0" fill="#2b3d2b"/>
<line x1="172.7" y1="322.3" x2="172.7" y2="384.2" stroke="#9a5a48" stroke-width="0.9"/>
<circle cx="172.7" cy="384.2" r="1.0" fill="#2b3d2b"/>
<line x1="175.2" y1="322.3" x2="175.2" y2="290.5" stroke="#9a5a48" stroke-width="0.9"/>
<circle cx="175.2" cy="290.5" r="1.0" fill="#2b3d2b"/>
<line x1="177.3" y1="322.3" x2="177.3" y2="297.8" stroke="#9a5a48" stroke-width="0.9"/>
<circle cx="177.3" cy="297.8" r="1.0" fill="#2b3d2b"/>
<line x1="175.8" y1="322.3" x2="175.8" y2="336.5" stroke="#2e6a36" stroke-width="0.9"/>
<circle cx="175.8" cy="336.5" r="1.0" fill="#2b3d2b"/>
<line x1="186.1" y1="322.3" x2="186.1" y2="293" stroke="#9a5a48" stroke-width="0.9"/>
<circle cx="186.1" cy="293" r="1.0" fill="#2b3d2b"/>
<line x1="186.1" y1="322.3" x2="186.1" y2="372" stroke="#9a5a48" stroke-width="0.9"/>
<circle cx="186.1" cy="372" r="1.0" fill="#2b3d2b"/>
<line x1="165.5" y1="287.4" x2="165.5" y2="384.2" stroke="#c8c8da" stroke-width="1"/>
<line x1="165.5" y1="287.4" x2="165.5" y2="384.2" stroke="#7c7ca8" stroke-width="1" stroke-dasharray="1,1"/>
<line x1="186.5" y1="287.4" x2="186.5" y2="384.2" stroke="#c8c8da" stroke-width="1"/>
<line x1="186.5" y1="287.4" x2="186.5" y2="384.2" stroke="#7c7ca8" stroke-width="1" stroke-dasharray="1,1"/>
<rect x="16.4" y="282.8" width="178.2" height="106.4" fill="none" stroke="#a2a2a2" stroke-width="1.1"/>
<rect x="17.3" y="376.2" width="44.1" height="12.3" fill="#fff" fill-opacity="0.85" stroke="#dcdcdc" stroke-width="0.6" rx="0.6"/>
<line x1="18.9" y1="379.9" x2="26" y2="379.9" stroke="#6668b4" stroke-width="0.9" stroke-dasharray="1.2,0.8"/>
<line x1="18.9" y1="384.7" x2="26" y2="384.7" stroke="#dccf78" stroke-width="0.9" stroke-dasharray="1.2,0.8"/>
<text x="28" y="381.2" class="t" font-size="3.6">2021-7-30 9:24</text>
<text x="28" y="386" class="t" font-size="3.58">anomalous volumes</text>
<text x="105.5" y="280.85" class="t" font-size="4.3" text-anchor="middle">NEBL_2021-7-30 9:24</text>
<line x1="14.6" y1="292.3" x2="16.4" y2="292.3" stroke="#a2a2a2" stroke-width="0.7"/>
<text x="14.2" y="294.2" class="t" font-size="3.9" text-anchor="end">0.2</text>
<line x1="14.6" y1="307.6" x2="16.4" y2="307.6" stroke="#a2a2a2" stroke-width="0.7"/>
<text x="14.2" y="309.5" class="t" font-size="3.9" text-anchor="end">0.1</text>
<line x1="14.6" y1="322.3" x2="16.4" y2="322.3" stroke="#a2a2a2" stroke-width="0.7"/>
<text x="14.2" y="324.2" class="t" font-size="3.9" text-anchor="end">0.0</text>
<line x1="14.6" y1="337.5" x2="16.4" y2="337.5" stroke="#a2a2a2" stroke-width="0.7"/>
<text x="14.2" y="339.4" class="t" font-size="3.9" text-anchor="end">−0.1</text>
<line x1="14.6" y1="352.8" x2="16.4" y2="352.8" stroke="#a2a2a2" stroke-width="0.7"/>
<text x="14.2" y="354.7" class="t" font-size="3.9" text-anchor="end">−0.2</text>
<line x1="14.6" y1="368.1" x2="16.4" y2="368.1" stroke="#a2a2a2" stroke-width="0.7"/>
<text x="14.2" y="370" class="t" font-size="3.9" text-anchor="end">−0.3</text>
<line x1="14.6" y1="383.3" x2="16.4" y2="383.3" stroke="#a2a2a2" stroke-width="0.7"/>
<text x="14.2" y="385.2" class="t" font-size="3.9" text-anchor="end">−0.4</text>
<text x="0" y="0" class="t" font-size="3.75" text-anchor="middle" transform="translate(4.2,336) rotate(-90)">bis_volume</text>
<line x1="23.3" y1="389.2" x2="23.3" y2="390.6" stroke="#a2a2a2" stroke-width="0.5"/>
<text class="k" transform="translate(24.25,392) rotate(-90)" text-anchor="end">29</text>
<text class="k" transform="translate(24.25,397.1) rotate(-90)" text-anchor="end">26</text>
<line x1="25.8" y1="389.2" x2="25.8" y2="390.6" stroke="#a2a2a2" stroke-width="0.5"/>
<text class="k" transform="translate(26.75,392) rotate(-90)" text-anchor="end">36</text>
<text class="k" transform="translate(26.75,397.1) rotate(-90)" text-anchor="end">11</text>
<line x1="31.5" y1="389.2" x2="31.5" y2="390.6" stroke="#a2a2a2" stroke-width="0.5"/>
<text class="k" transform="translate(32.45,392) rotate(-90)" text-anchor="end">51</text>
<text class="k" transform="translate(32.45,397.1) rotate(-90)" text-anchor="end">00</text>
<line x1="34" y1="389.2" x2="34" y2="390.6" stroke="#a2a2a2" stroke-width="0.5"/>
<text class="k" transform="translate(34.95,392) rotate(-90)" text-anchor="end">48</text>
<text class="k" transform="translate(34.95,397.1) rotate(-90)" text-anchor="end">26</text>
<line x1="44.3" y1="389.2" x2="44.3" y2="390.6" stroke="#a2a2a2" stroke-width="0.5"/>
<text class="k" transform="translate(45.25,392) rotate(-90)" text-anchor="end">12</text>
<text class="k" transform="translate(45.25,397.1) rotate(-90)" text-anchor="end">01</text>
<line x1="47.4" y1="389.2" x2="47.4" y2="390.6" stroke="#a2a2a2" stroke-width="0.5"/>
<text class="k" transform="translate(48.35,392) rotate(-90)" text-anchor="end">09</text>
<text class="k" transform="translate(48.35,397.1) rotate(-90)" text-anchor="end">05</text>
<line x1="50.3" y1="389.2" x2="50.3" y2="390.6" stroke="#a2a2a2" stroke-width="0.5"/>
<text class="k" transform="translate(51.25,392) rotate(-90)" text-anchor="end">47</text>
<text class="k" transform="translate(51.25,397.1) rotate(-90)" text-anchor="end">11</text>
<line x1="57.8" y1="389.2" x2="57.8" y2="390.6" stroke="#a2a2a2" stroke-width="0.5"/>
<text class="k" transform="translate(58.75,392) rotate(-90)" text-anchor="end">44</text>
<text class="k" transform="translate(58.75,397.1) rotate(-90)" text-anchor="end">16</text>
<line x1="65.3" y1="389.2" x2="65.3" y2="390.6" stroke="#a2a2a2" stroke-width="0.5"/>
<text class="k" transform="translate(66.25,392) rotate(-90)" text-anchor="end">39</text>
<text class="k" transform="translate(66.25,397.1) rotate(-90)" text-anchor="end">25</text>
<line x1="71.8" y1="389.2" x2="71.8" y2="390.6" stroke="#a2a2a2" stroke-width="0.5"/>
<text class="k" transform="translate(72.75,392) rotate(-90)" text-anchor="end">36</text>
<text class="k" transform="translate(72.75,397.1) rotate(-90)" text-anchor="end">17</text>
<line x1="78.4" y1="389.2" x2="78.4" y2="390.6" stroke="#a2a2a2" stroke-width="0.5"/>
<text class="k" transform="translate(79.35,392) rotate(-90)" text-anchor="end">51</text>
<text class="k" transform="translate(79.35,397.1) rotate(-90)" text-anchor="end">09</text>
<line x1="80.9" y1="389.2" x2="80.9" y2="390.6" stroke="#a2a2a2" stroke-width="0.5"/>
<text class="k" transform="translate(81.85,392) rotate(-90)" text-anchor="end">06</text>
<text class="k" transform="translate(81.85,397.1) rotate(-90)" text-anchor="end">10</text>
<line x1="93.8" y1="389.2" x2="93.8" y2="390.6" stroke="#a2a2a2" stroke-width="0.5"/>
<text class="k" transform="translate(94.75,392) rotate(-90)" text-anchor="end">43</text>
<text class="k" transform="translate(94.75,397.1) rotate(-90)" text-anchor="end">01</text>
<line x1="97.2" y1="389.2" x2="97.2" y2="390.6" stroke="#a2a2a2" stroke-width="0.5"/>
<text class="k" transform="translate(98.15,392) rotate(-90)" text-anchor="end">53</text>
<text class="k" transform="translate(98.15,397.1) rotate(-90)" text-anchor="end">25</text>
<line x1="106.5" y1="389.2" x2="106.5" y2="390.6" stroke="#a2a2a2" stroke-width="0.5"/>
<text class="k" transform="translate(107.45,392) rotate(-90)" text-anchor="end">15</text>
<text class="k" transform="translate(107.45,397.1) rotate(-90)" text-anchor="end">13</text>
<line x1="115.9" y1="389.2" x2="115.9" y2="390.6" stroke="#a2a2a2" stroke-width="0.5"/>
<text class="k" transform="translate(116.85,392) rotate(-90)" text-anchor="end">19</text>
<text class="k" transform="translate(116.85,397.1) rotate(-90)" text-anchor="end">16</text>
<line x1="122.2" y1="389.2" x2="122.2" y2="390.6" stroke="#a2a2a2" stroke-width="0.5"/>
<text class="k" transform="translate(123.15,392) rotate(-90)" text-anchor="end">52</text>
<text class="k" transform="translate(123.15,397.1) rotate(-90)" text-anchor="end">04</text>
<line x1="126.6" y1="389.2" x2="126.6" y2="390.6" stroke="#a2a2a2" stroke-width="0.5"/>
<text class="k" transform="translate(127.55,392) rotate(-90)" text-anchor="end">11</text>
<text class="k" transform="translate(127.55,397.1) rotate(-90)" text-anchor="end">03</text>
<line x1="133.4" y1="389.2" x2="133.4" y2="390.6" stroke="#a2a2a2" stroke-width="0.5"/>
<text class="k" transform="translate(134.35,392) rotate(-90)" text-anchor="end">26</text>
<text class="k" transform="translate(134.35,397.1) rotate(-90)" text-anchor="end">03</text>
<line x1="138.1" y1="389.2" x2="138.1" y2="390.6" stroke="#a2a2a2" stroke-width="0.5"/>
<text class="k" transform="translate(139.05,392) rotate(-90)" text-anchor="end">03</text>
<text class="k" transform="translate(139.05,397.1) rotate(-90)" text-anchor="end">26</text>
<line x1="140.3" y1="389.2" x2="140.3" y2="390.6" stroke="#a2a2a2" stroke-width="0.5"/>
<text class="k" transform="translate(141.25,392) rotate(-90)" text-anchor="end">46</text>
<text class="k" transform="translate(141.25,397.1) rotate(-90)" text-anchor="end">14</text>
<line x1="151.4" y1="389.2" x2="151.4" y2="390.6" stroke="#a2a2a2" stroke-width="0.5"/>
<text class="k" transform="translate(152.35,392) rotate(-90)" text-anchor="end">48</text>
<text class="k" transform="translate(152.35,397.1) rotate(-90)" text-anchor="end">09</text>
<line x1="161.8" y1="389.2" x2="161.8" y2="390.6" stroke="#a2a2a2" stroke-width="0.5"/>
<text class="k" transform="translate(162.75,392) rotate(-90)" text-anchor="end">05</text>
<text class="k" transform="translate(162.75,397.1) rotate(-90)" text-anchor="end">28</text>
<line x1="173.7" y1="389.2" x2="173.7" y2="390.6" stroke="#a2a2a2" stroke-width="0.5"/>
<text class="k" transform="translate(174.65,392) rotate(-90)" text-anchor="end">42</text>
<text class="k" transform="translate(174.65,397.1) rotate(-90)" text-anchor="end">23</text>
<line x1="164.5" y1="389.2" x2="164.5" y2="390.6" stroke="#a2a2a2" stroke-width="0.5"/>
<text class="k" transform="translate(165.45,392) rotate(-90)" text-anchor="end">10</text>
<text class="k" transform="translate(165.45,397.1) rotate(-90)" text-anchor="end">00</text>
<text class="k" transform="translate(165.45,402.4) rotate(-90)" text-anchor="end">13</text>
<line x1="185.9" y1="389.2" x2="185.9" y2="390.6" stroke="#a2a2a2" stroke-width="0.5"/>
<text class="k" transform="translate(186.85,392) rotate(-90)" text-anchor="end">57</text>
<text class="k" transform="translate(186.85,397.1) rotate(-90)" text-anchor="end">01</text>
<text class="k" transform="translate(186.85,402.4) rotate(-90)" text-anchor="end">32</text>
<text x="105.5" y="410.6" class="t" font-size="3.7" text-anchor="middle">datetime</text>
<rect x="224.1" y="319" width="165.4" height="14" fill="#e4f7f1"/>
<rect x="228.8" y="324" width="8" height="61.7" fill="#fdf4f7"/>
<rect x="239" y="285.4" width="8" height="42.6" fill="#fdf4f7"/>
<rect x="287.2" y="324" width="8" height="62.2" fill="#fdf4f7"/>
<rect x="338" y="324" width="8" height="61.1" fill="#fdf4f7"/>
<rect x="377.3" y="324" width="8" height="37" fill="#fdf4f7"/>
<line x1="225.1" y1="295.3" x2="388.5" y2="295.3" stroke="#e0d8a6" stroke-width="1" stroke-dasharray="3,0.7"/>
<line x1="225.1" y1="356.9" x2="388.5" y2="356.9" stroke="#e0d8a6" stroke-width="1" stroke-dasharray="3,0.7"/>
<line x1="225.1" y1="326" x2="388.5" y2="326" stroke="#2e6a36" stroke-width="1.8"/>
<polyline points="225.1,325.38 225.65,326.86 226.19,326.06 226.74,323.85 227.29,326 227.83,325.66 228.38,326.31 228.93,326.56 229.47,326.99 230.02,322.33 230.56,324.84 231.11,325.02 231.66,325.99 232.2,327.38 232.75,326.83 233.3,326.75 233.84,327.62 234.39,325.76 234.94,325.3 235.48,325.86 236.03,326.33 236.58,325.36 237.12,326.36 237.67,324.66 238.22,324.26 238.76,326.24 239.31,328.11 239.86,326.44 240.4,326.78 240.95,325.36 241.49,330.52 242.04,326.42 242.59,325.24 243.13,326.24 243.68,326.76 244.23,326.39 244.77,325.95 245.32,326.44 245.87,326.93 246.41,326.53 246.96,326.6 247.51,327.04 248.05,330.77 248.6,327.34 249.15,323.56 249.69,326.7 250.24,324.59 250.78,325.68 251.33,325.54 251.88,324.95 252.42,326.36 252.97,326.02 253.52,325.83 254.06,325.91 254.61,326.62 255.16,325.21 255.7,325.75 256.25,326.3 256.8,326.16 257.34,325.59 257.89,325.22 258.44,327.02 258.98,326.89 259.53,326.2 260.08,326.85 260.62,325.67 261.17,325.37 261.71,326.24 262.26,327.1 262.81,326.18 263.35,326.35 263.9,328.78 264.45,327.21 264.99,327.19 265.54,326.55 266.09,326.36 266.63,325.77 267.18,326.07 267.73,326.64 268.27,325.47 268.82,325.41 269.37,325.7 269.91,326.8 270.46,326.56 271.01,319.45 271.55,325.75 272.1,325.37 272.64,326.09 273.19,325.74 273.74,326.06 274.28,325.4 274.83,324.46 275.38,324.63 275.92,326.42 276.47,317.08 277.02,326.4 277.56,325.54 278.11,326.26 278.66,326.22 279.2,326.02 279.75,325.39 280.3,326.31 280.84,325.48 281.39,326.23 281.93,325.85 282.48,325.91 283.03,323.7 283.57,326.41 284.12,325.64 284.67,326.12 285.21,317.71 285.76,325.39 286.31,325.23 286.85,325.25 287.4,327.17 287.95,326.09 288.49,328.58 289.04,326.7 289.59,327.45 290.13,325.89 290.68,325.38 291.23,326.71 291.77,325.24 292.32,325.83 292.86,326.5 293.41,325.56 293.96,326.45 294.5,325.32 295.05,325.41 295.6,329.03 296.14,325.42 296.69,326.57 297.24,325.67 297.78,328.01 298.33,326.25 298.88,325.72 299.42,326.42 299.97,327.05 300.52,325.8 301.06,325.5 301.61,323.55 302.15,324.47 302.7,325.69 303.25,325.84 303.79,326.79 304.34,325.88 304.89,326.29 305.43,326.22 305.98,326.63 306.53,324.49 307.07,325.66 307.62,325.89 308.17,326.42 308.71,321.9 309.26,325.88 309.81,326.47 310.35,326.57 310.9,325.7 311.45,329.12 311.99,326 312.54,326.75 313.08,326.03 313.63,326.22 314.18,320.61 314.72,326.99 315.27,326.62 315.82,322.3 316.36,326.69 316.91,325.09 317.46,325.92 318,326.04 318.55,324.58 319.1,325.95 319.64,319.36 320.19,325.8 320.74,326.54 321.28,326.17 321.83,326.58 322.37,325.59 322.92,326.24 323.47,325.73 324.01,326.29 324.56,324.97 325.11,325.98 325.65,324.57 326.2,327.09 326.75,330.14 327.29,325.72 327.84,325.91 328.39,326.99 328.93,325.25 329.48,324.35 330.03,325.78 330.57,325.25 331.12,325.64 331.67,326.22 332.21,326.65 332.76,324.2 333.3,326.78 333.85,326.42 334.4,326.94 334.94,326.12 335.49,326.02 336.04,325.39 336.58,325.14 337.13,326.26 337.68,321.74 338.22,326.24 338.77,325.84 339.32,328.23 339.86,324.29 340.41,322.35 340.96,326.32 341.5,326.49 342.05,323.48 342.59,325.95 343.14,327.19 343.69,326 344.23,326.22 344.78,326.18 345.33,329.03 345.87,326.33 346.42,323.77 346.97,326.26 347.51,326.59 348.06,326.64 348.61,326.16 349.15,325.98 349.7,325.78 350.25,326.76 350.79,325.55 351.34,326.74 351.89,326.26 352.43,331.76 352.98,325.81 353.52,325.43 354.07,328.89 354.62,325.96 355.16,323.61 355.71,326.38 356.26,325.52 356.8,326.36 357.35,328.62 357.9,329.11 358.44,325.65 358.99,326.18 359.54,324.76 360.08,325.65 360.63,325.81 361.18,325.82 361.72,320.81 362.27,326.68 362.82,325.28 363.36,326.17 363.91,325.98 364.45,326.07 365,325.3 365.55,325.99 366.09,326.59 366.64,325.5 367.19,325.94 367.73,326.3 368.28,321.34 368.83,323.52 369.37,324.63 369.92,325.05 370.47,326.35 371.01,329.81 371.56,325.09 372.11,327.51 372.65,325.66 373.2,325.62 373.74,325.79 374.29,327.02 374.84,325.74 375.38,326.45 375.93,325.65 376.48,325.59 377.02,326.5 377.57,325.91 378.12,325.94 378.66,325.89 379.21,326.07 379.76,325.76 380.3,326.85 380.85,326.91 381.4,326.35 381.94,328.43 382.49,327.27 383.04,326.1 383.58,326.25 384.13,325.68 384.67,325.76 385.22,325.93 385.77,326.82 386.31,325.65 386.86,326.42 387.41,325.05 387.95,326.1 388.5,323.73" fill="none" stroke="#2e6a36" stroke-width="0.5" stroke-linejoin="round"/>
<circle cx="225.1" cy="325.38" r="1.1" fill="#1f4d26"/>
<circle cx="225.65" cy="326.86" r="1.1" fill="#1f4d26"/>
<circle cx="226.74" cy="323.85" r="1.1" fill="#1f4d26"/>
<circle cx="228.93" cy="326.56" r="1.1" fill="#1f4d26"/>
<circle cx="229.47" cy="326.99" r="1.1" fill="#1f4d26"/>
<circle cx="230.02" cy="322.33" r="1.1" fill="#1f4d26"/>
<circle cx="230.56" cy="324.84" r="1.1" fill="#1f4d26"/>
<circle cx="231.11" cy="325.02" r="1.1" fill="#1f4d26"/>
<circle cx="232.2" cy="327.38" r="1.1" fill="#1f4d26"/>
<circle cx="232.75" cy="326.83" r="1.1" fill="#1f4d26"/>
<circle cx="233.3" cy="326.75" r="1.1" fill="#1f4d26"/>
<circle cx="233.84" cy="327.62" r="1.1" fill="#1f4d26"/>
<circle cx="234.94" cy="325.3" r="1.1" fill="#1f4d26"/>
<circle cx="236.58" cy="325.36" r="1.1" fill="#1f4d26"/>
<circle cx="237.67" cy="324.66" r="1.1" fill="#1f4d26"/>
<circle cx="238.22" cy="324.26" r="1.1" fill="#1f4d26"/>
<circle cx="239.31" cy="328.11" r="1.1" fill="#1f4d26"/>
<circle cx="240.4" cy="326.78" r="1.1" fill="#1f4d26"/>
<circle cx="240.95" cy="325.36" r="1.1" fill="#1f4d26"/>
<circle cx="241.49" cy="330.52" r="1.1" fill="#1f4d26"/>
<circle cx="242.59" cy="325.24" r="1.1" fill="#1f4d26"/>
<circle cx="243.68" cy="326.76" r="1.1" fill="#1f4d26"/>
<circle cx="245.87" cy="326.93" r="1.1" fill="#1f4d26"/>
<circle cx="246.96" cy="326.6" r="1.1" fill="#1f4d26"/>
<circle cx="247.51" cy="327.04" r="1.1" fill="#1f4d26"/>
<circle cx="248.05" cy="330.77" r="1.1" fill="#1f4d26"/>
<circle cx="248.6" cy="327.34" r="1.1" fill="#1f4d26"/>
<circle cx="249.15" cy="323.56" r="1.1" fill="#1f4d26"/>
<circle cx="249.69" cy="326.7" r="1.1" fill="#1f4d26"/>
<circle cx="250.24" cy="324.59" r="1.1" fill="#1f4d26"/>
<circle cx="251.88" cy="324.95" r="1.1" fill="#1f4d26"/>
<circle cx="254.61" cy="326.62" r="1.1" fill="#1f4d26"/>
<circle cx="255.16" cy="325.21" r="1.1" fill="#1f4d26"/>
<circle cx="257.89" cy="325.22" r="1.1" fill="#1f4d26"/>
<circle cx="258.44" cy="327.02" r="1.1" fill="#1f4d26"/>
<circle cx="258.98" cy="326.89" r="1.1" fill="#1f4d26"/>
<circle cx="260.08" cy="326.85" r="1.1" fill="#1f4d26"/>
<circle cx="261.17" cy="325.37" r="1.1" fill="#1f4d26"/>
<circle cx="262.26" cy="327.1" r="1.1" fill="#1f4d26"/>
<circle cx="263.9" cy="328.78" r="1.1" fill="#1f4d26"/>
<circle cx="264.45" cy="327.21" r="1.1" fill="#1f4d26"/>
<circle cx="264.99" cy="327.19" r="1.1" fill="#1f4d26"/>
<circle cx="265.54" cy="326.55" r="1.1" fill="#1f4d26"/>
<circle cx="267.73" cy="326.64" r="1.1" fill="#1f4d26"/>
<circle cx="268.82" cy="325.41" r="1.1" fill="#1f4d26"/>
<circle cx="269.91" cy="326.8" r="1.1" fill="#1f4d26"/>
<circle cx="270.46" cy="326.56" r="1.1" fill="#1f4d26"/>
<circle cx="271.01" cy="319.45" r="1.1" fill="#1f4d26"/>
<circle cx="272.1" cy="325.37" r="1.1" fill="#1f4d26"/>
<circle cx="274.28" cy="325.4" r="1.1" fill="#1f4d26"/>
<circle cx="274.83" cy="324.46" r="1.1" fill="#1f4d26"/>
<circle cx="275.38" cy="324.63" r="1.1" fill="#1f4d26"/>
<circle cx="276.47" cy="317.08" r="1.1" fill="#1f4d26"/>
<circle cx="279.75" cy="325.39" r="1.1" fill="#1f4d26"/>
<circle cx="283.03" cy="323.7" r="1.1" fill="#1f4d26"/>
<circle cx="285.21" cy="317.71" r="1.1" fill="#1f4d26"/>
<circle cx="285.76" cy="325.39" r="1.1" fill="#1f4d26"/>
<circle cx="286.31" cy="325.23" r="1.1" fill="#1f4d26"/>
<circle cx="286.85" cy="325.25" r="1.1" fill="#1f4d26"/>
<circle cx="287.4" cy="327.17" r="1.1" fill="#1f4d26"/>
<circle cx="288.49" cy="328.58" r="1.1" fill="#1f4d26"/>
<circle cx="289.04" cy="326.7" r="1.1" fill="#1f4d26"/>
<circle cx="289.59" cy="327.45" r="1.1" fill="#1f4d26"/>
<circle cx="290.68" cy="325.38" r="1.1" fill="#1f4d26"/>
<circle cx="291.23" cy="326.71" r="1.1" fill="#1f4d26"/>
<circle cx="291.77" cy="325.24" r="1.1" fill="#1f4d26"/>
<circle cx="294.5" cy="325.32" r="1.1" fill="#1f4d26"/>
<circle cx="295.05" cy="325.41" r="1.1" fill="#1f4d26"/>
<circle cx="295.6" cy="329.03" r="1.1" fill="#1f4d26"/>
<circle cx="296.14" cy="325.42" r="1.1" fill="#1f4d26"/>
<circle cx="296.69" cy="326.57" r="1.1" fill="#1f4d26"/>
<circle cx="297.78" cy="328.01" r="1.1" fill="#1f4d26"/>
<circle cx="299.97" cy="327.05" r="1.1" fill="#1f4d26"/>
<circle cx="301.61" cy="323.55" r="1.1" fill="#1f4d26"/>
<circle cx="302.15" cy="324.47" r="1.1" fill="#1f4d26"/>
<circle cx="303.79" cy="326.79" r="1.1" fill="#1f4d26"/>
<circle cx="305.98" cy="326.63" r="1.1" fill="#1f4d26"/>
<circle cx="306.53" cy="324.49" r="1.1" fill="#1f4d26"/>
<circle cx="308.71" cy="321.9" r="1.1" fill="#1f4d26"/>
<circle cx="310.35" cy="326.57" r="1.1" fill="#1f4d26"/>
<circle cx="311.45" cy="329.12" r="1.1" fill="#1f4d26"/>
<circle cx="312.54" cy="326.75" r="1.1" fill="#1f4d26"/>
<circle cx="314.18" cy="320.61" r="1.1" fill="#1f4d26"/>
<circle cx="314.72" cy="326.99" r="1.1" fill="#1f4d26"/>
<circle cx="315.27" cy="326.62" r="1.1" fill="#1f4d26"/>
<circle cx="315.82" cy="322.3" r="1.1" fill="#1f4d26"/>
<circle cx="316.36" cy="326.69" r="1.1" fill="#1f4d26"/>
<circle cx="316.91" cy="325.09" r="1.1" fill="#1f4d26"/>
<circle cx="318.55" cy="324.58" r="1.1" fill="#1f4d26"/>
<circle cx="319.64" cy="319.36" r="1.1" fill="#1f4d26"/>
<circle cx="321.83" cy="326.58" r="1.1" fill="#1f4d26"/>
<circle cx="324.56" cy="324.97" r="1.1" fill="#1f4d26"/>
<circle cx="325.65" cy="324.57" r="1.1" fill="#1f4d26"/>
<circle cx="326.2" cy="327.09" r="1.1" fill="#1f4d26"/>
<circle cx="326.75" cy="330.14" r="1.1" fill="#1f4d26"/>
<circle cx="328.39" cy="326.99" r="1.1" fill="#1f4d26"/>
<circle cx="328.93" cy="325.25" r="1.1" fill="#1f4d26"/>
<circle cx="329.48" cy="324.35" r="1.1" fill="#1f4d26"/>
<circle cx="330.57" cy="325.25" r="1.1" fill="#1f4d26"/>
<circle cx="332.21" cy="326.65" r="1.1" fill="#1f4d26"/>
<circle cx="332.76" cy="324.2" r="1.1" fill="#1f4d26"/>
<circle cx="333.3" cy="326.78" r="1.1" fill="#1f4d26"/>
<circle cx="334.4" cy="326.94" r="1.1" fill="#1f4d26"/>
<circle cx="336.04" cy="325.39" r="1.1" fill="#1f4d26"/>
<circle cx="336.58" cy="325.14" r="1.1" fill="#1f4d26"/>
<circle cx="337.68" cy="321.74" r="1.1" fill="#1f4d26"/>
<circle cx="339.32" cy="328.23" r="1.1" fill="#1f4d26"/>
<circle cx="339.86" cy="324.29" r="1.1" fill="#1f4d26"/>
<circle cx="340.41" cy="322.35" r="1.1" fill="#1f4d26"/>
<circle cx="342.05" cy="323.48" r="1.1" fill="#1f4d26"/>
<circle cx="343.14" cy="327.19" r="1.1" fill="#1f4d26"/>
<circle cx="345.33" cy="329.03" r="1.1" fill="#1f4d26"/>
<circle cx="346.42" cy="323.77" r="1.1" fill="#1f4d26"/>
<circle cx="347.51" cy="326.59" r="1.1" fill="#1f4d26"/>
<circle cx="348.06" cy="326.64" r="1.1" fill="#1f4d26"/>
<circle cx="350.25" cy="326.76" r="1.1" fill="#1f4d26"/>
<circle cx="351.34" cy="326.74" r="1.1" fill="#1f4d26"/>
<circle cx="352.43" cy="331.76" r="1.1" fill="#1f4d26"/>
<circle cx="353.52" cy="325.43" r="1.1" fill="#1f4d26"/>
<circle cx="354.07" cy="328.89" r="1.1" fill="#1f4d26"/>
<circle cx="355.16" cy="323.61" r="1.1" fill="#1f4d26"/>
<circle cx="357.35" cy="328.62" r="1.1" fill="#1f4d26"/>
<circle cx="357.9" cy="329.11" r="1.1" fill="#1f4d26"/>
<circle cx="359.54" cy="324.76" r="1.1" fill="#1f4d26"/>
<circle cx="361.72" cy="320.81" r="1.1" fill="#1f4d26"/>
<circle cx="362.27" cy="326.68" r="1.1" fill="#1f4d26"/>
<circle cx="362.82" cy="325.28" r="1.1" fill="#1f4d26"/>
<circle cx="365" cy="325.3" r="1.1" fill="#1f4d26"/>
<circle cx="366.09" cy="326.59" r="1.1" fill="#1f4d26"/>
<circle cx="368.28" cy="321.34" r="1.1" fill="#1f4d26"/>
<circle cx="368.83" cy="323.52" r="1.1" fill="#1f4d26"/>
<circle cx="369.37" cy="324.63" r="1.1" fill="#1f4d26"/>
<circle cx="369.92" cy="325.05" r="1.1" fill="#1f4d26"/>
<circle cx="371.01" cy="329.81" r="1.1" fill="#1f4d26"/>
<circle cx="371.56" cy="325.09" r="1.1" fill="#1f4d26"/>
<circle cx="372.11" cy="327.51" r="1.1" fill="#1f4d26"/>
<circle cx="374.29" cy="327.02" r="1.1" fill="#1f4d26"/>
<circle cx="380.3" cy="326.85" r="1.1" fill="#1f4d26"/>
<circle cx="380.85" cy="326.91" r="1.1" fill="#1f4d26"/>
<circle cx="381.94" cy="328.43" r="1.1" fill="#1f4d26"/>
<circle cx="382.49" cy="327.27" r="1.1" fill="#1f4d26"/>
<circle cx="385.77" cy="326.82" r="1.1" fill="#1f4d26"/>
<circle cx="387.41" cy="325.05" r="1.1" fill="#1f4d26"/>
<circle cx="388.5" cy="323.73" r="1.1" fill="#1f4d26"/>
<line x1="232.8" y1="326" x2="232.8" y2="383.7" stroke="#9a5a48" stroke-width="0.9"/>
<circle cx="232.8" cy="383.7" r="1.0" fill="#2b3d2b"/>
<line x1="234.5" y1="326" x2="234.5" y2="316" stroke="#2e6a36" stroke-width="0.9"/>
<circle cx="234.5" cy="316" r="1.0" fill="#2b3d2b"/>
<line x1="238.2" y1="326" x2="238.2" y2="330.7" stroke="#2e6a36" stroke-width="0.9"/>
<circle cx="238.2" cy="330.7" r="1.0" fill="#2b3d2b"/>
<line x1="243" y1="326" x2="243" y2="287.4" stroke="#9a5a48" stroke-width="0.9"/>
<circle cx="243" cy="287.4" r="1.0" fill="#2b3d2b"/>
<line x1="230.1" y1="326" x2="230.1" y2="320.9" stroke="#2e6a36" stroke-width="0.9"/>
<circle cx="230.1" cy="320.9" r="1.0" fill="#2b3d2b"/>
<line x1="250.2" y1="326" x2="250.2" y2="341.6" stroke="#2e6a36" stroke-width="0.9"/>
<circle cx="250.2" cy="341.6" r="1.0" fill="#2b3d2b"/>
<line x1="251.3" y1="326" x2="251.3" y2="300.5" stroke="#2e6a36" stroke-width="0.9"/>
<circle cx="251.3" cy="300.5" r="1.0" fill="#2b3d2b"/>
<line x1="254.1" y1="326" x2="254.1" y2="303.4" stroke="#2e6a36" stroke-width="0.9"/>
<circle cx="254.1" cy="303.4" r="1.0" fill="#2b3d2b"/>
<line x1="254.1" y1="326" x2="254.1" y2="344.4" stroke="#2e6a36" stroke-width="0.9"/>
<circle cx="254.1" cy="344.4" r="1.0" fill="#2b3d2b"/>
<line x1="259" y1="326" x2="259" y2="342.2" stroke="#2e6a36" stroke-width="0.9"/>
<circle cx="259" cy="342.2" r="1.0" fill="#2b3d2b"/>
<line x1="261.8" y1="326" x2="261.8" y2="312.1" stroke="#2e6a36" stroke-width="0.9"/>
<circle cx="261.8" cy="312.1" r="1.0" fill="#2b3d2b"/>
<line x1="264.4" y1="326" x2="264.4" y2="352.5" stroke="#2e6a36" stroke-width="0.9"/>
<circle cx="264.4" cy="352.5" r="1.0" fill="#2b3d2b"/>
<line x1="266" y1="326" x2="266" y2="302.3" stroke="#2e6a36" stroke-width="0.9"/>
<circle cx="266" cy="302.3" r="1.0" fill="#2b3d2b"/>
<line x1="252.4" y1="326" x2="252.4" y2="338.3" stroke="#2e6a36" stroke-width="0.9"/>
<circle cx="252.4" cy="338.3" r="1.0" fill="#2b3d2b"/>
<line x1="272.6" y1="326" x2="272.6" y2="354.7" stroke="#2e6a36" stroke-width="0.9"/>
<circle cx="272.6" cy="354.7" r="1.0" fill="#2b3d2b"/>
<line x1="276.4" y1="326" x2="276.4" y2="310.4" stroke="#2e6a36" stroke-width="0.9"/>
<circle cx="276.4" cy="310.4" r="1.0" fill="#2b3d2b"/>
<line x1="269.8" y1="326" x2="269.8" y2="319.8" stroke="#2e6a36" stroke-width="0.9"/>
<circle cx="269.8" cy="319.8" r="1.0" fill="#2b3d2b"/>
<line x1="280.3" y1="326" x2="280.3" y2="338.3" stroke="#2e6a36" stroke-width="0.9"/>
<circle cx="280.3" cy="338.3" r="1.0" fill="#2b3d2b"/>
<line x1="291.2" y1="326" x2="291.2" y2="384.2" stroke="#9a5a48" stroke-width="0.9"/>
<circle cx="291.2" cy="384.2" r="1.0" fill="#2b3d2b"/>
<line x1="296.7" y1="326" x2="296.7" y2="294.7" stroke="#2e6a36" stroke-width="0.9"/>
<circle cx="296.7" cy="294.7" r="1.0" fill="#2b3d2b"/>
<line x1="300.4" y1="326" x2="300.4" y2="309.5" stroke="#2e6a36" stroke-width="0.9"/>
<circle cx="300.4" cy="309.5" r="1.0" fill="#2b3d2b"/>
<line x1="312" y1="326" x2="312" y2="353" stroke="#2e6a36" stroke-width="0.9"/>
<circle cx="312" cy="353" r="1.0" fill="#2b3d2b"/>
<line x1="311.3" y1="326" x2="311.3" y2="320.2" stroke="#2e6a36" stroke-width="0.9"/>
<circle cx="311.3" cy="320.2" r="1.0" fill="#2b3d2b"/>
<line x1="315.2" y1="326" x2="315.2" y2="316.5" stroke="#2e6a36" stroke-width="0.9"/>
<circle cx="315.2" cy="316.5" r="1.0" fill="#2b3d2b"/>
<line x1="316.3" y1="326" x2="316.3" y2="340" stroke="#2e6a36" stroke-width="0.9"/>
<circle cx="316.3" cy="340" r="1.0" fill="#2b3d2b"/>
<line x1="306" y1="326" x2="306" y2="333.5" stroke="#2e6a36" stroke-width="0.9"/>
<circle cx="306" cy="333.5" r="1.0" fill="#2b3d2b"/>
<line x1="342" y1="326" x2="342" y2="383.1" stroke="#9a5a48" stroke-width="0.9"/>
<circle cx="342" cy="383.1" r="1.0" fill="#2b3d2b"/>
<line x1="341.4" y1="326" x2="341.4" y2="343.8" stroke="#2e6a36" stroke-width="0.9"/>
<circle cx="341.4" cy="343.8" r="1.0" fill="#2b3d2b"/>
<line x1="348.6" y1="326" x2="348.6" y2="316.5" stroke="#2e6a36" stroke-width="0.9"/>
<circle cx="348.6" cy="316.5" r="1.0" fill="#2b3d2b"/>
<line x1="360.6" y1="326" x2="360.6" y2="299.5" stroke="#2e6a36" stroke-width="0.9"/>
<circle cx="360.6" cy="299.5" r="1.0" fill="#2b3d2b"/>
<line x1="360.6" y1="326" x2="360.6" y2="338.3" stroke="#2e6a36" stroke-width="0.9"/>
<circle cx="360.6" cy="338.3" r="1.0" fill="#2b3d2b"/>
<line x1="362.3" y1="326" x2="362.3" y2="302.7" stroke="#2e6a36" stroke-width="0.9"/>
<circle cx="362.3" cy="302.7" r="1.0" fill="#2b3d2b"/>
<line x1="372.6" y1="326" x2="372.6" y2="319.8" stroke="#2e6a36" stroke-width="0.9"/>
<circle cx="372.6" cy="319.8" r="1.0" fill="#2b3d2b"/>
<line x1="374.8" y1="326" x2="374.8" y2="345.3" stroke="#2e6a36" stroke-width="0.9"/>
<circle cx="374.8" cy="345.3" r="1.0" fill="#2b3d2b"/>
<line x1="377.6" y1="326" x2="377.6" y2="319.8" stroke="#2e6a36" stroke-width="0.9"/>
<circle cx="377.6" cy="319.8" r="1.0" fill="#2b3d2b"/>
<line x1="381.3" y1="326" x2="381.3" y2="359" stroke="#9a5a48" stroke-width="0.9"/>
<circle cx="381.3" cy="359" r="1.0" fill="#2b3d2b"/>
<line x1="385" y1="326" x2="385" y2="313.9" stroke="#2e6a36" stroke-width="0.9"/>
<circle cx="385" cy="313.9" r="1.0" fill="#2b3d2b"/>
<line x1="387.9" y1="326" x2="387.9" y2="313.9" stroke="#2e6a36" stroke-width="0.9"/>
<circle cx="387.9" cy="313.9" r="1.0" fill="#2b3d2b"/>
<line x1="384.5" y1="287.4" x2="384.5" y2="384.2" stroke="#c8c8da" stroke-width="1"/>
<line x1="384.5" y1="287.4" x2="384.5" y2="384.2" stroke="#7c7ca8" stroke-width="1" stroke-dasharray="1,1"/>
<line x1="388.5" y1="287.4" x2="388.5" y2="384.2" stroke="#c8c8da" stroke-width="1"/>
<line x1="388.5" y1="287.4" x2="388.5" y2="384.2" stroke="#7c7ca8" stroke-width="1" stroke-dasharray="1,1"/>
<rect x="218" y="282.8" width="178.3" height="106.5" fill="none" stroke="#a2a2a2" stroke-width="1.1"/>
<rect x="350.5" y="283.4" width="45.1" height="11.6" fill="#fff" fill-opacity="0.85" stroke="#dcdcdc" stroke-width="0.6" rx="0.6"/>
<line x1="352.4" y1="286.5" x2="359.6" y2="286.5" stroke="#6668b4" stroke-width="0.9" stroke-dasharray="1.2,0.8"/>
<line x1="352.4" y1="291.9" x2="359.6" y2="291.9" stroke="#dccf78" stroke-width="0.9" stroke-dasharray="1.2,0.8"/>
<text x="361.5" y="287.8" class="t" font-size="3.6">2021-6-22 13:07</text>
<text x="361.5" y="293.2" class="t" font-size="3.58">anomalous volumes</text>
<text x="307.15" y="280.85" class="t" font-size="4.3" text-anchor="middle">NEBL_2021-6-22 13:07</text>
<line x1="216.2" y1="302.2" x2="218" y2="302.2" stroke="#a2a2a2" stroke-width="0.7"/>
<text x="215.8" y="304.1" class="t" font-size="3.9" text-anchor="end">0.05</text>
<line x1="216.2" y1="325.8" x2="218" y2="325.8" stroke="#a2a2a2" stroke-width="0.7"/>
<text x="215.8" y="327.7" class="t" font-size="3.9" text-anchor="end">0.00</text>
<line x1="216.2" y1="349.2" x2="218" y2="349.2" stroke="#a2a2a2" stroke-width="0.7"/>
<text x="215.8" y="351.1" class="t" font-size="3.9" text-anchor="end">−0.05</text>
<line x1="216.2" y1="372.8" x2="218" y2="372.8" stroke="#a2a2a2" stroke-width="0.7"/>
<text x="215.8" y="374.7" class="t" font-size="3.9" text-anchor="end">−0.10</text>
<text x="0" y="0" class="t" font-size="3.75" text-anchor="middle" transform="translate(204,336.05) rotate(-90)">bis_volume</text>
<line x1="225.3" y1="389.3" x2="225.3" y2="390.7" stroke="#a2a2a2" stroke-width="0.5"/>
<text class="k" transform="translate(226.25,392.1) rotate(-90)" text-anchor="end">09</text>
<text class="k" transform="translate(226.25,397.2) rotate(-90)" text-anchor="end">08</text>
<line x1="231.5" y1="389.3" x2="231.5" y2="390.7" stroke="#a2a2a2" stroke-width="0.5"/>
<text class="k" transform="translate(232.45,392.1) rotate(-90)" text-anchor="end">54</text>
<text class="k" transform="translate(232.45,397.2) rotate(-90)" text-anchor="end">09</text>
<line x1="237.4" y1="389.3" x2="237.4" y2="390.7" stroke="#a2a2a2" stroke-width="0.5"/>
<text class="k" transform="translate(238.35,392.1) rotate(-90)" text-anchor="end">17</text>
<text class="k" transform="translate(238.35,397.2) rotate(-90)" text-anchor="end">10</text>
<line x1="244.3" y1="389.3" x2="244.3" y2="390.7" stroke="#a2a2a2" stroke-width="0.5"/>
<text class="k" transform="translate(245.25,392.1) rotate(-90)" text-anchor="end">44</text>
<text class="k" transform="translate(245.25,397.2) rotate(-90)" text-anchor="end">15</text>
<line x1="253.5" y1="389.3" x2="253.5" y2="390.7" stroke="#a2a2a2" stroke-width="0.5"/>
<text class="k" transform="translate(254.45,392.1) rotate(-90)" text-anchor="end">18</text>
<text class="k" transform="translate(254.45,397.2) rotate(-90)" text-anchor="end">17</text>
<line x1="260" y1="389.3" x2="260" y2="390.7" stroke="#a2a2a2" stroke-width="0.5"/>
<text class="k" transform="translate(260.95,392.1) rotate(-90)" text-anchor="end">50</text>
<text class="k" transform="translate(260.95,397.2) rotate(-90)" text-anchor="end">17</text>
<line x1="266.9" y1="389.3" x2="266.9" y2="390.7" stroke="#a2a2a2" stroke-width="0.5"/>
<text class="k" transform="translate(267.85,392.1) rotate(-90)" text-anchor="end">41</text>
<text class="k" transform="translate(267.85,397.2) rotate(-90)" text-anchor="end">11</text>
<line x1="276.3" y1="389.3" x2="276.3" y2="390.7" stroke="#a2a2a2" stroke-width="0.5"/>
<text class="k" transform="translate(277.25,392.1) rotate(-90)" text-anchor="end">03</text>
<text class="k" transform="translate(277.25,397.2) rotate(-90)" text-anchor="end">13</text>
<line x1="285.6" y1="389.3" x2="285.6" y2="390.7" stroke="#a2a2a2" stroke-width="0.5"/>
<text class="k" transform="translate(286.55,392.1) rotate(-90)" text-anchor="end">52</text>
<text class="k" transform="translate(286.55,397.2) rotate(-90)" text-anchor="end">26</text>
<line x1="300.3" y1="389.3" x2="300.3" y2="390.7" stroke="#a2a2a2" stroke-width="0.5"/>
<text class="k" transform="translate(301.25,392.1) rotate(-90)" text-anchor="end">39</text>
<text class="k" transform="translate(301.25,397.2) rotate(-90)" text-anchor="end">12</text>
<line x1="309.7" y1="389.3" x2="309.7" y2="390.7" stroke="#a2a2a2" stroke-width="0.5"/>
<text class="k" transform="translate(310.65,392.1) rotate(-90)" text-anchor="end">37</text>
<text class="k" transform="translate(310.65,397.2) rotate(-90)" text-anchor="end">17</text>
<line x1="321" y1="389.3" x2="321" y2="390.7" stroke="#a2a2a2" stroke-width="0.5"/>
<text class="k" transform="translate(321.95,392.1) rotate(-90)" text-anchor="end">41</text>
<text class="k" transform="translate(321.95,397.2) rotate(-90)" text-anchor="end">23</text>
<line x1="326.3" y1="389.3" x2="326.3" y2="390.7" stroke="#a2a2a2" stroke-width="0.5"/>
<text class="k" transform="translate(327.25,392.1) rotate(-90)" text-anchor="end">06</text>
<text class="k" transform="translate(327.25,397.2) rotate(-90)" text-anchor="end">23</text>
<line x1="328.8" y1="389.3" x2="328.8" y2="390.7" stroke="#a2a2a2" stroke-width="0.5"/>
<text class="k" transform="translate(329.75,392.1) rotate(-90)" text-anchor="end">57</text>
<text class="k" transform="translate(329.75,397.2) rotate(-90)" text-anchor="end">26</text>
<line x1="336.1" y1="389.3" x2="336.1" y2="390.7" stroke="#a2a2a2" stroke-width="0.5"/>
<text class="k" transform="translate(337.05,392.1) rotate(-90)" text-anchor="end">21</text>
<text class="k" transform="translate(337.05,397.2) rotate(-90)" text-anchor="end">17</text>
<line x1="337.3" y1="389.3" x2="337.3" y2="390.7" stroke="#a2a2a2" stroke-width="0.5"/>
<text class="k" transform="translate(338.25,392.1) rotate(-90)" text-anchor="end">59</text>
<text class="k" transform="translate(338.25,397.2) rotate(-90)" text-anchor="end">14</text>
<line x1="342.8" y1="389.3" x2="342.8" y2="390.7" stroke="#a2a2a2" stroke-width="0.5"/>
<text class="k" transform="translate(343.75,392.1) rotate(-90)" text-anchor="end">15</text>
<text class="k" transform="translate(343.75,397.2) rotate(-90)" text-anchor="end">03</text>
<line x1="347.6" y1="389.3" x2="347.6" y2="390.7" stroke="#a2a2a2" stroke-width="0.5"/>
<text class="k" transform="translate(348.55,392.1) rotate(-90)" text-anchor="end">01</text>
<text class="k" transform="translate(348.55,397.2) rotate(-90)" text-anchor="end">09</text>
<line x1="357.6" y1="389.3" x2="357.6" y2="390.7" stroke="#a2a2a2" stroke-width="0.5"/>
<text class="k" transform="translate(358.55,392.1) rotate(-90)" text-anchor="end">17</text>
<text class="k" transform="translate(358.55,397.2) rotate(-90)" text-anchor="end">04</text>
<line x1="360" y1="389.3" x2="360" y2="390.7" stroke="#a2a2a2" stroke-width="0.5"/>
<text class="k" transform="translate(360.95,392.1) rotate(-90)" text-anchor="end">13</text>
<text class="k" transform="translate(360.95,397.2) rotate(-90)" text-anchor="end">03</text>
<line x1="369.3" y1="389.3" x2="369.3" y2="390.7" stroke="#a2a2a2" stroke-width="0.5"/>
<text class="k" transform="translate(370.25,392.1) rotate(-90)" text-anchor="end">48</text>
<text class="k" transform="translate(370.25,397.2) rotate(-90)" text-anchor="end">13</text>
<line x1="373.7" y1="389.3" x2="373.7" y2="390.7" stroke="#a2a2a2" stroke-width="0.5"/>
<text class="k" transform="translate(374.65,392.1) rotate(-90)" text-anchor="end">49</text>
<text class="k" transform="translate(374.65,397.2) rotate(-90)" text-anchor="end">28</text>
<line x1="376" y1="389.3" x2="376" y2="390.7" stroke="#a2a2a2" stroke-width="0.5"/>
<text class="k" transform="translate(376.95,392.1) rotate(-90)" text-anchor="end">50</text>
<text class="k" transform="translate(376.95,397.2) rotate(-90)" text-anchor="end">27</text>
<line x1="382.4" y1="389.3" x2="382.4" y2="390.7" stroke="#a2a2a2" stroke-width="0.5"/>
<text class="k" transform="translate(383.35,392.1) rotate(-90)" text-anchor="end">33</text>
<text class="k" transform="translate(383.35,397.2) rotate(-90)" text-anchor="end">24</text>
<line x1="385.9" y1="389.3" x2="385.9" y2="390.7" stroke="#a2a2a2" stroke-width="0.5"/>
<text class="k" transform="translate(386.85,392.1) rotate(-90)" text-anchor="end">17</text>
<text class="k" transform="translate(386.85,397.2) rotate(-90)" text-anchor="end">23</text>
<line x1="384" y1="389.3" x2="384" y2="390.7" stroke="#a2a2a2" stroke-width="0.5"/>
<text class="k" transform="translate(384.95,392.1) rotate(-90)" text-anchor="end">47</text>
<text class="k" transform="translate(384.95,397.2) rotate(-90)" text-anchor="end">01</text>
<text class="k" transform="translate(384.95,402.5) rotate(-90)" text-anchor="end">24</text>
<line x1="387.4" y1="389.3" x2="387.4" y2="390.7" stroke="#a2a2a2" stroke-width="0.5"/>
<text class="k" transform="translate(388.35,392.1) rotate(-90)" text-anchor="end">19</text>
<text class="k" transform="translate(388.35,397.2) rotate(-90)" text-anchor="end">25</text>
<text class="k" transform="translate(388.35,402.5) rotate(-90)" text-anchor="end">18</text>
<text x="307.15" y="410.7" class="t" font-size="3.7" text-anchor="middle">datetime</text>
<rect x="24.1" y="488.5" width="164.8" height="16" fill="#e4f7f1"/>
<rect x="132.6" y="452.7" width="8" height="45.8" fill="#fdf4f7"/>
<rect x="142.4" y="422.8" width="8" height="75.7" fill="#fdf4f7"/>
<rect x="148.9" y="461" width="8" height="37.5" fill="#fdf4f7"/>
<rect x="150" y="478.5" width="8" height="20" fill="#fdf4f7"/>
<rect x="155.5" y="443.6" width="8" height="54.9" fill="#fdf4f7"/>
<rect x="163.6" y="463.7" width="8" height="34.8" fill="#fdf4f7"/>
<line x1="25.1" y1="471.1" x2="187.9" y2="471.1" stroke="#e0d8a6" stroke-width="1" stroke-dasharray="3,0.7"/>
<line x1="25.1" y1="522.4" x2="187.9" y2="522.4" stroke="#e0d8a6" stroke-width="1" stroke-dasharray="3,0.7"/>
<line x1="25.1" y1="496.5" x2="187.9" y2="496.5" stroke="#2e6a36" stroke-width="2.2"/>
<polyline points="25.1,496.59 25.59,496.44 26.09,497.52 26.58,496.88 27.08,498.56 27.57,496.4 28.07,496.14 28.56,495.58 29.06,496.81 29.55,496.87 30.05,494.15 30.54,499.79 31.04,497.45 31.53,497.34 32.03,496.43 32.52,495.85 33.02,495.87 33.51,496.55 34.01,496.97 34.5,496.93 35,496.57 35.49,496.81 35.99,499.1 36.48,495.19 36.98,495.87 37.47,496.3 37.97,496.55 38.46,497.23 38.96,497.11 39.45,494.17 39.94,496.41 40.44,493.79 40.93,493.11 41.43,496.27 41.92,495.44 42.42,495.25 42.91,496.5 43.41,495.42 43.9,496.69 44.4,493.44 44.89,496.08 45.39,497.62 45.88,495.3 46.38,497.08 46.87,496.87 47.37,497.6 47.86,496.01 48.36,496.64 48.85,496.85 49.35,496.51 49.84,496.19 50.34,495.38 50.83,496.88 51.33,495.44 51.82,496.88 52.32,496.58 52.81,496.02 53.31,495.04 53.8,496.78 54.3,499.6 54.79,495.92 55.28,496.37 55.78,496.4 56.27,496.68 56.77,497.03 57.26,496.07 57.76,497.41 58.25,497.29 58.75,497.6 59.24,496.19 59.74,496 60.23,496.41 60.73,494.87 61.22,496.02 61.72,496.36 62.21,496.54 62.71,494.25 63.2,496.07 63.7,496.98 64.19,497.59 64.69,497.64 65.18,496.79 65.68,495.73 66.17,493.97 66.67,496.26 67.16,491.78 67.66,496.76 68.15,496.45 68.65,496.3 69.14,496.8 69.63,496.56 70.13,496.08 70.62,500.95 71.12,496 71.61,498.26 72.11,497.49 72.6,496.4 73.1,496.04 73.59,496.41 74.09,497.1 74.58,498.57 75.08,497.99 75.57,496.29 76.07,497.15 76.56,496.22 77.06,495.86 77.55,496.13 78.05,496.57 78.54,495.98 79.04,496.32 79.53,494.34 80.03,495.39 80.52,497.19 81.02,496.41 81.51,496.59 82.01,497 82.5,501.54 83,496.31 83.49,496.13 83.99,498.52 84.48,496.72 84.97,497.07 85.47,496.78 85.96,496.66 86.46,495.83 86.95,496.23 87.45,499.11 87.94,496.51 88.44,495.34 88.93,495.74 89.43,496.89 89.92,497.14 90.42,496.22 90.91,496.12 91.41,497.65 91.9,496.18 92.4,494.94 92.89,496.35 93.39,496.43 93.88,494.28 94.38,496.94 94.87,494.45 95.37,492.38 95.86,496.35 96.36,497.1 96.85,496.75 97.35,500.55 97.84,496.09 98.34,496.79 98.83,497.6 99.32,497.56 99.82,496.42 100.31,495.82 100.81,495.62 101.3,495.98 101.8,495.19 102.29,498.45 102.79,496.17 103.28,492.01 103.78,496.15 104.27,496.42 104.77,496.36 105.26,493.21 105.76,495.79 106.25,496.44 106.75,495.09 107.24,496.44 107.74,497.36 108.23,496.93 108.73,495.98 109.22,496.87 109.72,495.66 110.21,496.88 110.71,495.51 111.2,496.22 111.7,496.21 112.19,496.32 112.69,496.62 113.18,495.18 113.68,496.59 114.17,496.34 114.66,496.58 115.16,497.38 115.65,497.5 116.15,496.51 116.64,496.16 117.14,494.16 117.63,496.7 118.13,496.73 118.62,495.21 119.12,495.98 119.61,496.87 120.11,496.52 120.6,497.22 121.1,496.47 121.59,496.82 122.09,495.96 122.58,496.67 123.08,495.7 123.57,497.88 124.07,496.7 124.56,496.66 125.06,496.52 125.55,496.2 126.05,496.67 126.54,497.1 127.04,496.49 127.53,496.46 128.03,495.95 128.52,495.38 129.01,497.07 129.51,494.48 130,496.05 130.5,496.31 130.99,497.31 131.49,496.55 131.98,495.8 132.48,496.38 132.97,494.63 133.47,492.67 133.96,495.89 134.46,495.18 134.95,496.02 135.45,492.31 135.94,498.52 136.44,495.88 136.93,496.84 137.43,497.5 137.92,493.54 138.42,500.73 138.91,495.6 139.41,495.99 139.9,496.84 140.4,493.57 140.89,497.23 141.39,496.37 141.88,495.62 142.38,495.64 142.87,495.71 143.37,496.91 143.86,496.12 144.35,496.04 144.85,496.42 145.34,496.81 145.84,497.82 146.33,496.1 146.83,497.75 147.32,497.09 147.82,497.43 148.31,495.53 148.81,496.27 149.3,495.53 149.8,497.55 150.29,495.73 150.79,496.34 151.28,496.2 151.78,495.86 152.27,496.75 152.77,496.98 153.26,497.74 153.76,495.84 154.25,499.44 154.75,497.52 155.24,496.65 155.74,495.9 156.23,493.51 156.73,496.83 157.22,496.39 157.72,497.35 158.21,495.72 158.7,496.8 159.2,496.28 159.69,496.09 160.19,496.2 160.68,495.6 161.18,496.83 161.67,496.76 162.17,496.32 162.66,496.27 163.16,496.95 163.65,497.83 164.15,496.6 164.64,496.08 165.14,498.29 165.63,495.7 166.13,496.74 166.62,496.82 167.12,499.65 167.61,494.78 168.11,497.07 168.6,495.82 169.1,495.89 169.59,499.83 170.09,493.46 170.58,496.28 171.08,495.83 171.57,496.49 172.07,495.34 172.56,495.48 173.06,496.31 173.55,495.88 174.04,496.11 174.54,497.77 175.03,496.99 175.53,496.45 176.02,495.5 176.52,497.12 177.01,494.31 177.51,496.94 178,496.63 178.5,495.92 178.99,496.51 179.49,496.33 179.98,497.32 180.48,496.62 180.97,496.99 181.47,497.54 181.96,497.48 182.46,496.97 182.95,497.05 183.45,495.86 183.94,496.57 184.44,496.08 184.93,496.12 185.43,496.82 185.92,497.08 186.42,495.96 186.91,496.26 187.41,496.63 187.9,495.37" fill="none" stroke="#2e6a36" stroke-width="0.5" stroke-linejoin="round"/>
<circle cx="26.09" cy="497.52" r="1.1" fill="#1f4d26"/>
<circle cx="27.08" cy="498.56" r="1.1" fill="#1f4d26"/>
<circle cx="28.56" cy="495.58" r="1.1" fill="#1f4d26"/>
<circle cx="30.05" cy="494.15" r="1.1" fill="#1f4d26"/>
<circle cx="30.54" cy="499.79" r="1.1" fill="#1f4d26"/>
<circle cx="31.04" cy="497.45" r="1.1" fill="#1f4d26"/>
<circle cx="31.53" cy="497.34" r="1.1" fill="#1f4d26"/>
<circle cx="35.99" cy="499.1" r="1.1" fill="#1f4d26"/>
<circle cx="36.48" cy="495.19" r="1.1" fill="#1f4d26"/>
<circle cx="38.46" cy="497.23" r="1.1" fill="#1f4d26"/>
<circle cx="39.45" cy="494.17" r="1.1" fill="#1f4d26"/>
<circle cx="40.44" cy="493.79" r="1.1" fill="#1f4d26"/>
<circle cx="40.93" cy="493.11" r="1.1" fill="#1f4d26"/>
<circle cx="41.92" cy="495.44" r="1.1" fill="#1f4d26"/>
<circle cx="42.42" cy="495.25" r="1.1" fill="#1f4d26"/>
<circle cx="43.41" cy="495.42" r="1.1" fill="#1f4d26"/>
<circle cx="44.4" cy="493.44" r="1.1" fill="#1f4d26"/>
<circle cx="45.39" cy="497.62" r="1.1" fill="#1f4d26"/>
<circle cx="45.88" cy="495.3" r="1.1" fill="#1f4d26"/>
<circle cx="47.37" cy="497.6" r="1.1" fill="#1f4d26"/>
<circle cx="50.34" cy="495.38" r="1.1" fill="#1f4d26"/>
<circle cx="51.33" cy="495.44" r="1.1" fill="#1f4d26"/>
<circle cx="53.31" cy="495.04" r="1.1" fill="#1f4d26"/>
<circle cx="54.3" cy="499.6" r="1.1" fill="#1f4d26"/>
<circle cx="57.76" cy="497.41" r="1.1" fill="#1f4d26"/>
<circle cx="58.25" cy="497.29" r="1.1" fill="#1f4d26"/>
<circle cx="58.75" cy="497.6" r="1.1" fill="#1f4d26"/>
<circle cx="60.73" cy="494.87" r="1.1" fill="#1f4d26"/>
<circle cx="62.71" cy="494.25" r="1.1" fill="#1f4d26"/>
<circle cx="64.19" cy="497.59" r="1.1" fill="#1f4d26"/>
<circle cx="64.69" cy="497.64" r="1.1" fill="#1f4d26"/>
<circle cx="65.68" cy="495.73" r="1.1" fill="#1f4d26"/>
<circle cx="66.17" cy="493.97" r="1.1" fill="#1f4d26"/>
<circle cx="67.16" cy="491.78" r="1.1" fill="#1f4d26"/>
<circle cx="70.62" cy="500.95" r="1.1" fill="#1f4d26"/>
<circle cx="71.61" cy="498.26" r="1.1" fill="#1f4d26"/>
<circle cx="72.11" cy="497.49" r="1.1" fill="#1f4d26"/>
<circle cx="74.58" cy="498.57" r="1.1" fill="#1f4d26"/>
<circle cx="75.08" cy="497.99" r="1.1" fill="#1f4d26"/>
<circle cx="79.53" cy="494.34" r="1.1" fill="#1f4d26"/>
<circle cx="80.03" cy="495.39" r="1.1" fill="#1f4d26"/>
<circle cx="80.52" cy="497.19" r="1.1" fill="#1f4d26"/>
<circle cx="82.5" cy="501.54" r="1.1" fill="#1f4d26"/>
<circle cx="83.99" cy="498.52" r="1.1" fill="#1f4d26"/>
<circle cx="86.46" cy="495.83" r="1.1" fill="#1f4d26"/>
<circle cx="87.45" cy="499.11" r="1.1" fill="#1f4d26"/>
<circle cx="88.44" cy="495.34" r="1.1" fill="#1f4d26"/>
<circle cx="88.93" cy="495.74" r="1.1" fill="#1f4d26"/>
<circle cx="91.41" cy="497.65" r="1.1" fill="#1f4d26"/>
<circle cx="92.4" cy="494.94" r="1.1" fill="#1f4d26"/>
<circle cx="93.88" cy="494.28" r="1.1" fill="#1f4d26"/>
<circle cx="94.87" cy="494.45" r="1.1" fill="#1f4d26"/>
<circle cx="95.37" cy="492.38" r="1.1" fill="#1f4d26"/>
<circle cx="97.35" cy="500.55" r="1.1" fill="#1f4d26"/>
<circle cx="98.83" cy="497.6" r="1.1" fill="#1f4d26"/>
<circle cx="99.32" cy="497.56" r="1.1" fill="#1f4d26"/>
<circle cx="100.31" cy="495.82" r="1.1" fill="#1f4d26"/>
<circle cx="100.81" cy="495.62" r="1.1" fill="#1f4d26"/>
<circle cx="101.8" cy="495.19" r="1.1" fill="#1f4d26"/>
<circle cx="102.29" cy="498.45" r="1.1" fill="#1f4d26"/>
<circle cx="103.28" cy="492.01" r="1.1" fill="#1f4d26"/>
<circle cx="105.26" cy="493.21" r="1.1" fill="#1f4d26"/>
<circle cx="105.76" cy="495.79" r="1.1" fill="#1f4d26"/>
<circle cx="106.75" cy="495.09" r="1.1" fill="#1f4d26"/>
<circle cx="107.74" cy="497.36" r="1.1" fill="#1f4d26"/>
<circle cx="109.72" cy="495.66" r="1.1" fill="#1f4d26"/>
<circle cx="110.71" cy="495.51" r="1.1" fill="#1f4d26"/>
<circle cx="113.18" cy="495.18" r="1.1" fill="#1f4d26"/>
<circle cx="115.16" cy="497.38" r="1.1" fill="#1f4d26"/>
<circle cx="115.65" cy="497.5" r="1.1" fill="#1f4d26"/>
<circle cx="117.14" cy="494.16" r="1.1" fill="#1f4d26"/>
<circle cx="118.62" cy="495.21" r="1.1" fill="#1f4d26"/>
<circle cx="120.6" cy="497.22" r="1.1" fill="#1f4d26"/>
<circle cx="123.08" cy="495.7" r="1.1" fill="#1f4d26"/>
<circle cx="123.57" cy="497.88" r="1.1" fill="#1f4d26"/>
<circle cx="128.52" cy="495.38" r="1.1" fill="#1f4d26"/>
<circle cx="129.51" cy="494.48" r="1.1" fill="#1f4d26"/>
<circle cx="130.99" cy="497.31" r="1.1" fill="#1f4d26"/>
<circle cx="131.98" cy="495.8" r="1.1" fill="#1f4d26"/>
<circle cx="132.97" cy="494.63" r="1.1" fill="#1f4d26"/>
<circle cx="133.47" cy="492.67" r="1.1" fill="#1f4d26"/>
<circle cx="134.46" cy="495.18" r="1.1" fill="#1f4d26"/>
<circle cx="135.45" cy="492.31" r="1.1" fill="#1f4d26"/>
<circle cx="135.94" cy="498.52" r="1.1" fill="#1f4d26"/>
<circle cx="137.43" cy="497.5" r="1.1" fill="#1f4d26"/>
<circle cx="137.92" cy="493.54" r="1.1" fill="#1f4d26"/>
<circle cx="138.42" cy="500.73" r="1.1" fill="#1f4d26"/>
<circle cx="138.91" cy="495.6" r="1.1" fill="#1f4d26"/>
<circle cx="140.4" cy="493.57" r="1.1" fill="#1f4d26"/>
<circle cx="140.89" cy="497.23" r="1.1" fill="#1f4d26"/>
<circle cx="141.88" cy="495.62" r="1.1" fill="#1f4d26"/>
<circle cx="142.38" cy="495.64" r="1.1" fill="#1f4d26"/>
<circle cx="142.87" cy="495.71" r="1.1" fill="#1f4d26"/>
<circle cx="145.84" cy="497.82" r="1.1" fill="#1f4d26"/>
<circle cx="146.83" cy="497.75" r="1.1" fill="#1f4d26"/>
<circle cx="147.82" cy="497.43" r="1.1" fill="#1f4d26"/>
<circle cx="148.31" cy="495.53" r="1.1" fill="#1f4d26"/>
<circle cx="149.3" cy="495.53" r="1.1" fill="#1f4d26"/>
<circle cx="149.8" cy="497.55" r="1.1" fill="#1f4d26"/>
<circle cx="150.29" cy="495.73" r="1.1" fill="#1f4d26"/>
<circle cx="153.26" cy="497.74" r="1.1" fill="#1f4d26"/>
<circle cx="154.25" cy="499.44" r="1.1" fill="#1f4d26"/>
<circle cx="154.75" cy="497.52" r="1.1" fill="#1f4d26"/>
<circle cx="156.23" cy="493.51" r="1.1" fill="#1f4d26"/>
<circle cx="157.72" cy="497.35" r="1.1" fill="#1f4d26"/>
<circle cx="158.21" cy="495.72" r="1.1" fill="#1f4d26"/>
<circle cx="160.68" cy="495.6" r="1.1" fill="#1f4d26"/>
<circle cx="163.65" cy="497.83" r="1.1" fill="#1f4d26"/>
<circle cx="165.14" cy="498.29" r="1.1" fill="#1f4d26"/>
<circle cx="165.63" cy="495.7" r="1.1" fill="#1f4d26"/>
<circle cx="167.12" cy="499.65" r="1.1" fill="#1f4d26"/>
<circle cx="167.61" cy="494.78" r="1.1" fill="#1f4d26"/>
<circle cx="168.6" cy="495.82" r="1.1" fill="#1f4d26"/>
<circle cx="169.59" cy="499.83" r="1.1" fill="#1f4d26"/>
<circle cx="170.09" cy="493.46" r="1.1" fill="#1f4d26"/>
<circle cx="171.08" cy="495.83" r="1.1" fill="#1f4d26"/>
<circle cx="172.07" cy="495.34" r="1.1" fill="#1f4d26"/>
<circle cx="172.56" cy="495.48" r="1.1" fill="#1f4d26"/>
<circle cx="174.54" cy="497.77" r="1.1" fill="#1f4d26"/>
<circle cx="176.02" cy="495.5" r="1.1" fill="#1f4d26"/>
<circle cx="177.01" cy="494.31" r="1.1" fill="#1f4d26"/>
<circle cx="179.98" cy="497.32" r="1.1" fill="#1f4d26"/>
<circle cx="181.47" cy="497.54" r="1.1" fill="#1f4d26"/>
<circle cx="181.96" cy="497.48" r="1.1" fill="#1f4d26"/>
<circle cx="187.9" cy="495.37" r="1.1" fill="#1f4d26"/>
<line x1="26.6" y1="496.5" x2="26.6" y2="514.3" stroke="#2e6a36" stroke-width="0.9"/>
<circle cx="26.6" cy="514.3" r="1.0" fill="#2b3d2b"/>
<line x1="27.7" y1="496.5" x2="27.7" y2="502.8" stroke="#2e6a36" stroke-width="0.9"/>
<circle cx="27.7" cy="502.8" r="1.0" fill="#2b3d2b"/>
<line x1="32.3" y1="496.5" x2="32.3" y2="490.3" stroke="#2e6a36" stroke-width="0.9"/>
<circle cx="32.3" cy="490.3" r="1.0" fill="#2b3d2b"/>
<line x1="32.3" y1="496.5" x2="32.3" y2="501.9" stroke="#2e6a36" stroke-width="0.9"/>
<circle cx="32.3" cy="501.9" r="1.0" fill="#2b3d2b"/>
<line x1="34.3" y1="496.5" x2="34.3" y2="507.8" stroke="#2e6a36" stroke-width="0.9"/>
<circle cx="34.3" cy="507.8" r="1.0" fill="#2b3d2b"/>
<line x1="50.7" y1="496.5" x2="50.7" y2="474" stroke="#2e6a36" stroke-width="0.9"/>
<circle cx="50.7" cy="474" r="1.0" fill="#2b3d2b"/>
<line x1="56.8" y1="496.5" x2="56.8" y2="489.2" stroke="#2e6a36" stroke-width="0.9"/>
<circle cx="56.8" cy="489.2" r="1.0" fill="#2b3d2b"/>
<line x1="56.8" y1="496.5" x2="56.8" y2="503.4" stroke="#2e6a36" stroke-width="0.9"/>
<circle cx="56.8" cy="503.4" r="1.0" fill="#2b3d2b"/>
<line x1="62.2" y1="496.5" x2="62.2" y2="488.1" stroke="#2e6a36" stroke-width="0.9"/>
<circle cx="62.2" cy="488.1" r="1.0" fill="#2b3d2b"/>
<line x1="65.9" y1="496.5" x2="65.9" y2="470.7" stroke="#2e6a36" stroke-width="0.9"/>
<circle cx="65.9" cy="470.7" r="1.0" fill="#2b3d2b"/>
<line x1="65.9" y1="496.5" x2="65.9" y2="511" stroke="#2e6a36" stroke-width="0.9"/>
<circle cx="65.9" cy="511" r="1.0" fill="#2b3d2b"/>
<line x1="68.8" y1="496.5" x2="68.8" y2="509.3" stroke="#2e6a36" stroke-width="0.9"/>
<circle cx="68.8" cy="509.3" r="1.0" fill="#2b3d2b"/>
<line x1="112.6" y1="496.5" x2="112.6" y2="506.7" stroke="#2e6a36" stroke-width="0.9"/>
<circle cx="112.6" cy="506.7" r="1.0" fill="#2b3d2b"/>
<line x1="131.6" y1="496.5" x2="131.6" y2="507.1" stroke="#2e6a36" stroke-width="0.9"/>
<circle cx="131.6" cy="507.1" r="1.0" fill="#2b3d2b"/>
<line x1="106" y1="496.5" x2="106" y2="492.5" stroke="#2e6a36" stroke-width="0.9"/>
<circle cx="106" cy="492.5" r="1.0" fill="#2b3d2b"/>
<line x1="95.6" y1="496.5" x2="95.6" y2="501.2" stroke="#2e6a36" stroke-width="0.9"/>
<circle cx="95.6" cy="501.2" r="1.0" fill="#2b3d2b"/>
<line x1="136.6" y1="496.5" x2="136.6" y2="454.7" stroke="#9a5a48" stroke-width="0.9"/>
<circle cx="136.6" cy="454.7" r="1.0" fill="#2b3d2b"/>
<line x1="136.6" y1="496.5" x2="136.6" y2="504.5" stroke="#2e6a36" stroke-width="0.9"/>
<circle cx="136.6" cy="504.5" r="1.0" fill="#2b3d2b"/>
<line x1="133.3" y1="496.5" x2="133.3" y2="506.7" stroke="#2e6a36" stroke-width="0.9"/>
<circle cx="133.3" cy="506.7" r="1.0" fill="#2b3d2b"/>
<line x1="140.9" y1="496.5" x2="140.9" y2="486.6" stroke="#2e6a36" stroke-width="0.9"/>
<circle cx="140.9" cy="486.6" r="1.0" fill="#2b3d2b"/>
<line x1="146.4" y1="496.5" x2="146.4" y2="424.8" stroke="#9a5a48" stroke-width="0.9"/>
<circle cx="146.4" cy="424.8" r="1.0" fill="#2b3d2b"/>
<line x1="149.7" y1="496.5" x2="149.7" y2="504.5" stroke="#2e6a36" stroke-width="0.9"/>
<circle cx="149.7" cy="504.5" r="1.0" fill="#2b3d2b"/>
<line x1="152.9" y1="496.5" x2="152.9" y2="463" stroke="#9a5a48" stroke-width="0.9"/>
<circle cx="152.9" cy="463" r="1.0" fill="#2b3d2b"/>
<line x1="154" y1="496.5" x2="154" y2="480.5" stroke="#9a5a48" stroke-width="0.9"/>
<circle cx="154" cy="480.5" r="1.0" fill="#2b3d2b"/>
<line x1="159.5" y1="496.5" x2="159.5" y2="445.6" stroke="#9a5a48" stroke-width="0.9"/>
<circle cx="159.5" cy="445.6" r="1.0" fill="#2b3d2b"/>
<line x1="161.7" y1="496.5" x2="161.7" y2="487" stroke="#2e6a36" stroke-width="0.9"/>
<circle cx="161.7" cy="487" r="1.0" fill="#2b3d2b"/>
<line x1="167.6" y1="496.5" x2="167.6" y2="465.7" stroke="#9a5a48" stroke-width="0.9"/>
<circle cx="167.6" cy="465.7" r="1.0" fill="#2b3d2b"/>
<line x1="166" y1="496.5" x2="166" y2="503.4" stroke="#2e6a36" stroke-width="0.9"/>
<circle cx="166" cy="503.4" r="1.0" fill="#2b3d2b"/>
<line x1="173.7" y1="496.5" x2="173.7" y2="506.7" stroke="#2e6a36" stroke-width="0.9"/>
<circle cx="173.7" cy="506.7" r="1.0" fill="#2b3d2b"/>
<line x1="181.3" y1="496.5" x2="181.3" y2="485.3" stroke="#2e6a36" stroke-width="0.9"/>
<circle cx="181.3" cy="485.3" r="1.0" fill="#2b3d2b"/>
<line x1="182.8" y1="496.5" x2="182.8" y2="511" stroke="#2e6a36" stroke-width="0.9"/>
<circle cx="182.8" cy="511" r="1.0" fill="#2b3d2b"/>
<line x1="187.9" y1="496.5" x2="187.9" y2="485.3" stroke="#2e6a36" stroke-width="0.9"/>
<circle cx="187.9" cy="485.3" r="1.0" fill="#2b3d2b"/>
<line x1="177.5" y1="424.8" x2="177.5" y2="514.3" stroke="#c8c8da" stroke-width="1"/>
<line x1="177.5" y1="424.8" x2="177.5" y2="514.3" stroke="#7c7ca8" stroke-width="1" stroke-dasharray="1,1"/>
<line x1="187.5" y1="424.8" x2="187.5" y2="514.3" stroke="#c8c8da" stroke-width="1"/>
<line x1="187.5" y1="424.8" x2="187.5" y2="514.3" stroke="#7c7ca8" stroke-width="1" stroke-dasharray="1,1"/>
<rect x="17.6" y="420.4" width="178.9" height="106.6" fill="none" stroke="#a2a2a2" stroke-width="1.1"/>
<rect x="151.3" y="421" width="44.1" height="11.8" fill="#fff" fill-opacity="0.85" stroke="#dcdcdc" stroke-width="0.6" rx="0.6"/>
<line x1="153.1" y1="424.5" x2="159.6" y2="424.5" stroke="#6668b4" stroke-width="0.9" stroke-dasharray="1.2,0.8"/>
<line x1="153.1" y1="429.5" x2="159.6" y2="429.5" stroke="#dccf78" stroke-width="0.9" stroke-dasharray="1.2,0.8"/>
<text x="161.2" y="425.8" class="t" font-size="3.6">2021-10-30 17:30</text>
<text x="161.2" y="430.8" class="t" font-size="3.58">anomalous volumes</text>
<text x="107.05" y="418.65" class="t" font-size="4.3" text-anchor="middle">NEBL_2021-10-30 17:30</text>
<line x1="15.8" y1="429.8" x2="17.6" y2="429.8" stroke="#a2a2a2" stroke-width="0.7"/>
<text x="15.4" y="431.7" class="t" font-size="3.9" text-anchor="end">0.6</text>
<line x1="15.8" y1="451.9" x2="17.6" y2="451.9" stroke="#a2a2a2" stroke-width="0.7"/>
<text x="15.4" y="453.8" class="t" font-size="3.9" text-anchor="end">0.4</text>
<line x1="15.8" y1="474" x2="17.6" y2="474" stroke="#a2a2a2" stroke-width="0.7"/>
<text x="15.4" y="475.9" class="t" font-size="3.9" text-anchor="end">0.2</text>
<line x1="15.8" y1="496.1" x2="17.6" y2="496.1" stroke="#a2a2a2" stroke-width="0.7"/>
<text x="15.4" y="498" class="t" font-size="3.9" text-anchor="end">0.0</text>
<line x1="15.8" y1="518.2" x2="17.6" y2="518.2" stroke="#a2a2a2" stroke-width="0.7"/>
<text x="15.4" y="520.1" class="t" font-size="3.9" text-anchor="end">−0.2</text>
<text x="0" y="0" class="t" font-size="3.75" text-anchor="middle" transform="translate(6.3,473.7) rotate(-90)">bis_volume</text>
<line x1="25" y1="527" x2="25" y2="528.4" stroke="#a2a2a2" stroke-width="0.5"/>
<text class="k" transform="translate(25.95,529.8) rotate(-90)" text-anchor="end">48</text>
<text class="k" transform="translate(25.95,534.9) rotate(-90)" text-anchor="end">25</text>
<line x1="28.8" y1="527" x2="28.8" y2="528.4" stroke="#a2a2a2" stroke-width="0.5"/>
<text class="k" transform="translate(29.75,529.8) rotate(-90)" text-anchor="end">31</text>
<text class="k" transform="translate(29.75,534.9) rotate(-90)" text-anchor="end">08</text>
<line x1="30.7" y1="527" x2="30.7" y2="528.4" stroke="#a2a2a2" stroke-width="0.5"/>
<text class="k" transform="translate(31.65,529.8) rotate(-90)" text-anchor="end">24</text>
<text class="k" transform="translate(31.65,534.9) rotate(-90)" text-anchor="end">18</text>
<line x1="33.2" y1="527" x2="33.2" y2="528.4" stroke="#a2a2a2" stroke-width="0.5"/>
<text class="k" transform="translate(34.15,529.8) rotate(-90)" text-anchor="end">26</text>
<text class="k" transform="translate(34.15,534.9) rotate(-90)" text-anchor="end">28</text>
<line x1="38.8" y1="527" x2="38.8" y2="528.4" stroke="#a2a2a2" stroke-width="0.5"/>
<text class="k" transform="translate(39.75,529.8) rotate(-90)" text-anchor="end">17</text>
<text class="k" transform="translate(39.75,534.9) rotate(-90)" text-anchor="end">25</text>
<line x1="46.9" y1="527" x2="46.9" y2="528.4" stroke="#a2a2a2" stroke-width="0.5"/>
<text class="k" transform="translate(47.85,529.8) rotate(-90)" text-anchor="end">15</text>
<text class="k" transform="translate(47.85,534.9) rotate(-90)" text-anchor="end">24</text>
<line x1="55.1" y1="527" x2="55.1" y2="528.4" stroke="#a2a2a2" stroke-width="0.5"/>
<text class="k" transform="translate(56.05,529.8) rotate(-90)" text-anchor="end">33</text>
<text class="k" transform="translate(56.05,534.9) rotate(-90)" text-anchor="end">28</text>
<line x1="60.4" y1="527" x2="60.4" y2="528.4" stroke="#a2a2a2" stroke-width="0.5"/>
<text class="k" transform="translate(61.35,529.8) rotate(-90)" text-anchor="end">44</text>
<text class="k" transform="translate(61.35,534.9) rotate(-90)" text-anchor="end">05</text>
<line x1="67.8" y1="527" x2="67.8" y2="528.4" stroke="#a2a2a2" stroke-width="0.5"/>
<text class="k" transform="translate(68.75,529.8) rotate(-90)" text-anchor="end">50</text>
<text class="k" transform="translate(68.75,534.9) rotate(-90)" text-anchor="end">21</text>
<line x1="75.4" y1="527" x2="75.4" y2="528.4" stroke="#a2a2a2" stroke-width="0.5"/>
<text class="k" transform="translate(76.35,529.8) rotate(-90)" text-anchor="end">27</text>
<text class="k" transform="translate(76.35,534.9) rotate(-90)" text-anchor="end">11</text>
<line x1="77.9" y1="527" x2="77.9" y2="528.4" stroke="#a2a2a2" stroke-width="0.5"/>
<text class="k" transform="translate(78.85,529.8) rotate(-90)" text-anchor="end">31</text>
<text class="k" transform="translate(78.85,534.9) rotate(-90)" text-anchor="end">04</text>
<line x1="84.8" y1="527" x2="84.8" y2="528.4" stroke="#a2a2a2" stroke-width="0.5"/>
<text class="k" transform="translate(85.75,529.8) rotate(-90)" text-anchor="end">06</text>
<text class="k" transform="translate(85.75,534.9) rotate(-90)" text-anchor="end">00</text>
<line x1="90.8" y1="527" x2="90.8" y2="528.4" stroke="#a2a2a2" stroke-width="0.5"/>
<text class="k" transform="translate(91.75,529.8) rotate(-90)" text-anchor="end">51</text>
<text class="k" transform="translate(91.75,534.9) rotate(-90)" text-anchor="end">20</text>
<line x1="95.8" y1="527" x2="95.8" y2="528.4" stroke="#a2a2a2" stroke-width="0.5"/>
<text class="k" transform="translate(96.75,529.8) rotate(-90)" text-anchor="end">54</text>
<text class="k" transform="translate(96.75,534.9) rotate(-90)" text-anchor="end">12</text>
<line x1="101.1" y1="527" x2="101.1" y2="528.4" stroke="#a2a2a2" stroke-width="0.5"/>
<text class="k" transform="translate(102.05,529.8) rotate(-90)" text-anchor="end">08</text>
<text class="k" transform="translate(102.05,534.9) rotate(-90)" text-anchor="end">01</text>
<line x1="107.4" y1="527" x2="107.4" y2="528.4" stroke="#a2a2a2" stroke-width="0.5"/>
<text class="k" transform="translate(108.35,529.8) rotate(-90)" text-anchor="end">39</text>
<text class="k" transform="translate(108.35,534.9) rotate(-90)" text-anchor="end">04</text>
<line x1="113.6" y1="527" x2="113.6" y2="528.4" stroke="#a2a2a2" stroke-width="0.5"/>
<text class="k" transform="translate(114.55,529.8) rotate(-90)" text-anchor="end">46</text>
<text class="k" transform="translate(114.55,534.9) rotate(-90)" text-anchor="end">06</text>
<line x1="120.8" y1="527" x2="120.8" y2="528.4" stroke="#a2a2a2" stroke-width="0.5"/>
<text class="k" transform="translate(121.75,529.8) rotate(-90)" text-anchor="end">54</text>
<text class="k" transform="translate(121.75,534.9) rotate(-90)" text-anchor="end">20</text>
<line x1="124.5" y1="527" x2="124.5" y2="528.4" stroke="#a2a2a2" stroke-width="0.5"/>
<text class="k" transform="translate(125.45,529.8) rotate(-90)" text-anchor="end">48</text>
<text class="k" transform="translate(125.45,534.9) rotate(-90)" text-anchor="end">05</text>
<line x1="126.4" y1="527" x2="126.4" y2="528.4" stroke="#a2a2a2" stroke-width="0.5"/>
<text class="k" transform="translate(127.35,529.8) rotate(-90)" text-anchor="end">01</text>
<text class="k" transform="translate(127.35,534.9) rotate(-90)" text-anchor="end">06</text>
<line x1="128" y1="527" x2="128" y2="528.4" stroke="#a2a2a2" stroke-width="0.5"/>
<text class="k" transform="translate(128.95,529.8) rotate(-90)" text-anchor="end">37</text>
<text class="k" transform="translate(128.95,534.9) rotate(-90)" text-anchor="end">00</text>
<line x1="132.7" y1="527" x2="132.7" y2="528.4" stroke="#a2a2a2" stroke-width="0.5"/>
<text class="k" transform="translate(133.65,529.8) rotate(-90)" text-anchor="end">07</text>
<text class="k" transform="translate(133.65,534.9) rotate(-90)" text-anchor="end">23</text>
<line x1="140.2" y1="527" x2="140.2" y2="528.4" stroke="#a2a2a2" stroke-width="0.5"/>
<text class="k" transform="translate(141.15,529.8) rotate(-90)" text-anchor="end">56</text>
<text class="k" transform="translate(141.15,534.9) rotate(-90)" text-anchor="end">17</text>
<line x1="148.3" y1="527" x2="148.3" y2="528.4" stroke="#a2a2a2" stroke-width="0.5"/>
<text class="k" transform="translate(149.25,529.8) rotate(-90)" text-anchor="end">51</text>
<text class="k" transform="translate(149.25,534.9) rotate(-90)" text-anchor="end">23</text>
<line x1="159.2" y1="527" x2="159.2" y2="528.4" stroke="#a2a2a2" stroke-width="0.5"/>
<text class="k" transform="translate(160.15,529.8) rotate(-90)" text-anchor="end">29</text>
<text class="k" transform="translate(160.15,534.9) rotate(-90)" text-anchor="end">20</text>
<line x1="172.1" y1="527" x2="172.1" y2="528.4" stroke="#a2a2a2" stroke-width="0.5"/>
<text class="k" transform="translate(173.05,529.8) rotate(-90)" text-anchor="end">58</text>
<text class="k" transform="translate(173.05,534.9) rotate(-90)" text-anchor="end">03</text>
<line x1="182" y1="527" x2="182" y2="528.4" stroke="#a2a2a2" stroke-width="0.5"/>
<text class="k" transform="translate(182.95,529.8) rotate(-90)" text-anchor="end">38</text>
<text class="k" transform="translate(182.95,534.9) rotate(-90)" text-anchor="end">15</text>
<line x1="176.5" y1="527" x2="176.5" y2="528.4" stroke="#a2a2a2" stroke-width="0.5"/>
<text class="k" transform="translate(177.45,529.8) rotate(-90)" text-anchor="end">22</text>
<text class="k" transform="translate(177.45,534.9) rotate(-90)" text-anchor="end">03</text>
<text class="k" transform="translate(177.45,540.2) rotate(-90)" text-anchor="end">59</text>
<line x1="187" y1="527" x2="187" y2="528.4" stroke="#a2a2a2" stroke-width="0.5"/>
<text class="k" transform="translate(187.95,529.8) rotate(-90)" text-anchor="end">49</text>
<text class="k" transform="translate(187.95,534.9) rotate(-90)" text-anchor="end">24</text>
<text class="k" transform="translate(187.95,540.2) rotate(-90)" text-anchor="end">55</text>
<text x="107.05" y="548.4" class="t" font-size="3.7" text-anchor="middle">datetime</text>
<line x1="223.5" y1="472.9" x2="387.2" y2="472.9" stroke="#e0d8a6" stroke-width="1" stroke-dasharray="3,0.7"/>
<line x1="223.5" y1="481.6" x2="387.2" y2="481.6" stroke="#e0d8a6" stroke-width="1" stroke-dasharray="3,0.7"/>
<line x1="223.5" y1="477.2" x2="387.2" y2="477.2" stroke="#2d3d22" stroke-width="2.4"/>
<polyline points="223.5,476.73 223.89,476.94 224.28,477.16 224.67,477.3 225.06,477.2 225.45,477.47 225.84,477.17 226.23,477.37 226.63,477.49 227.02,477.05 227.41,477.31 227.8,477.25 228.19,477.18 228.58,477.35 228.97,477.23 229.36,477.47 229.75,477.1 230.14,477.53 230.53,477.45 230.92,476.99 231.31,476.95 231.7,477.09 232.1,477.36 232.49,476.68 232.88,477.27 233.27,476.98 233.66,477.02 234.05,477.19 234.44,476.99 234.83,477.11 235.22,477.01 235.61,476.77 236,476.4 236.39,477.39 236.78,477.19 237.17,477.4 237.56,477.52 237.96,476.89 238.35,477.57 238.74,476.98 239.13,477.02 239.52,477.32 239.91,477.1 240.3,477.01 240.69,477.3 241.08,477.34 241.47,477.04 241.86,477.66 242.25,477.56 242.64,476.93 243.03,477.09 243.43,477.37 243.82,477.6 244.21,477.14 244.6,477.15 244.99,477.15 245.38,477.11 245.77,477.13 246.16,476.8 246.55,477.4 246.94,477.46 247.33,476.88 247.72,477.18 248.11,477.24 248.5,477.33 248.89,476.92 249.29,477.37 249.68,477.28 250.07,477.47 250.46,477.15 250.85,476.88 251.24,477.02 251.63,477.27 252.02,477.39 252.41,476.85 252.8,476.89 253.19,477.27 253.58,477.56 253.97,477.48 254.36,477.14 254.76,477.05 255.15,477.24 255.54,477.1 255.93,477.24 256.32,477.51 256.71,477.31 257.1,477.13 257.49,477.34 257.88,477.39 258.27,477.29 258.66,477 259.05,477.18 259.44,477.17 259.83,477.29 260.23,477.7 260.62,477.17 261.01,477.34 261.4,477.32 261.79,477.08 262.18,477.24 262.57,477.11 262.96,477.39 263.35,477.24 263.74,476.99 264.13,477.11 264.52,476.84 264.91,477.08 265.3,477.48 265.69,477.15 266.09,477.09 266.48,477.24 266.87,477.18 267.26,477.35 267.65,477.06 268.04,477.18 268.43,477.29 268.82,477.08 269.21,477.43 269.6,477.62 269.99,477.1 270.38,477.31 270.77,477.11 271.16,476.97 271.56,477.45 271.95,477.22 272.34,477.14 272.73,477.27 273.12,477.05 273.51,477.52 273.9,477.23 274.29,477.21 274.68,477.17 275.07,477.07 275.46,477.1 275.85,477.01 276.24,477.09 276.63,477.15 277.02,477.06 277.42,477.1 277.81,477.01 278.2,477.1 278.59,476.67 278.98,476.92 279.37,477.42 279.76,477.24 280.15,477.35 280.54,477.26 280.93,477.38 281.32,476.91 281.71,477.1 282.1,477.26 282.49,477.21 282.89,477.26 283.28,477.52 283.67,477.07 284.06,477.21 284.45,477.39 284.84,477.09 285.23,477.3 285.62,477.03 286.01,477.4 286.4,477.11 286.79,477.25 287.18,477.25 287.57,477.41 287.96,477.09 288.35,476.85 288.75,477.5 289.14,477.57 289.53,477.09 289.92,476.97 290.31,477.19 290.7,477.37 291.09,477.64 291.48,476.94 291.87,477.13 292.26,477.33 292.65,477.37 293.04,477.44 293.43,477.5 293.82,477.16 294.22,477.48 294.61,477.21 295,477.33 295.39,477.47 295.78,477.32 296.17,477.19 296.56,477.2 296.95,477.02 297.34,477.1 297.73,477.08 298.12,477.27 298.51,476.95 298.9,476.96 299.29,476.9 299.68,477.07 300.08,477.28 300.47,477.1 300.86,477.04 301.25,477.17 301.64,476.61 302.03,477.24 302.42,477.29 302.81,476.88 303.2,477.4 303.59,477.33 303.98,477.19 304.37,477.48 304.76,477.29 305.15,477.21 305.55,477.02 305.94,477.18 306.33,477.22 306.72,477.58 307.11,477.35 307.5,477.54 307.89,477.16 308.28,477.04 308.67,477.57 309.06,477.46 309.45,477.21 309.84,477.38 310.23,477.28 310.62,477.13 311.02,477.24 311.41,477.09 311.8,476.77 312.19,477.19 312.58,477.49 312.97,477.04 313.36,476.87 313.75,477.22 314.14,477 314.53,477.22 314.92,477.23 315.31,476.9 315.7,477.34 316.09,477.3 316.48,476.54 316.88,477.29 317.27,477.08 317.66,477.37 318.05,477.2 318.44,477.4 318.83,477.01 319.22,477.54 319.61,477.01 320,477.39 320.39,477.32 320.78,477.23 321.17,477.42 321.56,477.07 321.95,477.41 322.35,477.28 322.74,476.98 323.13,477.52 323.52,477.39 323.91,477.25 324.3,477.22 324.69,477.19 325.08,477.11 325.47,477.31 325.86,477.22 326.25,477.2 326.64,476.98 327.03,477.41 327.42,476.8 327.81,477.31 328.21,477.12 328.6,477.23 328.99,476.65 329.38,477.49 329.77,477.32 330.16,477.23 330.55,477.11 330.94,477.42 331.33,477.03 331.72,477.04 332.11,477.22 332.5,477.35 332.89,477.4 333.28,477.14 333.68,477.09 334.07,477.51 334.46,476.69 334.85,477.6 335.24,477.08 335.63,477.05 336.02,476.98 336.41,476.59 336.8,477.38 337.19,476.89 337.58,477.46 337.97,477.48 338.36,476.92 338.75,477.26 339.14,477.08 339.54,476.65 339.93,477.42 340.32,477.11 340.71,477.33 341.1,477.29 341.49,476.99 341.88,477.58 342.27,477.05 342.66,477.55 343.05,477.4 343.44,477.44 343.83,476.95 344.22,477.41 344.61,477.29 345.01,477.24 345.4,477.27 345.79,477.22 346.18,477.34 346.57,477.13 346.96,477.28 347.35,477.03 347.74,477.13 348.13,477.17 348.52,477.05 348.91,477.51 349.3,477.29 349.69,476.84 350.08,477.2 350.47,476.97 350.87,477.5 351.26,477.22 351.65,477.16 352.04,476.81 352.43,477.01 352.82,477.16 353.21,477.51 353.6,477.49 353.99,476.81 354.38,477.24 354.77,476.99 355.16,477.26 355.55,477.28 355.94,477.35 356.34,477.32 356.73,476.98 357.12,477.15 357.51,476.99 357.9,477.18 358.29,476.71 358.68,477.08 359.07,476.97 359.46,476.99 359.85,477.1 360.24,477.24 360.63,477.14 361.02,477.02 361.41,477.64 361.81,477.44 362.2,476.94 362.59,477.38 362.98,477.11 363.37,476.94 363.76,477.3 364.15,477.26 364.54,477.49 364.93,477.27 365.32,477.17 365.71,477.38 366.1,476.81 366.49,477.19 366.88,476.94 367.27,476.86 367.67,477.1 368.06,476.97 368.45,477.1 368.84,477.07 369.23,476.95 369.62,477.2 370.01,477.14 370.4,477.01 370.79,477.36 371.18,477.16 371.57,477.42 371.96,477.57 372.35,477.33 372.74,477.25 373.14,477.11 373.53,477.19 373.92,477.51 374.31,477.35 374.7,477.16 375.09,477.09 375.48,477.3 375.87,477.29 376.26,477.47 376.65,477.33 377.04,477.06 377.43,477.29 377.82,477.22 378.21,477.08 378.6,476.93 379,477.01 379.39,477.1 379.78,477.29 380.17,477.37 380.56,476.96 380.95,477.97 381.34,477.23 381.73,477.32 382.12,477.14 382.51,477.59 382.9,477.3 383.29,477.41 383.68,477.36 384.07,477.06 384.47,477.26 384.86,477.25 385.25,476.78 385.64,476.94 386.03,477.17 386.42,477.21 386.81,477.34 387.2,477.58" fill="none" stroke="#2d3d22" stroke-width="0.5" stroke-linejoin="round"/>
<circle cx="236" cy="476.4" r="1.1" fill="#1f4d26"/>
<circle cx="380.95" cy="477.97" r="1.1" fill="#1f4d26"/>
<line x1="386.8" y1="477.2" x2="386.8" y2="424.8" stroke="#4a3a48" stroke-width="0.9"/>
<circle cx="386.8" cy="424.8" r="1.0" fill="#2b3d2b"/>
<line x1="386.8" y1="477.2" x2="386.8" y2="522.4" stroke="#4a3a48" stroke-width="0.9"/>
<circle cx="386.8" cy="522.4" r="1.0" fill="#2b3d2b"/>
<line x1="386.8" y1="477.2" x2="386.8" y2="482.7" stroke="#4a3a48" stroke-width="0.9"/>
<circle cx="386.8" cy="482.7" r="1.0" fill="#2b3d2b"/>
<line x1="233" y1="477.2" x2="233" y2="474" stroke="#2d3d22" stroke-width="0.9"/>
<circle cx="233" cy="474" r="1.0" fill="#2b3d2b"/>
<line x1="264" y1="477.2" x2="264" y2="474" stroke="#2d3d22" stroke-width="0.9"/>
<circle cx="264" cy="474" r="1.0" fill="#2b3d2b"/>
<line x1="298" y1="477.2" x2="298" y2="474" stroke="#2d3d22" stroke-width="0.9"/>
<circle cx="298" cy="474" r="1.0" fill="#2b3d2b"/>
<line x1="376" y1="477.2" x2="376" y2="475" stroke="#2d3d22" stroke-width="0.9"/>
<circle cx="376" cy="475" r="1.0" fill="#2b3d2b"/>
<line x1="378" y1="477.2" x2="378" y2="479.5" stroke="#2d3d22" stroke-width="0.9"/>
<circle cx="378" cy="479.5" r="1.0" fill="#2b3d2b"/>
<line x1="380" y1="477.2" x2="380" y2="474.8" stroke="#2d3d22" stroke-width="0.9"/>
<circle cx="380" cy="474.8" r="1.0" fill="#2b3d2b"/>
<line x1="382" y1="477.2" x2="382" y2="479.8" stroke="#2d3d22" stroke-width="0.9"/>
<circle cx="382" cy="479.8" r="1.0" fill="#2b3d2b"/>
<line x1="384" y1="477.2" x2="384" y2="475" stroke="#2d3d22" stroke-width="0.9"/>
<circle cx="384" cy="475" r="1.0" fill="#2b3d2b"/>
<line x1="385.5" y1="477.2" x2="385.5" y2="479.5" stroke="#2d3d22" stroke-width="0.9"/>
<circle cx="385.5" cy="479.5" r="1.0" fill="#2b3d2b"/>
<line x1="374" y1="477.2" x2="374" y2="479" stroke="#2d3d22" stroke-width="0.9"/>
<circle cx="374" cy="479" r="1.0" fill="#2b3d2b"/>
<line x1="371.5" y1="424.8" x2="371.5" y2="522.4" stroke="#c8c8da" stroke-width="1"/>
<line x1="371.5" y1="424.8" x2="371.5" y2="522.4" stroke="#7c7ca8" stroke-width="1" stroke-dasharray="1,1"/>
<line x1="386.5" y1="424.8" x2="386.5" y2="522.4" stroke="#c8c8da" stroke-width="1"/>
<line x1="386.5" y1="424.8" x2="386.5" y2="522.4" stroke="#7c7ca8" stroke-width="1" stroke-dasharray="1,1"/>
<line x1="386.5" y1="424.8" x2="386.5" y2="522.4" stroke="#5a4660" stroke-width="1"/>
<circle cx="386.5" cy="424.8" r="1.0" fill="#3a2a30"/>
<circle cx="386.5" cy="522.4" r="1.0" fill="#3a2a30"/>
<rect x="216.5" y="420.5" width="178.5" height="106.5" fill="none" stroke="#a2a2a2" stroke-width="1.1"/>
<rect x="216.8" y="421" width="45.4" height="10.8" fill="#fff" fill-opacity="0.85" stroke="#dcdcdc" stroke-width="0.6" rx="0.6"/>
<line x1="219.4" y1="424.6" x2="224.4" y2="424.6" stroke="#6668b4" stroke-width="0.9" stroke-dasharray="1.2,0.8"/>
<line x1="219.4" y1="429.25" x2="224.4" y2="429.25" stroke="#dccf78" stroke-width="0.9" stroke-dasharray="1.2,0.8"/>
<text x="228" y="425.9" class="t" font-size="3.6">2021-12-5 15:00</text>
<text x="228" y="430.55" class="t" font-size="3.58">anomalous volumes</text>
<text x="305.75" y="418.65" class="t" font-size="4.3" text-anchor="middle">NEBL_2021-12-5 15:00</text>
<line x1="214.7" y1="423.3" x2="216.5" y2="423.3" stroke="#a2a2a2" stroke-width="0.7"/>
<text x="214.3" y="425.2" class="t" font-size="3.9" text-anchor="end">30</text>
<line x1="214.7" y1="441.1" x2="216.5" y2="441.1" stroke="#a2a2a2" stroke-width="0.7"/>
<text x="214.3" y="443" class="t" font-size="3.9" text-anchor="end">20</text>
<line x1="214.7" y1="459.1" x2="216.5" y2="459.1" stroke="#a2a2a2" stroke-width="0.7"/>
<text x="214.3" y="461" class="t" font-size="3.9" text-anchor="end">10</text>
<line x1="214.7" y1="476.9" x2="216.5" y2="476.9" stroke="#a2a2a2" stroke-width="0.7"/>
<text x="214.3" y="478.8" class="t" font-size="3.9" text-anchor="end">0</text>
<line x1="214.7" y1="494.9" x2="216.5" y2="494.9" stroke="#a2a2a2" stroke-width="0.7"/>
<text x="214.3" y="496.8" class="t" font-size="3.9" text-anchor="end">−10</text>
<line x1="214.7" y1="512.9" x2="216.5" y2="512.9" stroke="#a2a2a2" stroke-width="0.7"/>
<text x="214.3" y="514.8" class="t" font-size="3.9" text-anchor="end">−20</text>
<text x="0" y="0" class="t" font-size="3.75" text-anchor="middle" transform="translate(205.9,473.75) rotate(-90)">bis_volume</text>
<line x1="223.6" y1="527" x2="223.6" y2="528.4" stroke="#a2a2a2" stroke-width="0.5"/>
<text class="k" transform="translate(224.55,529.8) rotate(-90)" text-anchor="end">30</text>
<text class="k" transform="translate(224.55,534.9) rotate(-90)" text-anchor="end">28</text>
<line x1="225.8" y1="527" x2="225.8" y2="528.4" stroke="#a2a2a2" stroke-width="0.5"/>
<text class="k" transform="translate(226.75,529.8) rotate(-90)" text-anchor="end">39</text>
<text class="k" transform="translate(226.75,534.9) rotate(-90)" text-anchor="end">18</text>
<line x1="228" y1="527" x2="228" y2="528.4" stroke="#a2a2a2" stroke-width="0.5"/>
<text class="k" transform="translate(228.95,529.8) rotate(-90)" text-anchor="end">09</text>
<text class="k" transform="translate(228.95,534.9) rotate(-90)" text-anchor="end">15</text>
<line x1="230.3" y1="527" x2="230.3" y2="528.4" stroke="#a2a2a2" stroke-width="0.5"/>
<text class="k" transform="translate(231.25,529.8) rotate(-90)" text-anchor="end">41</text>
<text class="k" transform="translate(231.25,534.9) rotate(-90)" text-anchor="end">07</text>
<line x1="233" y1="527" x2="233" y2="528.4" stroke="#a2a2a2" stroke-width="0.5"/>
<text class="k" transform="translate(233.95,529.8) rotate(-90)" text-anchor="end">28</text>
<text class="k" transform="translate(233.95,534.9) rotate(-90)" text-anchor="end">11</text>
<line x1="235.5" y1="527" x2="235.5" y2="528.4" stroke="#a2a2a2" stroke-width="0.5"/>
<text class="k" transform="translate(236.45,529.8) rotate(-90)" text-anchor="end">59</text>
<text class="k" transform="translate(236.45,534.9) rotate(-90)" text-anchor="end">26</text>
<line x1="245.8" y1="527" x2="245.8" y2="528.4" stroke="#a2a2a2" stroke-width="0.5"/>
<text class="k" transform="translate(246.75,529.8) rotate(-90)" text-anchor="end">41</text>
<text class="k" transform="translate(246.75,534.9) rotate(-90)" text-anchor="end">28</text>
<line x1="248.1" y1="527" x2="248.1" y2="528.4" stroke="#a2a2a2" stroke-width="0.5"/>
<text class="k" transform="translate(249.05,529.8) rotate(-90)" text-anchor="end">06</text>
<text class="k" transform="translate(249.05,534.9) rotate(-90)" text-anchor="end">11</text>
<line x1="250.3" y1="527" x2="250.3" y2="528.4" stroke="#a2a2a2" stroke-width="0.5"/>
<text class="k" transform="translate(251.25,529.8) rotate(-90)" text-anchor="end">49</text>
<text class="k" transform="translate(251.25,534.9) rotate(-90)" text-anchor="end">22</text>
<line x1="253.1" y1="527" x2="253.1" y2="528.4" stroke="#a2a2a2" stroke-width="0.5"/>
<text class="k" transform="translate(254.05,529.8) rotate(-90)" text-anchor="end">13</text>
<text class="k" transform="translate(254.05,534.9) rotate(-90)" text-anchor="end">26</text>
<line x1="257.8" y1="527" x2="257.8" y2="528.4" stroke="#a2a2a2" stroke-width="0.5"/>
<text class="k" transform="translate(258.75,529.8) rotate(-90)" text-anchor="end">07</text>
<text class="k" transform="translate(258.75,534.9) rotate(-90)" text-anchor="end">14</text>
<line x1="266.9" y1="527" x2="266.9" y2="528.4" stroke="#a2a2a2" stroke-width="0.5"/>
<text class="k" transform="translate(267.85,529.8) rotate(-90)" text-anchor="end">51</text>
<text class="k" transform="translate(267.85,534.9) rotate(-90)" text-anchor="end">05</text>
<line x1="273.8" y1="527" x2="273.8" y2="528.4" stroke="#a2a2a2" stroke-width="0.5"/>
<text class="k" transform="translate(274.75,529.8) rotate(-90)" text-anchor="end">57</text>
<text class="k" transform="translate(274.75,534.9) rotate(-90)" text-anchor="end">21</text>
<line x1="282.2" y1="527" x2="282.2" y2="528.4" stroke="#a2a2a2" stroke-width="0.5"/>
<text class="k" transform="translate(283.15,529.8) rotate(-90)" text-anchor="end">01</text>
<text class="k" transform="translate(283.15,534.9) rotate(-90)" text-anchor="end">04</text>
<line x1="290.3" y1="527" x2="290.3" y2="528.4" stroke="#a2a2a2" stroke-width="0.5"/>
<text class="k" transform="translate(291.25,529.8) rotate(-90)" text-anchor="end">45</text>
<text class="k" transform="translate(291.25,534.9) rotate(-90)" text-anchor="end">06</text>
<line x1="296" y1="527" x2="296" y2="528.4" stroke="#a2a2a2" stroke-width="0.5"/>
<text class="k" transform="translate(296.95,529.8) rotate(-90)" text-anchor="end">43</text>
<text class="k" transform="translate(296.95,534.9) rotate(-90)" text-anchor="end">17</text>
<line x1="302.8" y1="527" x2="302.8" y2="528.4" stroke="#a2a2a2" stroke-width="0.5"/>
<text class="k" transform="translate(303.75,529.8) rotate(-90)" text-anchor="end">26</text>
<text class="k" transform="translate(303.75,534.9) rotate(-90)" text-anchor="end">27</text>
<line x1="310" y1="527" x2="310" y2="528.4" stroke="#a2a2a2" stroke-width="0.5"/>
<text class="k" transform="translate(310.95,529.8) rotate(-90)" text-anchor="end">18</text>
<text class="k" transform="translate(310.95,534.9) rotate(-90)" text-anchor="end">12</text>
<line x1="317.8" y1="527" x2="317.8" y2="528.4" stroke="#a2a2a2" stroke-width="0.5"/>
<text class="k" transform="translate(318.75,529.8) rotate(-90)" text-anchor="end">41</text>
<text class="k" transform="translate(318.75,534.9) rotate(-90)" text-anchor="end">15</text>
<line x1="325" y1="527" x2="325" y2="528.4" stroke="#a2a2a2" stroke-width="0.5"/>
<text class="k" transform="translate(325.95,529.8) rotate(-90)" text-anchor="end">20</text>
<text class="k" transform="translate(325.95,534.9) rotate(-90)" text-anchor="end">20</text>
<line x1="331.9" y1="527" x2="331.9" y2="528.4" stroke="#a2a2a2" stroke-width="0.5"/>
<text class="k" transform="translate(332.85,529.8) rotate(-90)" text-anchor="end">23</text>
<text class="k" transform="translate(332.85,534.9) rotate(-90)" text-anchor="end">27</text>
<line x1="340.1" y1="527" x2="340.1" y2="528.4" stroke="#a2a2a2" stroke-width="0.5"/>
<text class="k" transform="translate(341.05,529.8) rotate(-90)" text-anchor="end">25</text>
<text class="k" transform="translate(341.05,534.9) rotate(-90)" text-anchor="end">18</text>
<line x1="347.6" y1="527" x2="347.6" y2="528.4" stroke="#a2a2a2" stroke-width="0.5"/>
<text class="k" transform="translate(348.55,529.8) rotate(-90)" text-anchor="end">13</text>
<text class="k" transform="translate(348.55,534.9) rotate(-90)" text-anchor="end">09</text>
<line x1="357.6" y1="527" x2="357.6" y2="528.4" stroke="#a2a2a2" stroke-width="0.5"/>
<text class="k" transform="translate(358.55,529.8) rotate(-90)" text-anchor="end">53</text>
<text class="k" transform="translate(358.55,534.9) rotate(-90)" text-anchor="end">11</text>
<line x1="371.5" y1="527" x2="371.5" y2="528.4" stroke="#a2a2a2" stroke-width="0.5"/>
<text class="k" transform="translate(372.45,529.8) rotate(-90)" text-anchor="end">43</text>
<text class="k" transform="translate(372.45,534.9) rotate(-90)" text-anchor="end">27</text>
<text class="k" transform="translate(372.45,540.2) rotate(-90)" text-anchor="end">08</text>
<text class="k" transform="translate(372.45,529.8) rotate(-90)" text-anchor="end">03</text>
<text class="k" transform="translate(372.45,534.9) rotate(-90)" text-anchor="end">05</text>
<text class="k" transform="translate(372.45,529.8) rotate(-90)" text-anchor="end">41</text>
<text class="k" transform="translate(372.45,534.9) rotate(-90)" text-anchor="end">00</text>
<line x1="386.4" y1="527" x2="386.4" y2="528.4" stroke="#a2a2a2" stroke-width="0.5"/>
<text class="k" transform="translate(387.35,529.8) rotate(-90)" text-anchor="end">42</text>
<text class="k" transform="translate(387.35,534.9) rotate(-90)" text-anchor="end">14</text>
<text class="k" transform="translate(387.35,540.2) rotate(-90)" text-anchor="end">00</text>
<text class="k" transform="translate(387.35,529.8) rotate(-90)" text-anchor="end">43</text>
<text class="k" transform="translate(387.35,534.9) rotate(-90)" text-anchor="end">15</text>
<text class="k" transform="translate(387.35,529.8) rotate(-90)" text-anchor="end">43</text>
<text class="k" transform="translate(387.35,534.9) rotate(-90)" text-anchor="end">06</text>
<text x="305.75" y="548.4" class="t" font-size="3.7" text-anchor="middle">datetime</text>
</svg>
</body></html>
